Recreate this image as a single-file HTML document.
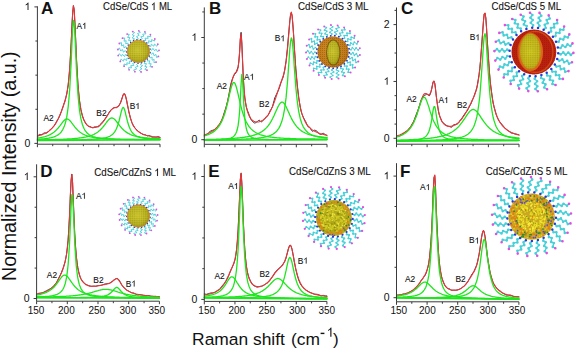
<!DOCTYPE html>
<html><head><meta charset="utf-8"><style>
html,body{margin:0;padding:0;background:#fff;}
svg{display:block;}
text{font-family:"Liberation Sans", sans-serif;fill:#111;}
use{fill:#111;}
.t{stroke:#111;stroke-width:0.1;}
.pl{stroke:#111;stroke-width:0.1;}
</style></head><body>
<svg width="575" height="350" viewBox="0 0 575 350">
<rect width="575" height="350" fill="#fff"/>
<defs>
<path id="one" d="M0.3725,0L0.285,0L0.285,-0.56Q0.24,-0.515 0.17,-0.475Q0.14,-0.458 0.109,-0.445L0.109,-0.53Q0.19,-0.565 0.245,-0.62Q0.30,-0.67 0.325,-0.716L0.3725,-0.716Z" vector-effect="non-scaling-stroke"/>
<radialGradient id="gcore" cx="0.45" cy="0.45" r="0.6"><stop offset="0" stop-color="#d0c830"/><stop offset="0.7" stop-color="#b8b020"/><stop offset="1" stop-color="#909010"/></radialGradient>
<radialGradient id="gcoreY" cx="0.5" cy="0.5" r="0.6"><stop offset="0" stop-color="#d0c820"/><stop offset="0.7" stop-color="#c0b018"/><stop offset="1" stop-color="#b08810"/></radialGradient>
<radialGradient id="gshellB" cx="0.45" cy="0.45" r="0.6"><stop offset="0" stop-color="#d89028"/><stop offset="0.8" stop-color="#c07818"/><stop offset="1" stop-color="#a06010"/></radialGradient>
<radialGradient id="gshellC" cx="0.5" cy="0.5" r="0.55"><stop offset="0" stop-color="#e05018"/><stop offset="0.85" stop-color="#d02a10"/><stop offset="1" stop-color="#a81a08"/></radialGradient>
<radialGradient id="gcoreE" cx="0.5" cy="0.5" r="0.55"><stop offset="0" stop-color="#e0d830"/><stop offset="1" stop-color="#c8b820"/></radialGradient>
<pattern id="tex1" width="2.2" height="2.2" patternUnits="userSpaceOnUse"><circle cx="0.6" cy="0.6" r="0.5" fill="#5a6a10" fill-opacity="0.5"/><circle cx="1.7" cy="1.6" r="0.35" fill="#e8e040" fill-opacity="0.5"/></pattern>
<pattern id="tex2" width="2" height="2" patternUnits="userSpaceOnUse"><circle cx="0.6" cy="0.6" r="0.5" fill="#6a4008" fill-opacity="0.5"/></pattern>
<pattern id="tex3" width="2" height="2" patternUnits="userSpaceOnUse"><circle cx="0.6" cy="0.6" r="0.5" fill="#901000" fill-opacity="0.5"/></pattern>
<pattern id="dotsO" width="3" height="3" patternUnits="userSpaceOnUse"><rect width="3" height="3" fill="#d8c020"/><circle cx="0.8" cy="0.8" r="0.8" fill="#e87018"/><circle cx="2.3" cy="2.3" r="0.6" fill="#3a8a20"/><circle cx="2.3" cy="0.8" r="0.5" fill="#5040c8"/></pattern>
<pattern id="dotsF" width="2.6" height="2.6" patternUnits="userSpaceOnUse"><circle cx="0.7" cy="0.7" r="0.6" fill="#e07818" fill-opacity="0.55"/><circle cx="2" cy="2" r="0.5" fill="#7a8010" fill-opacity="0.5"/></pattern>
<pattern id="dotsM" width="3.4" height="3.4" patternUnits="userSpaceOnUse"><rect width="3.4" height="3.4" fill="#c8b020"/><circle cx="0.9" cy="0.9" r="0.95" fill="#e87818"/><circle cx="2.6" cy="2.6" r="0.8" fill="#2a8a30"/><circle cx="2.6" cy="0.9" r="0.6" fill="#5848d0"/><circle cx="0.9" cy="2.6" r="0.7" fill="#e8d820"/></pattern>
<radialGradient id="gyel" cx="0.5" cy="0.5" r="0.5"><stop offset="0" stop-color="#e8e020" stop-opacity="0.85"/><stop offset="0.55" stop-color="#e0d820" stop-opacity="0.6"/><stop offset="0.8" stop-color="#e0d820" stop-opacity="0.0"/></radialGradient>
</defs>
<path d="M150.1,52.6L151.4,54.3L153.1,52.7L154.0,55.7L155.9,54.4L156.6,57.6L158.4,56.4M149.3,56.0L150.0,58.0L152.1,57.0L152.1,60.2L154.2,59.4L153.9,62.6L156.1,62.1M147.4,59.0L147.5,61.1L149.8,60.8L148.9,63.8L151.2,63.7L149.9,66.7L152.1,66.8M144.8,61.3L144.2,63.4L146.6,63.7L144.8,66.3L147.0,66.9L144.9,69.4L147.0,70.2M141.6,62.8L140.4,64.6L142.6,65.6L140.1,67.6L142.0,68.7L139.3,70.5L141.1,71.9M138.1,63.2L136.5,64.6L138.2,66.2L135.2,67.3L136.7,69.0L133.6,70.0L134.9,71.7M134.6,62.6L132.7,63.4L133.8,65.5L130.7,65.7L131.6,67.8L128.4,67.7L129.1,69.8M131.5,61.0L129.4,61.2L129.9,63.5L126.8,62.8L127.1,65.0L124.0,64.0L124.1,66.2M129.0,58.5L126.9,58.1L126.7,60.5L124.0,58.9L123.6,61.1L120.9,59.2L120.3,61.4M127.3,55.4L125.4,54.4L124.6,56.6L122.4,54.3L121.4,56.3L119.4,53.7L118.2,55.6M126.6,52.0L125.1,50.5L123.6,52.3L122.3,49.4L120.7,51.1L119.5,48.0L117.9,49.5M127.0,48.5L126.0,46.6L124.0,47.9L123.6,44.8L121.6,45.9L121.4,42.6L119.3,43.5M128.3,45.2L128.0,43.1L125.7,43.8L126.2,40.7L124.0,41.2L124.7,38.0L122.5,38.2M130.6,42.6L130.8,40.4L128.5,40.4L129.9,37.6L127.6,37.4L129.3,34.5L127.1,34.1M133.5,40.6L134.4,38.7L132.2,38.0L134.3,35.7L132.2,34.8L134.7,32.6L132.7,31.6M136.9,39.7L138.3,38.1L136.4,36.8L139.2,35.2L137.4,33.7L140.4,32.3L138.8,30.8M140.5,39.8L142.3,38.7L140.8,36.8L143.9,36.1L142.7,34.2L145.9,33.8L144.9,31.8M143.8,40.9L145.9,40.4L145.0,38.2L148.2,38.4L147.5,36.2L150.8,36.7L150.4,34.6M146.6,43.0L148.8,43.0L148.6,40.7L151.6,41.9L151.6,39.6L154.5,41.0L154.8,38.9M148.8,45.8L150.8,46.5L151.3,44.2L153.8,46.2L154.5,44.0L156.9,46.3L157.8,44.2M150.0,49.1L151.7,50.3L152.9,48.3L154.6,50.9L156.0,49.1L157.6,51.9L159.0,50.3" fill="none" stroke="#46d0d8" stroke-width="0.9" stroke-linejoin="round"/>
<path d="M158.4,56.4h0.01M156.1,62.1h0.01M152.1,66.8h0.01M147.0,70.2h0.01M141.1,71.9h0.01M134.9,71.7h0.01M129.1,69.8h0.01M124.1,66.2h0.01M120.3,61.4h0.01M118.2,55.6h0.01M117.9,49.5h0.01M119.3,43.5h0.01M122.5,38.2h0.01M127.1,34.1h0.01M132.7,31.6h0.01M138.8,30.8h0.01M144.9,31.8h0.01M150.4,34.6h0.01M154.8,38.9h0.01M157.8,44.2h0.01M159.0,50.3h0.01" fill="none" stroke="#e050e0" stroke-width="1.8" stroke-linecap="round"/>
<path d="M150.1,52.6h0.01M149.3,56.0h0.01M147.4,59.0h0.01M144.8,61.3h0.01M141.6,62.8h0.01M138.1,63.2h0.01M134.6,62.6h0.01M131.5,61.0h0.01M129.0,58.5h0.01M127.3,55.4h0.01M126.6,52.0h0.01M127.0,48.5h0.01M128.3,45.2h0.01M130.6,42.6h0.01M133.5,40.6h0.01M136.9,39.7h0.01M140.5,39.8h0.01M143.8,40.9h0.01M146.6,43.0h0.01M148.8,45.8h0.01M150.0,49.1h0.01" fill="none" stroke="#2838d8" stroke-width="1.5" stroke-linecap="round"/>
<circle cx="138.4" cy="51.4" r="11.2" fill="url(#gcore)" stroke="#d8782a" stroke-width="0.8"/>
<circle cx="138.4" cy="51.4" r="10.8" fill="url(#tex1)"/>
<path d="M349.3,52.8L351.0,54.3L352.9,52.6L354.4,55.3L356.4,53.6L357.8,56.4L359.9,54.9M348.6,56.8L349.8,58.7L352.1,57.5L352.9,60.5L355.3,59.4L356.0,62.5L358.3,61.5M346.9,60.6L347.6,62.7L350.2,62.1L350.2,65.2L352.7,64.7L352.6,67.9L355.1,67.5M344.3,63.7L344.5,66.0L347.1,66.0L346.4,69.0L348.9,69.2L348.1,72.2L350.6,72.5M341.0,66.2L340.7,68.4L343.2,69.1L341.7,71.8L344.2,72.6L342.6,75.4L344.9,76.3M337.3,67.7L336.4,69.8L338.6,71.1L336.5,73.4L338.7,74.8L336.5,77.0L338.5,78.5M333.2,68.3L331.8,70.1L333.7,71.9L331.1,73.6L332.8,75.5L330.1,77.1L331.7,79.0M329.1,67.8L327.4,69.2L328.7,71.4L325.8,72.4L327.0,74.7L324.0,75.6L325.1,77.8M325.3,66.4L323.3,67.3L324.0,69.8L320.9,70.0L321.6,72.5L318.4,72.6L318.9,75.0M322.0,64.0L319.8,64.4L319.9,67.0L316.8,66.4L316.8,69.0L313.7,68.3L313.6,70.8M319.4,60.9L317.1,60.7L316.6,63.2L313.7,62.0L313.1,64.4L310.3,63.0L309.5,65.4M317.6,57.2L315.4,56.5L314.3,58.8L311.9,56.9L310.6,59.1L308.3,57.0L306.9,59.1M316.7,53.2L314.9,52.0L313.2,53.9L311.3,51.5L309.6,53.3L307.8,50.7L306.0,52.4M317.0,49.2L315.5,47.5L313.3,49.0L312.1,46.1L310.0,47.4L308.9,44.5L306.7,45.7M318.2,45.2L317.1,43.2L314.7,44.2L314.3,41.1L311.8,41.9L311.5,38.7L309.1,39.4M320.3,41.8L319.8,39.6L317.2,39.9L317.6,36.8L315.0,36.9L315.5,33.8L313.0,33.8M323.3,38.9L323.3,36.7L320.8,36.3L321.8,33.4L319.3,32.9L320.6,30.0L318.1,29.4M326.8,36.9L327.4,34.8L325.0,33.8L326.8,31.2L324.5,30.1L326.4,27.6L324.2,26.4M330.7,35.9L331.9,33.9L329.8,32.4L332.2,30.3L330.2,28.7L332.7,26.8L330.9,25.1M334.8,35.8L336.4,34.2L334.8,32.2L337.6,30.8L336.1,28.7L339.0,27.5L337.6,25.4M338.8,36.8L340.7,35.6L339.7,33.3L342.7,32.6L341.8,30.2L344.9,29.7L344.1,27.4M342.4,38.7L344.6,38.1L344.1,35.5L347.2,35.6L346.9,33.1L350.1,33.4L349.9,30.9M345.4,41.4L347.7,41.4L347.9,38.8L350.9,39.7L351.2,37.2L354.2,38.2L354.6,35.8M347.7,44.9L349.9,45.4L350.7,42.9L353.3,44.5L354.3,42.2L356.9,43.9L358.0,41.6M349.0,48.7L351.0,49.8L352.4,47.6L354.6,49.8L356.1,47.8L358.2,50.1L359.8,48.2" fill="none" stroke="#46d0d8" stroke-width="1.0" stroke-linejoin="round"/>
<path d="M351.0,54.3h0.01M352.9,52.6h0.01M354.4,55.3h0.01M356.4,53.6h0.01M357.8,56.4h0.01M349.8,58.7h0.01M352.1,57.5h0.01M352.9,60.5h0.01M355.3,59.4h0.01M356.0,62.5h0.01M347.6,62.7h0.01M350.2,62.1h0.01M350.2,65.2h0.01M352.7,64.7h0.01M352.6,67.9h0.01M344.5,66.0h0.01M347.1,66.0h0.01M346.4,69.0h0.01M348.9,69.2h0.01M348.1,72.2h0.01M340.7,68.4h0.01M343.2,69.1h0.01M341.7,71.8h0.01M344.2,72.6h0.01M342.6,75.4h0.01M336.4,69.8h0.01M338.6,71.1h0.01M336.5,73.4h0.01M338.7,74.8h0.01M336.5,77.0h0.01M331.8,70.1h0.01M333.7,71.9h0.01M331.1,73.6h0.01M332.8,75.5h0.01M330.1,77.1h0.01M327.4,69.2h0.01M328.7,71.4h0.01M325.8,72.4h0.01M327.0,74.7h0.01M324.0,75.6h0.01M323.3,67.3h0.01M324.0,69.8h0.01M320.9,70.0h0.01M321.6,72.5h0.01M318.4,72.6h0.01M319.8,64.4h0.01M319.9,67.0h0.01M316.8,66.4h0.01M316.8,69.0h0.01M313.7,68.3h0.01M317.1,60.7h0.01M316.6,63.2h0.01M313.7,62.0h0.01M313.1,64.4h0.01M310.3,63.0h0.01M315.4,56.5h0.01M314.3,58.8h0.01M311.9,56.9h0.01M310.6,59.1h0.01M308.3,57.0h0.01M314.9,52.0h0.01M313.2,53.9h0.01M311.3,51.5h0.01M309.6,53.3h0.01M307.8,50.7h0.01M315.5,47.5h0.01M313.3,49.0h0.01M312.1,46.1h0.01M310.0,47.4h0.01M308.9,44.5h0.01M317.1,43.2h0.01M314.7,44.2h0.01M314.3,41.1h0.01M311.8,41.9h0.01M311.5,38.7h0.01M319.8,39.6h0.01M317.2,39.9h0.01M317.6,36.8h0.01M315.0,36.9h0.01M315.5,33.8h0.01M323.3,36.7h0.01M320.8,36.3h0.01M321.8,33.4h0.01M319.3,32.9h0.01M320.6,30.0h0.01M327.4,34.8h0.01M325.0,33.8h0.01M326.8,31.2h0.01M324.5,30.1h0.01M326.4,27.6h0.01M331.9,33.9h0.01M329.8,32.4h0.01M332.2,30.3h0.01M330.2,28.7h0.01M332.7,26.8h0.01M336.4,34.2h0.01M334.8,32.2h0.01M337.6,30.8h0.01M336.1,28.7h0.01M339.0,27.5h0.01M340.7,35.6h0.01M339.7,33.3h0.01M342.7,32.6h0.01M341.8,30.2h0.01M344.9,29.7h0.01M344.6,38.1h0.01M344.1,35.5h0.01M347.2,35.6h0.01M346.9,33.1h0.01M350.1,33.4h0.01M347.7,41.4h0.01M347.9,38.8h0.01M350.9,39.7h0.01M351.2,37.2h0.01M354.2,38.2h0.01M349.9,45.4h0.01M350.7,42.9h0.01M353.3,44.5h0.01M354.3,42.2h0.01M356.9,43.9h0.01M351.0,49.8h0.01M352.4,47.6h0.01M354.6,49.8h0.01M356.1,47.8h0.01M358.2,50.1h0.01" fill="none" stroke="#46d0d8" stroke-width="1.7" stroke-linecap="round"/>
<path d="M359.9,54.9h0.01M358.3,61.5h0.01M355.1,67.5h0.01M350.6,72.5h0.01M344.9,76.3h0.01M338.5,78.5h0.01M331.7,79.0h0.01M325.1,77.8h0.01M318.9,75.0h0.01M313.6,70.8h0.01M309.5,65.4h0.01M306.9,59.1h0.01M306.0,52.4h0.01M306.7,45.7h0.01M309.1,39.4h0.01M313.0,33.8h0.01M318.1,29.4h0.01M324.2,26.4h0.01M330.9,25.1h0.01M337.6,25.4h0.01M344.1,27.4h0.01M349.9,30.9h0.01M354.6,35.8h0.01M358.0,41.6h0.01M359.8,48.2h0.01" fill="none" stroke="#e050e0" stroke-width="2.0" stroke-linecap="round"/>
<path d="M349.3,52.8h0.01M348.6,56.8h0.01M346.9,60.6h0.01M344.3,63.7h0.01M341.0,66.2h0.01M337.3,67.7h0.01M333.2,68.3h0.01M329.1,67.8h0.01M325.3,66.4h0.01M322.0,64.0h0.01M319.4,60.9h0.01M317.6,57.2h0.01M316.7,53.2h0.01M317.0,49.2h0.01M318.2,45.2h0.01M320.3,41.8h0.01M323.3,38.9h0.01M326.8,36.9h0.01M330.7,35.9h0.01M334.8,35.8h0.01M338.8,36.8h0.01M342.4,38.7h0.01M345.4,41.4h0.01M347.7,44.9h0.01M349.0,48.7h0.01" fill="none" stroke="#2838d8" stroke-width="1.9" stroke-linecap="round"/>
<circle cx="333.0" cy="52.0" r="15.6" fill="url(#gshellB)"/>
<circle cx="333.0" cy="52.0" r="15.6" fill="url(#tex2)"/>
<ellipse cx="333.3" cy="52.5" rx="7.2" ry="13" fill="#7a5a10"/>
<ellipse cx="333.3" cy="52.5" rx="6.2" ry="12" fill="url(#gcore)"/>
<ellipse cx="333.3" cy="52.5" rx="6.2" ry="12" fill="url(#tex1)"/>
<path d="M558.2,53.2L560.6,54.4L563.3,52.4L565.7,54.7L568.3,52.6L570.8,54.9L573.4,52.9M557.2,59.0L559.3,60.8L562.3,59.4L564.1,62.2L567.2,60.8L569.0,63.7L572.0,62.3M554.8,64.4L556.4,66.6L559.7,66.0L560.8,69.2L564.1,68.6L565.2,71.7L568.5,71.1M551.3,69.0L552.3,71.6L555.7,71.8L555.9,75.1L559.3,75.3L559.5,78.7L562.9,78.9M546.7,72.7L547.1,75.4L550.3,76.4L549.8,79.7L553.0,80.7L552.4,84.0L555.6,85.0M541.4,75.1L541.1,77.9L544.0,79.6L542.7,82.7L545.5,84.4L544.2,87.5L547.1,89.2M535.6,76.2L534.7,78.8L537.1,81.2L535.1,83.9L537.4,86.3L535.4,89.0L537.8,91.3M529.8,75.9L528.3,78.3L530.0,81.1L527.4,83.2L529.1,86.1L526.5,88.2L528.3,91.1M524.2,74.3L522.1,76.1L523.1,79.3L520.1,80.8L521.1,84.0L518.1,85.4L519.1,88.6M519.1,71.3L516.7,72.6L516.9,76.0L513.6,76.6L513.8,80.0L510.5,80.7L510.7,84.0M514.9,67.2L512.3,67.9L511.7,71.2L508.3,71.1L507.7,74.4L504.4,74.2L503.7,77.5M511.8,62.2L509.1,62.3L507.7,65.3L504.5,64.4L503.1,67.5L499.9,66.5L498.5,69.6M510.0,56.6L507.3,56.0L505.3,58.7L502.4,57.0L500.3,59.6L497.4,58.0L495.3,60.6M509.6,50.8L507.2,49.6L504.5,51.6L502.1,49.3L499.5,51.4L497.0,49.1L494.4,51.1M510.6,45.0L508.5,43.2L505.5,44.6L503.7,41.8L500.6,43.2L498.8,40.3L495.8,41.7M513.0,39.6L511.4,37.4L508.1,38.0L507.0,34.8L503.7,35.4L502.6,32.3L499.3,32.9M516.5,35.0L515.5,32.4L512.1,32.2L511.9,28.9L508.5,28.7L508.3,25.3L504.9,25.1M521.1,31.3L520.7,28.6L517.5,27.6L518.0,24.3L514.8,23.3L515.4,20.0L512.2,19.0M526.4,28.9L526.7,26.1L523.8,24.4L525.1,21.3L522.3,19.6L523.6,16.5L520.7,14.8M532.2,27.8L533.1,25.2L530.7,22.8L532.7,20.1L530.4,17.7L532.4,15.0L530.0,12.7M538.0,28.1L539.5,25.7L537.8,22.9L540.4,20.8L538.7,17.9L541.3,15.8L539.5,12.9M543.6,29.7L545.7,27.9L544.7,24.7L547.7,23.2L546.7,20.0L549.7,18.6L548.7,15.4M548.7,32.7L551.1,31.4L550.9,28.0L554.2,27.4L554.0,24.0L557.3,23.3L557.1,20.0M552.9,36.8L555.5,36.1L556.1,32.8L559.5,32.9L560.1,29.6L563.4,29.8L564.1,26.5M556.0,41.8L558.7,41.7L560.1,38.7L563.3,39.6L564.7,36.5L567.9,37.5L569.3,34.4M557.8,47.4L560.5,48.0L562.5,45.3L565.4,47.0L567.5,44.4L570.4,46.0L572.5,43.4" fill="none" stroke="#46d0d8" stroke-width="1.4" stroke-linejoin="round"/>
<path d="M560.6,54.4h0.01M563.3,52.4h0.01M565.7,54.7h0.01M568.3,52.6h0.01M570.8,54.9h0.01M559.3,60.8h0.01M562.3,59.4h0.01M564.1,62.2h0.01M567.2,60.8h0.01M569.0,63.7h0.01M556.4,66.6h0.01M559.7,66.0h0.01M560.8,69.2h0.01M564.1,68.6h0.01M565.2,71.7h0.01M552.3,71.6h0.01M555.7,71.8h0.01M555.9,75.1h0.01M559.3,75.3h0.01M559.5,78.7h0.01M547.1,75.4h0.01M550.3,76.4h0.01M549.8,79.7h0.01M553.0,80.7h0.01M552.4,84.0h0.01M541.1,77.9h0.01M544.0,79.6h0.01M542.7,82.7h0.01M545.5,84.4h0.01M544.2,87.5h0.01M534.7,78.8h0.01M537.1,81.2h0.01M535.1,83.9h0.01M537.4,86.3h0.01M535.4,89.0h0.01M528.3,78.3h0.01M530.0,81.1h0.01M527.4,83.2h0.01M529.1,86.1h0.01M526.5,88.2h0.01M522.1,76.1h0.01M523.1,79.3h0.01M520.1,80.8h0.01M521.1,84.0h0.01M518.1,85.4h0.01M516.7,72.6h0.01M516.9,76.0h0.01M513.6,76.6h0.01M513.8,80.0h0.01M510.5,80.7h0.01M512.3,67.9h0.01M511.7,71.2h0.01M508.3,71.1h0.01M507.7,74.4h0.01M504.4,74.2h0.01M509.1,62.3h0.01M507.7,65.3h0.01M504.5,64.4h0.01M503.1,67.5h0.01M499.9,66.5h0.01M507.3,56.0h0.01M505.3,58.7h0.01M502.4,57.0h0.01M500.3,59.6h0.01M497.4,58.0h0.01M507.2,49.6h0.01M504.5,51.6h0.01M502.1,49.3h0.01M499.5,51.4h0.01M497.0,49.1h0.01M508.5,43.2h0.01M505.5,44.6h0.01M503.7,41.8h0.01M500.6,43.2h0.01M498.8,40.3h0.01M511.4,37.4h0.01M508.1,38.0h0.01M507.0,34.8h0.01M503.7,35.4h0.01M502.6,32.3h0.01M515.5,32.4h0.01M512.1,32.2h0.01M511.9,28.9h0.01M508.5,28.7h0.01M508.3,25.3h0.01M520.7,28.6h0.01M517.5,27.6h0.01M518.0,24.3h0.01M514.8,23.3h0.01M515.4,20.0h0.01M526.7,26.1h0.01M523.8,24.4h0.01M525.1,21.3h0.01M522.3,19.6h0.01M523.6,16.5h0.01M533.1,25.2h0.01M530.7,22.8h0.01M532.7,20.1h0.01M530.4,17.7h0.01M532.4,15.0h0.01M539.5,25.7h0.01M537.8,22.9h0.01M540.4,20.8h0.01M538.7,17.9h0.01M541.3,15.8h0.01M545.7,27.9h0.01M544.7,24.7h0.01M547.7,23.2h0.01M546.7,20.0h0.01M549.7,18.6h0.01M551.1,31.4h0.01M550.9,28.0h0.01M554.2,27.4h0.01M554.0,24.0h0.01M557.3,23.3h0.01M555.5,36.1h0.01M556.1,32.8h0.01M559.5,32.9h0.01M560.1,29.6h0.01M563.4,29.8h0.01M558.7,41.7h0.01M560.1,38.7h0.01M563.3,39.6h0.01M564.7,36.5h0.01M567.9,37.5h0.01M560.5,48.0h0.01M562.5,45.3h0.01M565.4,47.0h0.01M567.5,44.4h0.01M570.4,46.0h0.01" fill="none" stroke="#46d0d8" stroke-width="2.6" stroke-linecap="round"/>
<path d="M573.4,52.9h0.01M572.0,62.3h0.01M568.5,71.1h0.01M562.9,78.9h0.01M555.6,85.0h0.01M547.1,89.2h0.01M537.8,91.3h0.01M528.3,91.1h0.01M519.1,88.6h0.01M510.7,84.0h0.01M503.7,77.5h0.01M498.5,69.6h0.01M495.3,60.6h0.01M494.4,51.1h0.01M495.8,41.7h0.01M499.3,32.9h0.01M504.9,25.1h0.01M512.2,19.0h0.01M520.7,14.8h0.01M530.0,12.7h0.01M539.5,12.9h0.01M548.7,15.4h0.01M557.1,20.0h0.01M564.1,26.5h0.01M569.3,34.4h0.01M572.5,43.4h0.01" fill="none" stroke="#e050e0" stroke-width="2.6" stroke-linecap="round"/>
<path d="M558.2,53.2h0.01M557.2,59.0h0.01M554.8,64.4h0.01M551.3,69.0h0.01M546.7,72.7h0.01M541.4,75.1h0.01M535.6,76.2h0.01M529.8,75.9h0.01M524.2,74.3h0.01M519.1,71.3h0.01M514.9,67.2h0.01M511.8,62.2h0.01M510.0,56.6h0.01M509.6,50.8h0.01M510.6,45.0h0.01M513.0,39.6h0.01M516.5,35.0h0.01M521.1,31.3h0.01M526.4,28.9h0.01M532.2,27.8h0.01M538.0,28.1h0.01M543.6,29.7h0.01M548.7,32.7h0.01M552.9,36.8h0.01M556.0,41.8h0.01M557.8,47.4h0.01" fill="none" stroke="#2838d8" stroke-width="2.5" stroke-linecap="round"/>
<circle cx="533.9" cy="52.0" r="22.4" fill="#b82010"/>
<circle cx="533.9" cy="52.0" r="22.4" fill="url(#tex3)"/>
<ellipse cx="535.4" cy="52.0" rx="17.5" ry="20.5" fill="none" stroke="#d85a18" stroke-width="1.3" stroke-opacity="0.7"/>
<ellipse cx="530.7" cy="52.0" rx="12.3" ry="19" fill="#d86a18"/>
<ellipse cx="530.3" cy="51.4" rx="10.3" ry="17.7" fill="url(#gcoreY)"/>
<ellipse cx="530.3" cy="51.4" rx="10.3" ry="17.7" fill="url(#tex1)"/>
<path d="M150.1,217.2L151.2,218.9L152.7,217.2L153.4,220.2L154.9,218.8L155.4,221.8L157.1,220.6M149.3,220.6L149.8,222.5L151.7,221.4L151.5,224.4L153.4,223.5L152.9,226.6L154.9,225.9M147.4,223.6L147.3,225.6L149.5,225.1L148.4,227.9L150.5,227.6L149.2,230.4L151.3,230.3M144.8,225.9L144.1,227.8L146.3,227.9L144.4,230.3L146.6,230.7L144.4,233.0L146.5,233.5M141.6,227.4L140.4,228.9L142.5,229.7L140.0,231.5L141.9,232.4L139.2,234.0L141.0,235.1M138.1,227.8L136.5,228.9L138.2,230.3L135.3,231.2L136.9,232.7L133.8,233.4L135.2,235.0M134.6,227.2L132.8,227.8L134.0,229.6L131.0,229.7L132.0,231.5L128.9,231.3L129.8,233.2M131.5,225.6L129.5,225.6L130.2,227.7L127.3,226.9L127.7,229.0L124.8,227.8L125.1,229.9M129.0,223.1L127.1,222.6L127.1,224.8L124.6,223.1L124.4,225.2L121.9,223.3L121.6,225.4M127.3,220.0L125.7,219.0L125.0,221.1L123.1,218.7L122.3,220.7L120.5,218.1L119.6,220.0M126.6,216.6L125.3,215.1L124.1,216.9L123.0,214.1L121.6,215.7L120.7,212.8L119.2,214.3M127.0,213.1L126.2,211.3L124.5,212.7L124.2,209.6L122.4,210.8L122.4,207.7L120.6,208.7M128.3,209.8L128.1,207.9L126.1,208.7L126.7,205.7L124.7,206.3L125.6,203.3L123.6,203.8M130.6,207.2L131.0,205.2L128.8,205.4L130.3,202.7L128.1,202.7L129.9,200.1L127.8,199.9M133.5,205.2L134.5,203.5L132.3,203.0L134.6,200.9L132.5,200.3L134.9,198.3L133.0,197.5M136.9,204.3L138.4,202.9L136.4,201.8L139.2,200.5L137.4,199.3L140.3,198.1L138.7,196.8M140.5,204.4L142.2,203.5L140.7,201.9L143.7,201.4L142.4,199.7L145.5,199.5L144.4,197.7M143.8,205.5L145.7,205.2L144.8,203.2L147.8,203.6L147.0,201.6L150.1,202.3L149.5,200.3M146.6,207.6L148.6,207.8L148.3,205.6L151.0,206.9L150.9,204.8L153.6,206.3L153.6,204.2M148.8,210.4L150.6,211.2L150.9,209.0L153.1,211.0L153.6,209.0L155.8,211.2L156.4,209.3M150.0,213.7L151.4,215.0L152.4,213.0L153.9,215.6L155.0,213.8L156.4,216.6L157.6,214.9" fill="none" stroke="#46d0d8" stroke-width="0.9" stroke-linejoin="round"/>
<path d="M157.1,220.6h0.01M154.9,225.9h0.01M151.3,230.3h0.01M146.5,233.5h0.01M141.0,235.1h0.01M135.2,235.0h0.01M129.8,233.2h0.01M125.1,229.9h0.01M121.6,225.4h0.01M119.6,220.0h0.01M119.2,214.3h0.01M120.6,208.7h0.01M123.6,203.8h0.01M127.8,199.9h0.01M133.0,197.5h0.01M138.7,196.8h0.01M144.4,197.7h0.01M149.5,200.3h0.01M153.6,204.2h0.01M156.4,209.3h0.01M157.6,214.9h0.01" fill="none" stroke="#e050e0" stroke-width="1.8" stroke-linecap="round"/>
<path d="M150.1,217.2h0.01M149.3,220.6h0.01M147.4,223.6h0.01M144.8,225.9h0.01M141.6,227.4h0.01M138.1,227.8h0.01M134.6,227.2h0.01M131.5,225.6h0.01M129.0,223.1h0.01M127.3,220.0h0.01M126.6,216.6h0.01M127.0,213.1h0.01M128.3,209.8h0.01M130.6,207.2h0.01M133.5,205.2h0.01M136.9,204.3h0.01M140.5,204.4h0.01M143.8,205.5h0.01M146.6,207.6h0.01M148.8,210.4h0.01M150.0,213.7h0.01" fill="none" stroke="#2838d8" stroke-width="1.5" stroke-linecap="round"/>
<circle cx="138.4" cy="216.0" r="11.2" fill="url(#gcore)" stroke="#d8782a" stroke-width="0.8"/>
<circle cx="138.4" cy="216.0" r="10.8" fill="url(#tex1)"/>
<path d="M352.7,218.9L354.6,220.6L356.8,219.3L358.5,222.1L360.7,221.0L362.3,224.0L364.5,223.2M351.8,223.8L353.2,225.8L355.6,225.2L356.6,228.3L359.0,227.9L359.7,231.2L362.1,230.9M349.7,228.2L350.5,230.6L353.0,230.5L353.1,233.8L355.6,234.0L355.4,237.4L357.8,237.8M346.5,231.9L346.7,234.4L349.1,235.1L348.4,238.3L350.7,239.1L349.7,242.3L351.9,243.3M342.5,234.7L342.0,237.2L344.2,238.4L342.6,241.3L344.7,242.7L342.9,245.6L344.7,247.1M337.9,236.4L336.8,238.7L338.6,240.4L336.3,242.8L337.9,244.7L335.4,246.9L336.8,248.9M333.0,236.8L331.3,238.7L332.6,240.9L329.8,242.6L330.9,244.8L327.9,246.4L328.7,248.6M328.1,235.9L326.1,237.3L326.7,239.7L323.6,240.7L324.0,243.1L320.7,243.8L321.0,246.2M323.7,233.8L321.3,234.6L321.4,237.1L318.1,237.2L317.9,239.7L314.5,239.5L314.1,241.9M320.0,230.6L317.5,230.8L316.8,233.2L313.6,232.5L312.8,234.8L309.6,233.8L308.6,236.0M317.2,226.6L314.7,226.1L313.5,228.3L310.6,226.7L309.2,228.8L306.3,227.0L304.8,228.8M315.5,222.0L313.2,220.9L311.5,222.7L309.1,220.4L307.2,222.0L305.0,219.5L303.0,220.9M315.1,217.1L313.2,215.4L311.0,216.7L309.3,213.9L307.1,215.0L305.5,212.0L303.3,212.8M316.0,212.2L314.6,210.2L312.2,210.8L311.2,207.7L308.8,208.1L308.1,204.8L305.7,205.1M318.1,207.8L317.3,205.4L314.8,205.5L314.7,202.2L312.2,202.0L312.4,198.6L310.0,198.2M321.3,204.1L321.1,201.6L318.7,200.9L319.4,197.7L317.1,196.9L318.1,193.7L315.9,192.7M325.3,201.3L325.8,198.8L323.6,197.6L325.2,194.7L323.1,193.3L324.9,190.4L323.1,188.9M329.9,199.6L331.0,197.3L329.2,195.6L331.5,193.2L329.9,191.3L332.4,189.1L331.0,187.1M334.8,199.2L336.5,197.3L335.2,195.1L338.0,193.4L336.9,191.2L339.9,189.6L339.1,187.4M339.7,200.1L341.7,198.7L341.1,196.3L344.2,195.3L343.8,192.9L347.1,192.2L346.8,189.8M344.1,202.2L346.5,201.4L346.4,198.9L349.7,198.8L349.9,196.3L353.3,196.5L353.7,194.1M347.8,205.4L350.3,205.2L351.0,202.8L354.2,203.5L355.0,201.2L358.2,202.2L359.2,200.0M350.6,209.4L353.1,209.9L354.3,207.7L357.2,209.3L358.6,207.2L361.5,209.0L363.0,207.2M352.3,214.0L354.6,215.1L356.3,213.3L358.7,215.6L360.6,214.0L362.8,216.5L364.8,215.1" fill="none" stroke="#46d0d8" stroke-width="1.1" stroke-linejoin="round"/>
<path d="M354.6,220.6h0.01M356.8,219.3h0.01M358.5,222.1h0.01M360.7,221.0h0.01M362.3,224.0h0.01M353.2,225.8h0.01M355.6,225.2h0.01M356.6,228.3h0.01M359.0,227.9h0.01M359.7,231.2h0.01M350.5,230.6h0.01M353.0,230.5h0.01M353.1,233.8h0.01M355.6,234.0h0.01M355.4,237.4h0.01M346.7,234.4h0.01M349.1,235.1h0.01M348.4,238.3h0.01M350.7,239.1h0.01M349.7,242.3h0.01M342.0,237.2h0.01M344.2,238.4h0.01M342.6,241.3h0.01M344.7,242.7h0.01M342.9,245.6h0.01M336.8,238.7h0.01M338.6,240.4h0.01M336.3,242.8h0.01M337.9,244.7h0.01M335.4,246.9h0.01M331.3,238.7h0.01M332.6,240.9h0.01M329.8,242.6h0.01M330.9,244.8h0.01M327.9,246.4h0.01M326.1,237.3h0.01M326.7,239.7h0.01M323.6,240.7h0.01M324.0,243.1h0.01M320.7,243.8h0.01M321.3,234.6h0.01M321.4,237.1h0.01M318.1,237.2h0.01M317.9,239.7h0.01M314.5,239.5h0.01M317.5,230.8h0.01M316.8,233.2h0.01M313.6,232.5h0.01M312.8,234.8h0.01M309.6,233.8h0.01M314.7,226.1h0.01M313.5,228.3h0.01M310.6,226.7h0.01M309.2,228.8h0.01M306.3,227.0h0.01M313.2,220.9h0.01M311.5,222.7h0.01M309.1,220.4h0.01M307.2,222.0h0.01M305.0,219.5h0.01M313.2,215.4h0.01M311.0,216.7h0.01M309.3,213.9h0.01M307.1,215.0h0.01M305.5,212.0h0.01M314.6,210.2h0.01M312.2,210.8h0.01M311.2,207.7h0.01M308.8,208.1h0.01M308.1,204.8h0.01M317.3,205.4h0.01M314.8,205.5h0.01M314.7,202.2h0.01M312.2,202.0h0.01M312.4,198.6h0.01M321.1,201.6h0.01M318.7,200.9h0.01M319.4,197.7h0.01M317.1,196.9h0.01M318.1,193.7h0.01M325.8,198.8h0.01M323.6,197.6h0.01M325.2,194.7h0.01M323.1,193.3h0.01M324.9,190.4h0.01M331.0,197.3h0.01M329.2,195.6h0.01M331.5,193.2h0.01M329.9,191.3h0.01M332.4,189.1h0.01M336.5,197.3h0.01M335.2,195.1h0.01M338.0,193.4h0.01M336.9,191.2h0.01M339.9,189.6h0.01M341.7,198.7h0.01M341.1,196.3h0.01M344.2,195.3h0.01M343.8,192.9h0.01M347.1,192.2h0.01M346.5,201.4h0.01M346.4,198.9h0.01M349.7,198.8h0.01M349.9,196.3h0.01M353.3,196.5h0.01M350.3,205.2h0.01M351.0,202.8h0.01M354.2,203.5h0.01M355.0,201.2h0.01M358.2,202.2h0.01M353.1,209.9h0.01M354.3,207.7h0.01M357.2,209.3h0.01M358.6,207.2h0.01M361.5,209.0h0.01M354.6,215.1h0.01M356.3,213.3h0.01M358.7,215.6h0.01M360.6,214.0h0.01M362.8,216.5h0.01" fill="none" stroke="#46d0d8" stroke-width="2.2" stroke-linecap="round"/>
<path d="M364.5,223.2h0.01M362.1,230.9h0.01M357.8,237.8h0.01M351.9,243.3h0.01M344.7,247.1h0.01M336.8,248.9h0.01M328.7,248.6h0.01M321.0,246.2h0.01M314.1,241.9h0.01M308.6,236.0h0.01M304.8,228.8h0.01M303.0,220.9h0.01M303.3,212.8h0.01M305.7,205.1h0.01M310.0,198.2h0.01M315.9,192.7h0.01M323.1,188.9h0.01M331.0,187.1h0.01M339.1,187.4h0.01M346.8,189.8h0.01M353.7,194.1h0.01M359.2,200.0h0.01M363.0,207.2h0.01M364.8,215.1h0.01" fill="none" stroke="#e050e0" stroke-width="2.3" stroke-linecap="round"/>
<path d="M352.7,218.9h0.01M351.8,223.8h0.01M349.7,228.2h0.01M346.5,231.9h0.01M342.5,234.7h0.01M337.9,236.4h0.01M333.0,236.8h0.01M328.1,235.9h0.01M323.7,233.8h0.01M320.0,230.6h0.01M317.2,226.6h0.01M315.5,222.0h0.01M315.1,217.1h0.01M316.0,212.2h0.01M318.1,207.8h0.01M321.3,204.1h0.01M325.3,201.3h0.01M329.9,199.6h0.01M334.8,199.2h0.01M339.7,200.1h0.01M344.1,202.2h0.01M347.8,205.4h0.01M350.6,209.4h0.01M352.3,214.0h0.01" fill="none" stroke="#2838d8" stroke-width="2.2" stroke-linecap="round"/>
<circle cx="333.9" cy="218.0" r="17.9" fill="#b0a818"/>
<path d="M332.2,220.1h0.01M332.6,215.9h0.01M343.4,214.4h0.01M332.0,206.9h0.01M323.6,209.3h0.01M341.2,209.3h0.01M324.2,220.1h0.01M338.0,210.1h0.01M335.6,226.5h0.01M342.4,225.3h0.01M330.9,228.4h0.01M323.1,215.5h0.01M320.9,217.9h0.01M338.6,223.6h0.01M336.4,231.6h0.01M323.3,225.9h0.01M322.2,212.1h0.01M334.5,226.0h0.01M329.6,230.4h0.01M334.5,214.4h0.01M336.2,217.7h0.01M331.5,229.3h0.01M327.3,211.4h0.01M323.2,224.5h0.01M344.7,225.3h0.01M340.9,227.6h0.01M339.8,212.2h0.01M341.1,227.4h0.01M329.1,210.3h0.01M336.1,210.3h0.01M331.4,217.2h0.01M324.7,218.8h0.01M341.9,216.9h0.01M343.9,219.1h0.01M337.2,222.8h0.01M323.5,212.4h0.01M331.2,209.3h0.01M329.2,223.5h0.01M327.6,219.7h0.01M336.2,217.5h0.01M326.9,226.1h0.01M341.4,220.5h0.01M327.4,214.4h0.01M344.5,219.5h0.01M336.1,206.4h0.01M333.7,219.3h0.01M345.6,224.0h0.01M331.1,205.3h0.01M323.8,208.5h0.01M327.2,219.7h0.01M333.2,209.4h0.01M334.5,209.9h0.01M332.9,213.4h0.01M335.1,205.5h0.01M333.2,216.9h0.01M344.3,215.0h0.01M328.1,214.1h0.01M325.2,207.3h0.01M341.9,212.0h0.01M322.4,214.5h0.01M330.3,225.2h0.01M329.5,218.3h0.01M334.5,225.7h0.01M324.8,220.7h0.01M332.6,204.5h0.01M345.5,210.4h0.01M324.6,220.6h0.01M339.6,211.1h0.01M338.3,224.8h0.01M342.9,217.5h0.01M332.9,206.3h0.01M338.6,207.0h0.01M342.0,211.3h0.01M344.3,213.4h0.01M328.9,223.7h0.01M334.5,218.2h0.01M340.5,218.7h0.01M321.7,224.8h0.01M333.5,227.4h0.01M321.2,216.4h0.01M346.9,221.2h0.01M332.6,214.2h0.01M328.9,205.6h0.01M328.9,227.5h0.01M323.3,210.1h0.01" stroke="#e8e040" stroke-width="1.7" stroke-linecap="round" fill="none"/>
<path d="M332.7,218.3h0.01M322.6,218.4h0.01M334.6,223.0h0.01M330.1,230.7h0.01M337.5,213.4h0.01M322.3,213.3h0.01M341.0,217.9h0.01M328.4,225.1h0.01M335.7,227.6h0.01M342.1,223.0h0.01M335.2,218.1h0.01M327.5,212.8h0.01M323.3,222.7h0.01M335.0,230.6h0.01M334.1,227.2h0.01M335.7,218.5h0.01M338.5,214.6h0.01M328.7,223.0h0.01M332.9,206.2h0.01M331.1,219.0h0.01M331.9,224.0h0.01M325.7,224.6h0.01M325.7,215.3h0.01M338.6,213.5h0.01M329.9,207.1h0.01M334.5,219.6h0.01M323.9,227.5h0.01M344.7,213.9h0.01M347.1,218.6h0.01M323.5,219.6h0.01M331.3,218.4h0.01M344.3,223.7h0.01M335.5,220.2h0.01M342.4,213.8h0.01M334.6,209.5h0.01M330.6,215.6h0.01M342.9,211.0h0.01M322.4,220.0h0.01M337.4,225.7h0.01M327.3,222.3h0.01M335.8,208.8h0.01M328.4,206.7h0.01M327.2,215.3h0.01" stroke="#8a8a10" stroke-width="1.7" stroke-linecap="round" fill="none"/>
<path d="M326.9,203.3h0.01M329.8,234.4h0.01M351.0,219.3h0.01M327.5,232.7h0.01M334.1,235.3h0.01M326.1,206.3h0.01M332.5,234.7h0.01M317.2,216.6h0.01M343.7,228.3h0.01M347.6,211.7h0.01" stroke="#5848d0" stroke-width="1.7" stroke-linecap="round" fill="none"/>
<path d="M339.4,222.1h0.01M339.7,216.5h0.01M324.2,210.4h0.01M343.9,209.8h0.01M331.1,207.7h0.01M327.8,210.7h0.01M337.4,210.6h0.01M325.6,216.1h0.01M340.7,221.0h0.01M333.3,226.3h0.01M336.5,222.5h0.01M336.9,221.9h0.01M342.3,220.9h0.01M337.5,217.3h0.01M340.3,207.4h0.01M329.8,221.0h0.01M325.9,207.8h0.01M338.4,217.8h0.01M341.4,220.5h0.01M320.9,216.4h0.01M323.1,217.1h0.01M341.6,206.5h0.01M338.0,227.2h0.01M339.0,225.8h0.01M323.9,219.0h0.01M346.2,220.1h0.01M334.8,220.6h0.01M325.6,217.0h0.01M333.1,211.5h0.01M334.3,209.1h0.01M335.0,215.7h0.01M330.8,219.1h0.01M324.6,226.1h0.01M331.1,228.4h0.01M330.4,224.6h0.01M340.5,206.9h0.01M332.5,227.5h0.01M332.7,218.5h0.01M332.3,226.6h0.01M330.5,226.0h0.01M328.2,216.9h0.01M336.4,219.2h0.01M342.4,209.3h0.01M338.8,229.1h0.01M337.4,227.3h0.01M345.2,221.7h0.01M338.3,216.4h0.01M325.4,220.9h0.01M344.1,222.5h0.01M338.3,227.6h0.01M326.7,227.9h0.01M323.6,223.8h0.01M342.0,213.2h0.01M331.7,228.8h0.01M329.1,213.1h0.01M335.6,228.3h0.01M342.7,223.3h0.01M343.4,214.2h0.01M341.4,228.8h0.01M339.2,227.9h0.01M337.3,208.1h0.01M339.5,208.6h0.01M341.5,221.8h0.01M321.6,211.6h0.01M325.7,225.8h0.01M337.0,230.8h0.01M332.7,225.7h0.01M329.5,225.5h0.01M336.2,216.5h0.01M323.4,222.2h0.01M329.5,219.4h0.01M327.9,214.9h0.01M328.3,223.4h0.01M345.5,222.0h0.01M328.6,218.0h0.01M338.5,207.2h0.01M345.3,221.6h0.01M322.6,219.7h0.01M323.1,216.9h0.01M329.8,220.5h0.01M327.9,223.1h0.01M337.5,216.9h0.01M332.0,218.1h0.01M334.8,208.7h0.01M330.2,208.5h0.01M324.7,210.8h0.01M345.2,214.3h0.01M332.9,207.5h0.01M327.0,225.5h0.01M325.9,223.0h0.01M334.9,219.1h0.01M337.5,210.3h0.01M326.2,227.2h0.01M326.0,219.7h0.01M337.8,208.5h0.01M324.4,217.6h0.01M336.8,218.0h0.01M333.8,215.7h0.01M325.4,228.7h0.01M325.5,221.2h0.01M330.7,213.1h0.01M330.1,210.8h0.01M342.3,208.3h0.01M329.6,228.1h0.01M332.7,211.1h0.01M327.5,213.9h0.01M321.4,221.4h0.01M342.0,223.9h0.01" stroke="#d0c820" stroke-width="1.7" stroke-linecap="round" fill="none"/>
<path d="M346.1,225.4h0.01M343.1,204.3h0.01M320.7,223.1h0.01M326.9,231.8h0.01M319.2,221.0h0.01M345.3,209.0h0.01M347.6,221.7h0.01M347.5,226.2h0.01M348.4,223.7h0.01M325.9,206.2h0.01M332.2,202.8h0.01M345.7,208.6h0.01M317.7,222.6h0.01M341.9,204.8h0.01M338.4,232.7h0.01M328.5,203.1h0.01M333.6,234.1h0.01M318.4,219.4h0.01M338.1,233.2h0.01M319.8,226.3h0.01M321.2,206.7h0.01M341.1,230.3h0.01M343.9,229.3h0.01M329.4,203.6h0.01M321.6,227.1h0.01M348.1,226.9h0.01M317.9,219.0h0.01M319.7,219.5h0.01M349.0,215.4h0.01M326.1,205.2h0.01M348.0,209.0h0.01M347.5,210.2h0.01M319.0,222.8h0.01M341.4,232.9h0.01M322.0,207.4h0.01M318.1,211.1h0.01M350.3,217.4h0.01M346.3,229.5h0.01M321.6,229.9h0.01M327.1,202.8h0.01M340.6,203.9h0.01M337.2,203.3h0.01M343.5,229.5h0.01M327.8,233.4h0.01M331.5,232.5h0.01M339.8,231.1h0.01M336.3,232.4h0.01M337.0,201.7h0.01M348.2,211.1h0.01M323.0,230.1h0.01M347.1,225.6h0.01M340.9,233.7h0.01M347.7,221.2h0.01M329.8,233.4h0.01M322.2,228.0h0.01M344.3,208.6h0.01M345.4,206.2h0.01M349.4,213.1h0.01M321.9,207.4h0.01M346.9,207.4h0.01M318.6,224.9h0.01M322.5,209.5h0.01M349.1,225.7h0.01M334.6,202.1h0.01M320.9,225.4h0.01" stroke="#e87818" stroke-width="1.7" stroke-linecap="round" fill="none"/>
<path d="M348.6,216.9h0.01M320.7,213.1h0.01M348.6,225.2h0.01M346.4,225.6h0.01M323.5,230.6h0.01M350.6,220.4h0.01M337.9,202.2h0.01M324.5,204.2h0.01M322.8,209.0h0.01M318.9,226.5h0.01M344.9,230.0h0.01M330.6,202.7h0.01M325.5,232.7h0.01M340.0,205.3h0.01" stroke="#2a8a30" stroke-width="1.7" stroke-linecap="round" fill="none"/>
<path d="M330.2,202.7h0.01M344.5,206.5h0.01M350.3,217.4h0.01M348.8,212.7h0.01M347.9,211.8h0.01M349.8,216.7h0.01M322.9,208.2h0.01M346.7,208.4h0.01M323.0,206.0h0.01M325.2,232.7h0.01M348.4,219.8h0.01M319.1,224.3h0.01M350.3,223.0h0.01M318.2,216.5h0.01M348.7,212.3h0.01M327.8,233.9h0.01M319.4,224.4h0.01M343.4,232.4h0.01M348.4,218.9h0.01M348.2,226.3h0.01M344.8,208.0h0.01M344.4,204.5h0.01M322.5,208.5h0.01M326.8,233.3h0.01M348.5,220.5h0.01M317.4,214.5h0.01M318.1,212.4h0.01" stroke="#c8b020" stroke-width="1.7" stroke-linecap="round" fill="none"/>
<path d="M555.9,217.8L558.3,219.7L560.9,218.4L563.1,221.7L565.8,220.7L567.8,224.1L570.5,223.4M554.8,223.8L556.7,226.2L559.6,225.7L560.9,229.3L563.7,229.0L564.8,232.9L567.6,232.8M552.3,229.4L553.5,232.2L556.4,232.3L556.8,236.2L559.6,236.6L559.7,240.6L562.5,241.3M548.5,234.1L548.9,237.1L551.7,238.0L551.1,241.9L553.8,243.0L552.8,246.9L555.3,248.2M543.6,237.7L543.3,240.8L545.8,242.3L544.2,245.9L546.5,247.7L544.7,251.2L546.7,253.1M537.9,240.1L536.9,242.9L538.9,245.1L536.5,248.1L538.3,250.4L535.6,253.4L537.2,255.7M531.9,240.9L530.2,243.4L531.6,246.0L528.5,248.4L529.7,251.0L526.4,253.2L527.3,255.9M525.9,240.2L523.5,242.2L524.3,245.1L520.7,246.6L521.2,249.4L517.4,250.8L517.7,253.6M520.2,238.0L517.4,239.4L517.4,242.4L513.6,243.0L513.4,245.8L509.4,246.2L508.9,248.9M515.2,234.5L512.2,235.2L511.5,238.0L507.6,237.7L506.7,240.4L502.7,239.7L501.6,242.3M511.3,229.9L508.2,229.8L506.8,232.4L503.1,231.0L501.5,233.4L497.9,231.8L496.1,234.0M508.6,224.4L505.7,223.5L503.7,225.7L500.4,223.5L498.3,225.4L495.2,222.9L492.9,224.6M507.4,218.4L504.7,216.9L502.3,218.5L499.7,215.5L497.2,216.9L494.7,213.7L492.1,214.8M507.7,212.4L505.5,210.2L502.7,211.1L501.0,207.6L498.2,208.3L496.6,204.6L493.8,205.0M509.5,206.5L507.9,203.9L505.0,204.1L504.2,200.3L501.3,200.2L500.7,196.3L497.9,196.0M512.7,201.4L511.8,198.4L509.0,197.9L509.1,194.0L506.3,193.2L506.7,189.2L504.1,188.2M517.1,197.1L517.0,194.1L514.3,192.8L515.4,189.1L512.9,187.7L514.3,183.9L512.0,182.3M522.4,194.1L523.1,191.1L520.8,189.3L522.8,185.9L520.7,183.9L523.0,180.6L521.1,178.5M528.2,192.5L529.7,189.8L527.9,187.4L530.7,184.7L529.2,182.2L532.2,179.6L531.0,177.1M534.3,192.5L536.4,190.2L535.3,187.4L538.6,185.5L537.8,182.7L541.4,180.9L540.8,178.2M540.3,193.9L542.8,192.2L542.4,189.3L546.2,188.2L546.0,185.3L549.9,184.5L550.1,181.7M545.6,196.8L548.5,195.7L548.9,192.8L552.8,192.7L553.4,189.9L557.4,190.1L558.2,187.4M550.1,200.9L553.2,200.6L554.2,197.9L558.0,198.7L559.3,196.1L563.1,197.3L564.6,194.9M553.5,206.0L556.5,206.5L558.2,204.1L561.7,205.9L563.5,203.7L567.0,205.7L569.0,203.8M555.4,211.7L558.2,213.0L560.5,211.1L563.4,213.7L565.7,212.0L568.5,214.9L571.0,213.5" fill="none" stroke="#46d0d8" stroke-width="1.4" stroke-linejoin="round"/>
<path d="M558.3,219.7h0.01M560.9,218.4h0.01M563.1,221.7h0.01M565.8,220.7h0.01M567.8,224.1h0.01M556.7,226.2h0.01M559.6,225.7h0.01M560.9,229.3h0.01M563.7,229.0h0.01M564.8,232.9h0.01M553.5,232.2h0.01M556.4,232.3h0.01M556.8,236.2h0.01M559.6,236.6h0.01M559.7,240.6h0.01M548.9,237.1h0.01M551.7,238.0h0.01M551.1,241.9h0.01M553.8,243.0h0.01M552.8,246.9h0.01M543.3,240.8h0.01M545.8,242.3h0.01M544.2,245.9h0.01M546.5,247.7h0.01M544.7,251.2h0.01M536.9,242.9h0.01M538.9,245.1h0.01M536.5,248.1h0.01M538.3,250.4h0.01M535.6,253.4h0.01M530.2,243.4h0.01M531.6,246.0h0.01M528.5,248.4h0.01M529.7,251.0h0.01M526.4,253.2h0.01M523.5,242.2h0.01M524.3,245.1h0.01M520.7,246.6h0.01M521.2,249.4h0.01M517.4,250.8h0.01M517.4,239.4h0.01M517.4,242.4h0.01M513.6,243.0h0.01M513.4,245.8h0.01M509.4,246.2h0.01M512.2,235.2h0.01M511.5,238.0h0.01M507.6,237.7h0.01M506.7,240.4h0.01M502.7,239.7h0.01M508.2,229.8h0.01M506.8,232.4h0.01M503.1,231.0h0.01M501.5,233.4h0.01M497.9,231.8h0.01M505.7,223.5h0.01M503.7,225.7h0.01M500.4,223.5h0.01M498.3,225.4h0.01M495.2,222.9h0.01M504.7,216.9h0.01M502.3,218.5h0.01M499.7,215.5h0.01M497.2,216.9h0.01M494.7,213.7h0.01M505.5,210.2h0.01M502.7,211.1h0.01M501.0,207.6h0.01M498.2,208.3h0.01M496.6,204.6h0.01M507.9,203.9h0.01M505.0,204.1h0.01M504.2,200.3h0.01M501.3,200.2h0.01M500.7,196.3h0.01M511.8,198.4h0.01M509.0,197.9h0.01M509.1,194.0h0.01M506.3,193.2h0.01M506.7,189.2h0.01M517.0,194.1h0.01M514.3,192.8h0.01M515.4,189.1h0.01M512.9,187.7h0.01M514.3,183.9h0.01M523.1,191.1h0.01M520.8,189.3h0.01M522.8,185.9h0.01M520.7,183.9h0.01M523.0,180.6h0.01M529.7,189.8h0.01M527.9,187.4h0.01M530.7,184.7h0.01M529.2,182.2h0.01M532.2,179.6h0.01M536.4,190.2h0.01M535.3,187.4h0.01M538.6,185.5h0.01M537.8,182.7h0.01M541.4,180.9h0.01M542.8,192.2h0.01M542.4,189.3h0.01M546.2,188.2h0.01M546.0,185.3h0.01M549.9,184.5h0.01M548.5,195.7h0.01M548.9,192.8h0.01M552.8,192.7h0.01M553.4,189.9h0.01M557.4,190.1h0.01M553.2,200.6h0.01M554.2,197.9h0.01M558.0,198.7h0.01M559.3,196.1h0.01M563.1,197.3h0.01M556.5,206.5h0.01M558.2,204.1h0.01M561.7,205.9h0.01M563.5,203.7h0.01M567.0,205.7h0.01M558.2,213.0h0.01M560.5,211.1h0.01M563.4,213.7h0.01M565.7,212.0h0.01M568.5,214.9h0.01" fill="none" stroke="#46d0d8" stroke-width="2.6" stroke-linecap="round"/>
<path d="M570.5,223.4h0.01M567.6,232.8h0.01M562.5,241.3h0.01M555.3,248.2h0.01M546.7,253.1h0.01M537.2,255.7h0.01M527.3,255.9h0.01M517.7,253.6h0.01M508.9,248.9h0.01M501.6,242.3h0.01M496.1,234.0h0.01M492.9,224.6h0.01M492.1,214.8h0.01M493.8,205.0h0.01M497.9,196.0h0.01M504.1,188.2h0.01M512.0,182.3h0.01M521.1,178.5h0.01M531.0,177.1h0.01M540.8,178.2h0.01M550.1,181.7h0.01M558.2,187.4h0.01M564.6,194.9h0.01M569.0,203.8h0.01M571.0,213.5h0.01" fill="none" stroke="#e050e0" stroke-width="2.6" stroke-linecap="round"/>
<path d="M555.9,217.8h0.01M554.8,223.8h0.01M552.3,229.4h0.01M548.5,234.1h0.01M543.6,237.7h0.01M537.9,240.1h0.01M531.9,240.9h0.01M525.9,240.2h0.01M520.2,238.0h0.01M515.2,234.5h0.01M511.3,229.9h0.01M508.6,224.4h0.01M507.4,218.4h0.01M507.7,212.4h0.01M509.5,206.5h0.01M512.7,201.4h0.01M517.1,197.1h0.01M522.4,194.1h0.01M528.2,192.5h0.01M534.3,192.5h0.01M540.3,193.9h0.01M545.6,196.8h0.01M550.1,200.9h0.01M553.5,206.0h0.01M555.4,211.7h0.01" fill="none" stroke="#2838d8" stroke-width="2.5" stroke-linecap="round"/>
<circle cx="531.6" cy="216.6" r="23.2" fill="#c8a820"/>
<path d="M530.4,223.9h0.01M540.4,221.3h0.01M519.3,210.3h0.01M521.2,209.4h0.01M519.0,217.9h0.01M520.2,225.1h0.01M543.7,212.8h0.01M527.3,208.4h0.01M522.9,225.7h0.01M543.7,211.7h0.01M542.4,208.4h0.01M531.8,222.9h0.01M543.5,213.1h0.01M519.0,215.8h0.01M530.9,202.4h0.01M533.8,221.0h0.01M522.2,208.8h0.01M526.8,217.3h0.01M530.0,210.1h0.01M542.1,216.7h0.01M526.0,216.1h0.01M543.9,219.0h0.01M545.3,217.9h0.01M527.3,230.5h0.01M532.7,229.5h0.01M518.8,212.1h0.01M521.5,219.8h0.01M534.7,218.4h0.01M530.1,229.4h0.01M536.6,225.6h0.01M529.1,225.3h0.01M543.2,209.7h0.01M535.3,223.5h0.01M527.2,222.5h0.01M530.7,217.8h0.01M529.4,222.5h0.01M518.0,216.1h0.01M535.0,213.5h0.01M519.5,216.7h0.01M529.1,221.3h0.01M545.2,212.9h0.01M526.8,207.4h0.01M520.9,215.7h0.01M535.2,228.2h0.01M544.8,210.7h0.01M535.1,208.5h0.01M536.9,217.7h0.01M536.1,223.9h0.01M532.0,208.1h0.01M532.8,231.0h0.01M523.6,229.1h0.01M536.2,215.0h0.01M522.0,224.1h0.01M520.2,219.2h0.01M532.3,224.5h0.01M523.4,216.2h0.01M541.2,222.4h0.01M535.2,212.8h0.01M520.5,217.1h0.01M543.5,223.4h0.01M518.9,211.2h0.01M529.0,228.5h0.01M523.4,228.3h0.01M536.8,223.0h0.01M532.7,227.7h0.01M544.7,219.6h0.01M539.5,209.0h0.01M541.6,213.8h0.01M528.2,224.3h0.01M520.1,213.0h0.01M522.7,209.0h0.01M524.2,210.2h0.01M533.5,228.0h0.01M517.4,219.4h0.01M532.9,228.6h0.01M528.9,223.6h0.01M530.9,205.9h0.01M535.7,204.2h0.01M525.6,228.7h0.01M531.8,204.5h0.01M521.8,214.2h0.01M531.1,205.4h0.01M526.5,204.1h0.01M519.5,223.9h0.01M525.4,202.9h0.01M534.0,211.4h0.01M536.1,226.6h0.01M523.3,208.9h0.01M521.9,207.0h0.01M524.9,203.2h0.01M525.0,226.2h0.01M534.8,206.6h0.01M523.3,221.4h0.01M540.7,205.0h0.01M537.5,217.9h0.01M542.4,210.8h0.01M526.2,207.9h0.01" stroke="#f8f040" stroke-width="1.7" stroke-linecap="round" fill="none"/>
<path d="M525.8,206.1h0.01M530.0,221.5h0.01M520.0,214.7h0.01M532.9,223.6h0.01M536.6,228.4h0.01M520.5,218.2h0.01M533.9,218.6h0.01M544.6,213.7h0.01M521.1,225.7h0.01M538.1,226.1h0.01M535.0,203.6h0.01M528.3,218.6h0.01M542.1,212.3h0.01M532.3,225.1h0.01M535.4,223.7h0.01M526.5,216.5h0.01M531.3,210.2h0.01M521.3,209.7h0.01M527.6,209.8h0.01M518.1,219.8h0.01M517.5,218.0h0.01M524.2,227.2h0.01M534.4,213.6h0.01M525.5,210.8h0.01M535.6,219.1h0.01M538.3,224.6h0.01" stroke="#8a9a10" stroke-width="1.7" stroke-linecap="round" fill="none"/>
<path d="M539.1,200.1h0.01M511.9,225.3h0.01M527.2,232.5h0.01M528.0,199.7h0.01M546.2,212.0h0.01M516.7,225.7h0.01M510.8,214.7h0.01M521.5,215.5h0.01M530.7,237.8h0.01M551.3,210.3h0.01M543.1,235.7h0.01M520.8,229.2h0.01M537.5,205.6h0.01M521.9,233.9h0.01M541.1,203.3h0.01M513.0,209.8h0.01M539.0,236.8h0.01M509.8,216.0h0.01M516.7,224.4h0.01M519.5,208.6h0.01M521.4,202.7h0.01M516.0,226.6h0.01M517.2,201.9h0.01M548.4,221.6h0.01M551.4,215.5h0.01M525.2,207.2h0.01M546.7,228.5h0.01M525.4,209.6h0.01M511.8,224.6h0.01M539.7,201.4h0.01M521.5,232.4h0.01M535.8,215.6h0.01M529.7,236.9h0.01M549.7,230.1h0.01M515.4,232.2h0.01M513.8,207.7h0.01M551.6,217.9h0.01M513.4,222.0h0.01M528.6,194.4h0.01M525.7,235.2h0.01M548.7,223.6h0.01M521.7,197.2h0.01M514.9,221.4h0.01M553.2,218.1h0.01M521.6,228.5h0.01M522.3,233.9h0.01M541.2,202.9h0.01M549.3,224.0h0.01M517.9,203.6h0.01M537.4,208.6h0.01M526.6,202.7h0.01M515.1,218.5h0.01M519.2,227.3h0.01M531.4,235.6h0.01M548.3,205.5h0.01M549.2,224.5h0.01M514.2,202.7h0.01M548.4,201.9h0.01M542.5,199.9h0.01M518.0,213.8h0.01M547.4,218.3h0.01M520.7,234.7h0.01M520.3,229.0h0.01M546.7,207.9h0.01M548.9,208.0h0.01M513.4,213.1h0.01M546.2,227.7h0.01M537.3,197.6h0.01M514.8,201.7h0.01M529.0,198.7h0.01M516.1,213.0h0.01M516.9,222.2h0.01M534.4,234.3h0.01M531.4,225.1h0.01M526.2,201.6h0.01M525.9,199.1h0.01M552.3,208.8h0.01M547.7,221.9h0.01M513.2,214.5h0.01M539.9,198.8h0.01M550.0,226.6h0.01M549.9,205.7h0.01M548.6,205.3h0.01M517.6,222.2h0.01M537.5,198.9h0.01M516.5,223.4h0.01M534.3,234.4h0.01M514.6,216.4h0.01M535.0,229.7h0.01M542.3,211.2h0.01M550.5,210.3h0.01M512.9,217.0h0.01M547.2,206.2h0.01M543.0,201.4h0.01M516.3,221.5h0.01M511.8,211.1h0.01M545.1,205.5h0.01M527.2,232.8h0.01M518.6,204.7h0.01M541.5,230.0h0.01M533.0,233.9h0.01M514.4,221.6h0.01M548.4,214.1h0.01M526.7,199.9h0.01M546.7,227.5h0.01M537.2,202.7h0.01M546.9,207.7h0.01M516.7,217.1h0.01M516.4,211.4h0.01M547.9,227.8h0.01M544.9,231.7h0.01M521.0,196.8h0.01M551.9,217.8h0.01M545.8,204.7h0.01M510.7,214.8h0.01M517.0,226.5h0.01M511.6,218.2h0.01M532.4,219.1h0.01M550.5,205.7h0.01M522.7,198.6h0.01M550.4,226.6h0.01M525.9,234.7h0.01M536.8,195.6h0.01M551.5,220.2h0.01M515.2,219.3h0.01M511.5,208.9h0.01M532.8,200.6h0.01M514.9,220.3h0.01M509.9,222.2h0.01M537.1,201.8h0.01M521.7,232.1h0.01M552.1,222.9h0.01M548.5,210.5h0.01M548.4,204.1h0.01M524.8,202.6h0.01M543.4,232.7h0.01M525.3,232.8h0.01M543.5,201.8h0.01M520.3,198.0h0.01M525.4,232.5h0.01M546.8,211.8h0.01M549.5,204.5h0.01M547.0,212.1h0.01M553.0,213.6h0.01M517.7,203.5h0.01M536.6,234.2h0.01M533.9,237.8h0.01M527.7,231.2h0.01M513.1,204.3h0.01M548.1,205.2h0.01M531.7,237.5h0.01M552.8,215.1h0.01M528.8,227.8h0.01M532.4,216.9h0.01M514.6,226.0h0.01M523.4,229.7h0.01M547.7,221.0h0.01M544.5,208.2h0.01M544.6,198.2h0.01M534.3,199.5h0.01M549.1,228.4h0.01M513.7,226.9h0.01M548.1,218.6h0.01M530.9,200.0h0.01M540.3,202.6h0.01M512.5,207.6h0.01M547.8,214.4h0.01M534.6,196.7h0.01M544.7,224.4h0.01M528.0,198.1h0.01M519.7,231.1h0.01M544.2,199.7h0.01M514.5,205.3h0.01M510.8,223.9h0.01M548.5,204.5h0.01M535.3,208.0h0.01M518.2,224.2h0.01M549.2,202.9h0.01M513.5,212.6h0.01M513.5,218.0h0.01M532.4,194.7h0.01M512.5,214.4h0.01M551.8,221.9h0.01M518.2,203.2h0.01M513.6,211.6h0.01M549.5,208.3h0.01M547.9,226.3h0.01M548.2,207.5h0.01M538.0,229.1h0.01M551.8,218.3h0.01M545.7,228.8h0.01" stroke="#e87818" stroke-width="1.7" stroke-linecap="round" fill="none"/>
<path d="M532.0,197.6h0.01M510.3,222.1h0.01M541.4,235.3h0.01M526.5,233.9h0.01M547.5,221.6h0.01M517.9,205.2h0.01M532.7,195.9h0.01M547.1,203.2h0.01M551.3,216.2h0.01M537.0,238.2h0.01M536.6,237.6h0.01M526.1,233.4h0.01M520.0,231.0h0.01M519.0,233.3h0.01M546.8,233.3h0.01M516.5,213.4h0.01M523.1,195.8h0.01M512.8,215.6h0.01M516.0,206.0h0.01M516.6,207.1h0.01M549.2,213.6h0.01M527.3,237.5h0.01M551.7,224.9h0.01M514.5,222.3h0.01M551.5,226.7h0.01M544.0,226.1h0.01M509.8,214.1h0.01M547.7,211.9h0.01M540.5,204.0h0.01M513.5,220.3h0.01M522.6,231.4h0.01M514.0,228.7h0.01M539.2,198.1h0.01M548.8,230.9h0.01M546.1,211.6h0.01M534.2,201.2h0.01M546.9,227.8h0.01M524.3,232.2h0.01M511.4,214.1h0.01M548.0,215.5h0.01M515.2,202.4h0.01M520.2,204.2h0.01M520.7,198.2h0.01M512.9,204.3h0.01M515.5,206.1h0.01M527.9,194.9h0.01M539.1,195.7h0.01M542.7,227.3h0.01M523.6,196.6h0.01M547.9,201.8h0.01M531.8,232.5h0.01M531.0,197.6h0.01M550.9,226.7h0.01M539.4,236.3h0.01M529.7,233.7h0.01M553.4,215.5h0.01M545.9,207.0h0.01M515.6,225.6h0.01M524.2,198.3h0.01M538.4,201.1h0.01M520.7,201.3h0.01M511.5,220.8h0.01M545.5,229.1h0.01M548.8,216.8h0.01M524.0,196.4h0.01M513.1,209.9h0.01M517.0,206.9h0.01M539.2,229.8h0.01M520.1,235.7h0.01M527.0,200.1h0.01M541.3,198.4h0.01M549.6,208.3h0.01" stroke="#e0d020" stroke-width="1.7" stroke-linecap="round" fill="none"/>
<path d="M537.2,201.0h0.01M552.2,217.3h0.01M520.0,198.7h0.01M533.5,237.6h0.01M543.3,231.6h0.01M516.2,221.0h0.01M550.9,211.6h0.01M530.4,195.8h0.01M528.7,201.7h0.01M544.5,233.2h0.01M540.3,198.0h0.01M546.6,202.6h0.01M536.2,230.9h0.01M547.2,225.1h0.01M509.4,212.6h0.01M553.4,219.2h0.01M510.9,223.4h0.01M544.6,225.9h0.01M524.7,202.9h0.01M535.5,237.4h0.01M527.2,200.9h0.01M515.0,201.8h0.01M516.4,204.1h0.01M536.3,235.3h0.01M522.3,203.1h0.01M548.6,202.5h0.01M551.1,221.1h0.01M544.2,205.1h0.01M548.1,221.9h0.01M521.9,202.3h0.01M520.5,202.1h0.01M520.9,199.9h0.01M517.6,230.7h0.01" stroke="#5848d0" stroke-width="1.7" stroke-linecap="round" fill="none"/>
<path d="M536.1,215.5h0.01M539.2,209.9h0.01M540.4,224.7h0.01M546.0,216.6h0.01M518.7,213.2h0.01M527.9,204.6h0.01M535.3,209.5h0.01M542.5,219.5h0.01M533.2,230.0h0.01M540.9,211.7h0.01M531.6,225.8h0.01M534.1,225.0h0.01M525.1,207.7h0.01M518.9,218.7h0.01M527.5,222.1h0.01M527.3,211.0h0.01M526.9,230.9h0.01M525.0,227.5h0.01M540.2,218.3h0.01M537.8,211.4h0.01M532.4,226.6h0.01M540.1,213.2h0.01M523.1,204.6h0.01M536.2,224.4h0.01M533.3,210.2h0.01M526.3,221.8h0.01M520.1,212.8h0.01M542.6,222.7h0.01M526.0,207.8h0.01M531.7,214.7h0.01M526.9,202.9h0.01M537.0,226.5h0.01M523.0,205.4h0.01M525.1,212.0h0.01M537.3,210.0h0.01M531.1,212.7h0.01M539.9,220.8h0.01M530.3,214.2h0.01M517.8,212.5h0.01M540.1,217.4h0.01M523.4,220.6h0.01M521.2,218.9h0.01M538.8,225.5h0.01M522.9,226.5h0.01M524.9,207.8h0.01M540.2,226.9h0.01M545.1,218.2h0.01M528.2,202.0h0.01M523.7,226.8h0.01M518.8,221.1h0.01M538.9,225.7h0.01M533.3,218.5h0.01M539.5,223.0h0.01M534.3,225.2h0.01M537.5,218.5h0.01M520.7,215.9h0.01M532.3,223.4h0.01M538.4,208.4h0.01M528.2,226.7h0.01M524.4,217.2h0.01M538.5,229.7h0.01M537.2,208.2h0.01M541.7,206.2h0.01M525.9,206.4h0.01M536.8,203.6h0.01M538.0,203.9h0.01M518.9,219.3h0.01M527.2,209.3h0.01M534.8,217.1h0.01M538.6,214.6h0.01M535.8,219.4h0.01M518.8,221.6h0.01M545.5,216.7h0.01M541.3,218.1h0.01M544.5,222.2h0.01M534.5,224.4h0.01M524.2,207.2h0.01M542.9,208.8h0.01M522.7,222.7h0.01M531.4,217.3h0.01M523.1,223.3h0.01M523.0,218.9h0.01M537.8,210.8h0.01M543.7,224.1h0.01M533.8,217.2h0.01M532.2,214.1h0.01M544.5,212.4h0.01M543.9,225.0h0.01M540.6,210.8h0.01M537.6,225.0h0.01M521.3,211.6h0.01M521.0,206.4h0.01M526.8,219.2h0.01M520.3,219.1h0.01M518.6,223.4h0.01M527.9,222.0h0.01M534.4,230.8h0.01M538.2,212.8h0.01M534.5,204.5h0.01M518.3,216.6h0.01M544.7,210.0h0.01M536.2,224.3h0.01M526.0,206.4h0.01M533.9,226.5h0.01M537.8,206.1h0.01M519.0,213.1h0.01M530.4,228.6h0.01M535.2,218.4h0.01M521.0,224.5h0.01M532.2,204.2h0.01M541.8,217.6h0.01M536.7,209.1h0.01M541.6,220.6h0.01M521.8,207.2h0.01M521.9,226.4h0.01M540.5,209.2h0.01M524.4,206.1h0.01M534.5,204.0h0.01M530.3,231.5h0.01M534.8,228.6h0.01M529.1,202.9h0.01M534.9,222.0h0.01M536.4,213.6h0.01M536.8,204.3h0.01M524.1,223.0h0.01M534.7,230.1h0.01M526.9,220.1h0.01" stroke="#e8d820" stroke-width="1.7" stroke-linecap="round" fill="none"/>
<path d="M546.6,213.4h0.01M544.2,198.2h0.01M544.9,232.0h0.01M553.8,219.4h0.01M551.7,225.4h0.01M537.3,199.2h0.01M547.0,204.0h0.01M521.7,236.8h0.01M523.3,199.2h0.01M517.5,223.0h0.01M543.3,204.5h0.01M547.3,232.3h0.01M551.1,217.6h0.01M523.2,236.6h0.01M551.7,217.3h0.01M550.8,223.6h0.01M541.9,198.9h0.01M548.0,220.2h0.01M520.3,226.6h0.01M514.1,211.2h0.01M547.0,216.4h0.01M516.5,220.8h0.01M546.2,210.8h0.01M543.0,229.1h0.01M539.9,232.9h0.01M522.7,234.9h0.01M529.7,236.5h0.01M534.3,196.1h0.01M540.5,202.0h0.01M524.7,232.2h0.01M546.2,209.6h0.01M526.0,233.8h0.01M549.3,220.1h0.01M546.0,205.8h0.01M530.0,234.7h0.01M526.1,201.4h0.01M549.4,207.8h0.01M544.2,203.5h0.01M516.5,204.9h0.01M536.6,232.2h0.01M531.7,200.7h0.01M538.4,233.2h0.01M517.5,233.2h0.01M537.7,200.3h0.01M531.2,234.5h0.01M524.0,234.6h0.01" stroke="#2a8a30" stroke-width="1.7" stroke-linecap="round" fill="none"/>
<g fill="none" stroke-linejoin="round" stroke-linecap="round">
<path d="M37.4,136.0L38.1,135.5L38.9,134.9L39.6,134.4L40.4,134.5L41.1,134.6L41.9,134.6L42.6,134.0L43.4,133.4L44.1,132.9L44.9,133.0L45.6,133.1L46.4,133.1L47.1,132.6L47.9,132.1L48.6,131.5L49.4,130.7L50.1,129.8L50.9,129.0L51.6,128.5L52.4,127.8L53.1,127.1L53.9,126.2L54.6,125.2L55.4,124.0L56.1,122.6L56.9,121.1L57.6,119.8L58.4,118.5L59.1,117.1L59.9,115.4L60.6,113.5L61.4,111.4L62.1,109.2L62.9,107.0L63.6,104.6L64.4,102.4L65.2,100.0L65.9,97.3L66.7,94.1L67.4,90.0L68.2,84.9L68.9,77.9L69.7,68.8L70.4,57.0L71.2,42.6L71.9,26.6L72.7,12.5L73.4,5.6L74.2,9.6L74.9,23.0L75.7,40.5L76.4,57.5L77.2,72.0L77.9,83.7L78.7,92.9L79.4,100.0L80.2,105.3L80.9,109.5L81.7,112.9L82.4,115.7L83.2,118.0L83.9,119.9L84.7,121.5L85.4,122.9L86.2,124.1L86.9,125.1L87.7,125.9L88.4,126.4L89.2,126.5L89.9,126.5L90.7,126.8L91.4,127.3L92.2,127.7L92.9,127.6L93.7,127.3L94.4,126.9L95.2,126.9L95.9,126.9L96.7,126.8L97.4,126.8L98.2,126.8L98.9,126.7L99.7,125.7L100.4,124.6L101.2,123.3L101.9,122.6L102.7,121.8L103.4,121.0L104.2,120.0L104.9,119.0L105.7,118.0L106.4,116.8L107.2,115.6L107.9,114.3L108.7,113.2L109.4,112.0L110.2,111.0L110.9,110.1L111.7,109.4L112.4,108.8L113.2,108.2L113.9,107.7L114.7,107.5L115.4,107.6L116.2,107.7L116.9,107.5L117.7,106.9L118.4,106.1L119.2,105.1L119.9,103.9L120.7,102.3L121.4,100.2L122.2,97.6L122.9,95.2L123.7,93.8L124.4,93.7L125.2,95.1L125.9,97.6L126.7,100.9L127.4,104.7L128.2,108.4L128.9,111.9L129.7,115.0L130.4,117.9L131.2,120.4L131.9,122.6L132.7,124.3L133.4,125.7L134.2,126.9L134.9,127.9L135.7,128.7L136.4,129.4L137.2,130.3L137.9,131.0L138.7,131.7L139.4,132.2L140.2,132.7L140.9,133.1L141.7,133.7L142.4,134.2L143.2,134.6L143.9,134.7L144.7,134.8L145.4,134.9L146.2,135.3L146.9,135.7L147.7,135.9L148.4,135.7L149.2,135.6L149.9,135.7L150.7,136.3L151.4,136.8L152.2,137.2L152.9,137.2L153.7,137.2L154.4,137.2L155.2,137.1L155.9,137.0L156.7,136.9L157.4,136.7L158.2,136.6L158.9,136.8L159.7,137.2L160.0,137.3" stroke="#303040" stroke-width="1.0"/>
<path d="M37.4,136.1L38.1,135.9L38.9,135.7L39.6,135.4L40.4,135.2L41.1,135.0L41.9,134.7L42.6,134.4L43.4,134.1L44.1,133.8L44.9,133.4L45.6,133.0L46.4,132.6L47.1,132.2L47.9,131.7L48.6,131.2L49.4,130.6L50.1,130.0L50.9,129.3L51.6,128.6L52.4,127.8L53.1,126.9L53.9,126.0L54.6,124.9L55.4,123.8L56.1,122.6L56.9,121.3L57.6,119.9L58.4,118.4L59.1,116.8L59.9,115.1L60.6,113.3L61.4,111.4L62.1,109.5L62.9,107.4L63.6,105.3L64.4,103.0L65.2,100.5L65.9,97.6L66.7,94.3L67.4,90.1L68.2,84.8L68.9,77.9L69.7,68.9L70.4,57.2L71.2,42.7L71.9,26.7L72.7,12.6L73.4,5.7L74.2,9.8L74.9,23.2L75.7,40.6L76.4,57.7L77.2,72.1L77.9,83.7L78.7,92.8L79.4,99.8L80.2,105.3L80.9,109.7L81.7,113.1L82.4,115.9L83.2,118.2L83.9,120.0L84.7,121.5L85.4,122.8L86.2,123.9L86.9,124.7L87.7,125.4L88.4,126.0L89.2,126.5L89.9,126.9L90.7,127.2L91.4,127.4L92.2,127.5L92.9,127.6L93.7,127.6L94.4,127.5L95.2,127.4L95.9,127.2L96.7,127.0L97.4,126.6L98.2,126.3L98.9,125.8L99.7,125.3L100.4,124.7L101.2,124.0L101.9,123.3L102.7,122.4L103.4,121.5L104.2,120.5L104.9,119.4L105.7,118.3L106.4,117.1L107.2,115.9L107.9,114.7L108.7,113.5L109.4,112.3L110.2,111.2L110.9,110.2L111.7,109.4L112.4,108.8L113.2,108.3L113.9,107.9L114.7,107.7L115.4,107.5L116.2,107.4L116.9,107.1L117.7,106.8L118.4,106.2L119.2,105.3L119.9,104.0L120.7,102.3L121.4,100.3L122.2,98.0L122.9,95.8L123.7,94.3L124.4,93.8L125.2,94.8L125.9,97.2L126.7,100.6L127.4,104.4L128.2,108.3L128.9,111.9L129.7,115.2L130.4,118.0L131.2,120.4L131.9,122.4L132.7,124.2L133.4,125.7L134.2,126.9L134.9,128.0L135.7,129.0L136.4,129.8L137.2,130.6L137.9,131.2L138.7,131.8L139.4,132.3L140.2,132.8L140.9,133.2L141.7,133.6L142.4,133.9L143.2,134.3L143.9,134.5L144.7,134.8L145.4,135.0L146.2,135.3L146.9,135.5L147.7,135.7L148.4,135.8L149.2,136.0L149.9,136.2L150.7,136.3L151.4,136.4L152.2,136.6L152.9,136.7L153.7,136.8L154.4,136.9L155.2,137.0L155.9,137.1L156.7,137.2L157.4,137.3L158.2,137.3L158.9,137.4L159.7,137.5L160.0,137.5" stroke="#ee3434" stroke-width="1.1"/>
<path d="M37.9,140.4L160.0,139.8" stroke="#1ee61e" stroke-width="1.6"/>
<path d="M37.4,139.4L38.1,139.3L38.9,139.3L39.6,139.2L40.4,139.1L41.1,139.1L41.9,139.0L42.6,138.9L43.4,138.9L44.1,138.8L44.9,138.7L45.6,138.6L46.4,138.5L47.1,138.4L47.9,138.3L48.6,138.2L49.4,138.0L50.1,137.9L50.9,137.7L51.6,137.5L52.4,137.3L53.1,137.1L53.9,136.9L54.6,136.6L55.4,136.3L56.1,135.9L56.9,135.5L57.6,135.1L58.4,134.6L59.1,134.0L59.9,133.4L60.6,132.6L61.4,131.7L62.1,130.6L62.9,129.3L63.6,127.8L64.4,125.9L65.2,123.6L65.9,120.8L66.7,117.2L67.4,112.7L68.2,106.8L68.9,99.3L69.7,89.5L70.4,77.0L71.2,61.7L71.9,44.6L72.7,29.0L73.4,20.4L74.2,22.6L74.9,34.7L75.7,51.4L76.4,68.1L77.2,82.3L77.9,93.7L78.7,102.5L79.4,109.3L80.2,114.6L80.9,118.7L81.7,121.9L82.4,124.5L83.2,126.6L83.9,128.3L84.7,129.8L85.4,130.9L86.2,131.9L86.9,132.8L87.7,133.5L88.4,134.1L89.2,134.7L89.9,135.1L90.7,135.5L91.4,135.9L92.2,136.2L92.9,136.5L93.7,136.8L94.4,137.0L95.2,137.2L95.9,137.4L96.7,137.6L97.4,137.7L98.2,137.8L98.9,138.0L99.7,138.1L100.4,138.2L101.2,138.3L101.9,138.4L102.7,138.5L103.4,138.5L104.2,138.6L104.9,138.7L105.7,138.7L106.4,138.8L107.2,138.8L107.9,138.9L108.7,138.9L109.4,139.0L110.2,139.0L110.9,139.1L111.7,139.1L112.4,139.1L113.2,139.1L113.9,139.2L114.7,139.2L115.4,139.2L116.2,139.3L116.9,139.3L117.7,139.3L118.4,139.3L119.2,139.3L119.9,139.4L120.7,139.4L121.4,139.4L122.2,139.4L122.9,139.4L123.7,139.4L124.4,139.4L125.2,139.5L125.9,139.5L126.7,139.5L127.4,139.5L128.2,139.5L128.9,139.5L129.7,139.5L130.4,139.5L131.2,139.5L131.9,139.5L132.7,139.5L133.4,139.5L134.2,139.5L134.9,139.6L135.7,139.6L136.4,139.6L137.2,139.6L137.9,139.6L138.7,139.6L139.4,139.6L140.2,139.6L140.9,139.6L141.7,139.6L142.4,139.6L143.2,139.6L143.9,139.6L144.7,139.6L145.4,139.6L146.2,139.6L146.9,139.6L147.7,139.6L148.4,139.6L149.2,139.6L149.9,139.6L150.7,139.6L151.4,139.6L152.2,139.6L152.9,139.6L153.7,139.6L154.4,139.6L155.2,139.6L155.9,139.6L156.7,139.6L157.4,139.6L158.2,139.6L158.9,139.6L159.7,139.6L160.0,139.6" stroke="#1ee61e" stroke-width="1.3"/>
<path d="M37.4,138.1L38.1,138.0L38.9,137.9L39.6,137.8L40.4,137.6L41.1,137.5L41.9,137.3L42.6,137.2L43.4,137.0L44.1,136.8L44.9,136.6L45.6,136.4L46.4,136.1L47.1,135.9L47.9,135.6L48.6,135.3L49.4,134.9L50.1,134.6L50.9,134.2L51.6,133.7L52.4,133.3L53.1,132.7L53.9,132.2L54.6,131.6L55.4,130.9L56.1,130.2L56.9,129.4L57.6,128.6L58.4,127.7L59.1,126.8L59.9,125.8L60.6,124.8L61.4,123.8L62.1,122.8L62.9,121.8L63.6,120.9L64.4,120.2L65.2,119.6L65.9,119.2L66.7,119.0L67.4,119.0L68.2,119.3L68.9,119.8L69.7,120.4L70.4,121.2L71.2,122.1L71.9,123.1L72.7,124.1L73.4,125.1L74.2,126.1L74.9,127.1L75.7,128.0L76.4,128.8L77.2,129.6L77.9,130.4L78.7,131.1L79.4,131.7L80.2,132.3L80.9,132.8L81.7,133.3L82.4,133.8L83.2,134.2L83.9,134.5L84.7,134.9L85.4,135.2L86.2,135.5L86.9,135.8L87.7,136.0L88.4,136.2L89.2,136.5L89.9,136.7L90.7,136.8L91.4,137.0L92.2,137.1L92.9,137.3L93.7,137.4L94.4,137.5L95.2,137.7L95.9,137.8L96.7,137.9L97.4,138.0L98.2,138.1L98.9,138.1L99.7,138.2L100.4,138.3L101.2,138.4L101.9,138.4L102.7,138.5L103.4,138.5L104.2,138.6L104.9,138.6L105.7,138.7L106.4,138.7L107.2,138.8L107.9,138.8L108.7,138.9L109.4,138.9L110.2,138.9L110.9,139.0L111.7,139.0L112.4,139.0L113.2,139.0L113.9,139.1L114.7,139.1L115.4,139.1L116.2,139.1L116.9,139.2L117.7,139.2L118.4,139.2L119.2,139.2L119.9,139.2L120.7,139.3L121.4,139.3L122.2,139.3L122.9,139.3L123.7,139.3L124.4,139.3L125.2,139.3L125.9,139.3L126.7,139.4L127.4,139.4L128.2,139.4L128.9,139.4L129.7,139.4L130.4,139.4L131.2,139.4L131.9,139.4L132.7,139.4L133.4,139.4L134.2,139.4L134.9,139.5L135.7,139.5L136.4,139.5L137.2,139.5L137.9,139.5L138.7,139.5L139.4,139.5L140.2,139.5L140.9,139.5L141.7,139.5L142.4,139.5L143.2,139.5L143.9,139.5L144.7,139.5L145.4,139.5L146.2,139.5L146.9,139.5L147.7,139.5L148.4,139.5L149.2,139.5L149.9,139.5L150.7,139.5L151.4,139.5L152.2,139.5L152.9,139.5L153.7,139.5L154.4,139.5L155.2,139.5L155.9,139.5L156.7,139.5L157.4,139.5L158.2,139.5L158.9,139.5L159.7,139.5L160.0,139.5" stroke="#1ee61e" stroke-width="1.3"/>
<path d="M37.4,140.0L38.1,139.9L38.9,139.9L39.6,139.9L40.4,139.9L41.1,139.9L41.9,139.9L42.6,139.9L43.4,139.8L44.1,139.8L44.9,139.8L45.6,139.8L46.4,139.8L47.1,139.8L47.9,139.7L48.6,139.7L49.4,139.7L50.1,139.7L50.9,139.7L51.6,139.7L52.4,139.6L53.1,139.6L53.9,139.6L54.6,139.6L55.4,139.5L56.1,139.5L56.9,139.5L57.6,139.5L58.4,139.4L59.1,139.4L59.9,139.4L60.6,139.4L61.4,139.3L62.1,139.3L62.9,139.3L63.6,139.2L64.4,139.2L65.2,139.2L65.9,139.1L66.7,139.1L67.4,139.0L68.2,139.0L68.9,139.0L69.7,138.9L70.4,138.9L71.2,138.8L71.9,138.8L72.7,138.7L73.4,138.6L74.2,138.6L74.9,138.5L75.7,138.4L76.4,138.4L77.2,138.3L77.9,138.2L78.7,138.1L79.4,138.0L80.2,137.9L80.9,137.8L81.7,137.7L82.4,137.6L83.2,137.5L83.9,137.4L84.7,137.2L85.4,137.1L86.2,136.9L86.9,136.7L87.7,136.6L88.4,136.4L89.2,136.1L89.9,135.9L90.7,135.7L91.4,135.4L92.2,135.1L92.9,134.8L93.7,134.5L94.4,134.1L95.2,133.7L95.9,133.3L96.7,132.8L97.4,132.3L98.2,131.7L98.9,131.1L99.7,130.5L100.4,129.8L101.2,129.1L101.9,128.2L102.7,127.4L103.4,126.5L104.2,125.5L104.9,124.5L105.7,123.5L106.4,122.5L107.2,121.5L107.9,120.6L108.7,119.8L109.4,119.1L110.2,118.5L110.9,118.1L111.7,118.0L112.4,118.0L113.2,118.3L113.9,118.8L114.7,119.4L115.4,120.2L116.2,121.1L116.9,122.0L117.7,123.0L118.4,124.0L119.2,125.0L119.9,126.0L120.7,126.9L121.4,127.8L122.2,128.6L122.9,129.3L123.7,130.1L124.4,130.7L125.2,131.3L125.9,131.9L126.7,132.4L127.4,132.9L128.2,133.3L128.9,133.7L129.7,134.1L130.4,134.5L131.2,134.8L131.9,135.1L132.7,135.3L133.4,135.6L134.2,135.8L134.9,136.0L135.7,136.2L136.4,136.4L137.2,136.6L137.9,136.7L138.7,136.9L139.4,137.0L140.2,137.2L140.9,137.3L141.7,137.4L142.4,137.5L143.2,137.6L143.9,137.7L144.7,137.8L145.4,137.8L146.2,137.9L146.9,138.0L147.7,138.1L148.4,138.1L149.2,138.2L149.9,138.2L150.7,138.3L151.4,138.3L152.2,138.4L152.9,138.4L153.7,138.5L154.4,138.5L155.2,138.6L155.9,138.6L156.7,138.6L157.4,138.7L158.2,138.7L158.9,138.7L159.7,138.8L160.0,138.8" stroke="#1ee61e" stroke-width="1.3"/>
<path d="M37.4,140.3L38.1,140.3L38.9,140.3L39.6,140.3L40.4,140.3L41.1,140.3L41.9,140.3L42.6,140.3L43.4,140.2L44.1,140.2L44.9,140.2L45.6,140.2L46.4,140.2L47.1,140.2L47.9,140.2L48.6,140.2L49.4,140.2L50.1,140.2L50.9,140.2L51.6,140.2L52.4,140.2L53.1,140.2L53.9,140.2L54.6,140.1L55.4,140.1L56.1,140.1L56.9,140.1L57.6,140.1L58.4,140.1L59.1,140.1L59.9,140.1L60.6,140.1L61.4,140.1L62.1,140.1L62.9,140.1L63.6,140.1L64.4,140.0L65.2,140.0L65.9,140.0L66.7,140.0L67.4,140.0L68.2,140.0L68.9,140.0L69.7,140.0L70.4,140.0L71.2,139.9L71.9,139.9L72.7,139.9L73.4,139.9L74.2,139.9L74.9,139.9L75.7,139.9L76.4,139.9L77.2,139.8L77.9,139.8L78.7,139.8L79.4,139.8L80.2,139.8L80.9,139.8L81.7,139.7L82.4,139.7L83.2,139.7L83.9,139.7L84.7,139.6L85.4,139.6L86.2,139.6L86.9,139.6L87.7,139.5L88.4,139.5L89.2,139.5L89.9,139.4L90.7,139.4L91.4,139.4L92.2,139.3L92.9,139.3L93.7,139.2L94.4,139.2L95.2,139.1L95.9,139.1L96.7,139.0L97.4,139.0L98.2,138.9L98.9,138.8L99.7,138.7L100.4,138.6L101.2,138.5L101.9,138.4L102.7,138.3L103.4,138.2L104.2,138.0L104.9,137.9L105.7,137.7L106.4,137.5L107.2,137.3L107.9,137.0L108.7,136.7L109.4,136.4L110.2,136.0L110.9,135.5L111.7,135.0L112.4,134.4L113.2,133.7L113.9,132.9L114.7,131.9L115.4,130.7L116.2,129.3L116.9,127.6L117.7,125.6L118.4,123.3L119.2,120.5L119.9,117.5L120.7,114.2L121.4,111.2L122.2,108.8L122.9,107.5L123.7,107.7L124.4,109.3L125.2,111.9L125.9,115.0L126.7,118.2L127.4,121.2L128.2,123.8L128.9,126.1L129.7,128.0L130.4,129.6L131.2,131.0L131.9,132.1L132.7,133.0L133.4,133.8L134.2,134.5L134.9,135.0L135.7,135.5L136.4,136.0L137.2,136.3L137.9,136.6L138.7,136.9L139.4,137.2L140.2,137.4L140.9,137.6L141.7,137.7L142.4,137.9L143.2,138.0L143.9,138.1L144.7,138.3L145.4,138.3L146.2,138.4L146.9,138.5L147.7,138.6L148.4,138.7L149.2,138.7L149.9,138.8L150.7,138.8L151.4,138.9L152.2,138.9L152.9,139.0L153.7,139.0L154.4,139.0L155.2,139.1L155.9,139.1L156.7,139.1L157.4,139.2L158.2,139.2L158.9,139.2L159.7,139.2L160.0,139.2" stroke="#1ee61e" stroke-width="1.3"/>
</g>
<g stroke="#3a3a3a" stroke-width="1" fill="none">
<path d="M37.4,6.3 V144.2 H160"/>
<path d="M34.4,143.4 H37.4"/>
<path d="M35.4,109.28 H37.4"/>
<path d="M35.4,75.15 H37.4"/>
<path d="M35.4,41.03 H37.4"/>
<path d="M34.4,6.9 H37.4"/>
<path d="M37.4,144.2 V147.2"/>
<path d="M52.72,144.2 V146.2"/>
<path d="M68.05,144.2 V147.2"/>
<path d="M83.38,144.2 V146.2"/>
<path d="M98.7,144.2 V147.2"/>
<path d="M114.03,144.2 V146.2"/>
<path d="M129.35,144.2 V147.2"/>
<path d="M144.67,144.2 V146.2"/>
<path d="M160,144.2 V147.2"/>
</g>
<text x="30.4" y="146.6" font-size="10.5" text-anchor="end">0</text>
<use href="#one" transform="translate(24.56,10.10) scale(10.500)"/>
<text x="103.1" y="10" font-size="10.6" textLength="47.84" lengthAdjust="spacingAndGlyphs" class="t" xml:space="preserve">CdSe/CdS </text>
<use href="#one" transform="translate(150.94,10.00) scale(9.564,10.600)" class="t"/>
<text x="156.26" y="10" font-size="10.6" textLength="15.94" lengthAdjust="spacingAndGlyphs" class="t" xml:space="preserve"> ML</text>
<text x="41.1" y="14" font-size="17" font-weight="bold">A</text>
<text x="76.5" y="28.7" font-size="8.4" class="pl">A</text>
<use href="#one" transform="translate(82.10,28.70) scale(8.400)" class="pl"/>
<text x="43.5" y="120.8" font-size="8.4" class="pl">A2</text>
<text x="96.3" y="116.3" font-size="8.4" class="pl">B2</text>
<text x="129.7" y="108.9" font-size="8.4" class="pl">B</text>
<use href="#one" transform="translate(135.30,108.90) scale(8.400)" class="pl"/>
<g fill="none" stroke-linejoin="round" stroke-linecap="round">
<path d="M204.3,135.5L205.1,135.3L205.8,135.1L206.6,134.8L207.3,134.1L208.1,133.3L208.8,132.5L209.6,131.9L210.3,131.2L211.1,130.6L211.8,130.5L212.6,130.3L213.3,130.1L214.1,129.8L214.8,129.4L215.6,128.9L216.3,128.1L217.1,127.2L217.8,126.3L218.6,125.5L219.3,124.6L220.1,123.5L220.8,122.2L221.6,120.8L222.3,118.9L223.1,116.6L223.8,114.0L224.6,111.7L225.3,109.5L226.1,107.0L226.8,104.2L227.6,101.1L228.3,97.8L229.1,93.7L229.8,89.4L230.6,85.1L231.3,82.2L232.1,79.8L232.8,77.9L233.6,76.1L234.3,74.7L235.1,74.0L235.8,72.6L236.6,71.1L237.3,69.0L238.1,66.9L238.8,61.9L239.6,52.7L240.3,39.1L241.1,32.3L241.8,41.8L242.6,61.2L243.3,78.2L244.1,90.4L244.8,97.9L245.6,103.1L246.3,106.9L247.1,109.5L247.8,111.4L248.6,113.3L249.3,115.6L250.1,117.6L250.8,119.2L251.6,120.3L252.3,121.3L253.1,122.0L253.8,122.6L254.6,123.0L255.3,122.9L256.1,122.4L256.8,121.8L257.6,121.3L258.3,120.7L259.1,120.1L259.8,120.5L260.6,121.3L261.3,122.0L262.1,121.6L262.8,120.8L263.6,119.9L264.3,119.1L265.1,118.2L265.8,117.2L266.6,116.7L267.3,116.1L268.1,115.4L268.8,113.9L269.6,112.2L270.3,110.4L271.1,109.2L271.8,107.9L272.6,106.4L273.3,103.5L274.1,100.5L274.8,97.7L275.6,96.2L276.3,94.6L277.1,93.0L277.8,91.4L278.6,89.7L279.3,87.9L280.1,85.5L280.8,83.1L281.6,80.9L282.3,79.2L283.1,77.3L283.8,74.5L284.6,70.6L285.3,65.9L286.1,60.5L286.8,54.0L287.6,46.2L288.3,37.8L289.1,29.0L289.8,20.8L290.6,14.6L291.3,12.6L292.1,16.1L292.8,24.1L293.6,35.0L294.3,47.1L295.1,58.4L295.8,68.5L296.6,77.0L297.3,85.0L298.1,91.9L298.8,97.8L299.6,103.0L300.3,107.4L301.1,111.2L301.8,113.6L302.6,115.6L303.3,117.2L304.1,118.8L304.8,120.1L305.6,121.4L306.3,123.2L307.1,125.0L307.8,126.5L308.6,126.9L309.3,127.2L310.1,127.7L310.8,129.1L311.6,130.4L312.3,131.3L313.1,130.9L313.8,130.4L314.6,130.2L315.3,130.4L316.1,130.6L316.8,131.1L317.6,132.1L318.3,133.1L319.1,133.7L319.8,134.1L320.6,134.4L321.3,134.3L322.1,133.8L322.8,133.3L323.6,133.4L324.3,133.9L325.1,134.4L325.8,134.9L326.6,135.3L327.0,135.6" stroke="#303040" stroke-width="1.0"/>
<path d="M204.3,134.7L205.1,134.5L205.8,134.3L206.6,134.0L207.3,133.7L208.1,133.4L208.8,133.1L209.6,132.7L210.3,132.3L211.1,131.9L211.8,131.5L212.6,131.0L213.3,130.5L214.1,129.9L214.8,129.3L215.6,128.6L216.3,127.9L217.1,127.1L217.8,126.2L218.6,125.2L219.3,124.2L220.1,123.0L220.8,121.7L221.6,120.2L222.3,118.6L223.1,116.8L223.8,114.9L224.6,112.7L225.3,110.3L226.1,107.6L226.8,104.7L227.6,101.6L228.3,98.2L229.1,94.7L229.8,91.1L230.6,87.4L231.3,83.9L232.1,80.7L232.8,78.0L233.6,75.8L234.3,74.2L235.1,73.2L235.8,72.5L236.6,71.8L237.3,70.5L238.1,67.6L238.8,61.8L239.6,51.8L240.3,39.3L241.1,33.7L241.8,43.9L242.6,62.0L243.3,77.9L244.1,89.2L244.8,97.1L245.6,102.7L246.3,106.9L247.1,110.0L247.8,112.5L248.6,114.5L249.3,116.1L250.1,117.4L250.8,118.5L251.6,119.4L252.3,120.1L253.1,120.7L253.8,121.2L254.6,121.5L255.3,121.8L256.1,122.0L256.8,122.0L257.6,122.0L258.3,122.0L259.1,121.8L259.8,121.6L260.6,121.3L261.3,121.0L262.1,120.6L262.8,120.1L263.6,119.6L264.3,119.0L265.1,118.3L265.8,117.5L266.6,116.7L267.3,115.8L268.1,114.8L268.8,113.7L269.6,112.4L270.3,111.1L271.1,109.7L271.8,108.1L272.6,106.4L273.3,104.5L274.1,102.6L274.8,100.5L275.6,98.3L276.3,96.1L277.1,93.8L277.8,91.5L278.6,89.2L279.3,87.0L280.1,84.8L280.8,82.7L281.6,80.7L282.3,78.5L283.1,76.3L283.8,73.7L284.6,70.6L285.3,66.7L286.1,61.9L286.8,55.9L287.6,48.4L288.3,39.7L289.1,30.2L289.8,21.2L290.6,14.4L291.3,12.1L292.1,15.2L292.8,23.3L293.6,34.6L294.3,47.0L295.1,59.0L295.8,69.7L296.6,79.0L297.3,86.8L298.1,93.3L298.8,98.8L299.6,103.3L300.3,107.2L301.1,110.4L301.8,113.2L302.6,115.6L303.3,117.6L304.1,119.4L304.8,121.0L305.6,122.4L306.3,123.6L307.1,124.7L307.8,125.7L308.6,126.6L309.3,127.4L310.1,128.1L310.8,128.7L311.6,129.3L312.3,129.9L313.1,130.4L313.8,130.8L314.6,131.2L315.3,131.6L316.1,132.0L316.8,132.3L317.6,132.6L318.3,132.9L319.1,133.2L319.8,133.5L320.6,133.7L321.3,133.9L322.1,134.1L322.8,134.3L323.6,134.5L324.3,134.7L325.1,134.9L325.8,135.0L326.6,135.2L327.0,135.3" stroke="#ee3434" stroke-width="1.1"/>
<path d="M204.8,140.3L327.0,139.6" stroke="#1ee61e" stroke-width="1.6"/>
<path d="M204.3,140.1L205.1,140.1L205.8,140.1L206.6,140.1L207.3,140.1L208.1,140.0L208.8,140.0L209.6,140.0L210.3,140.0L211.1,140.0L211.8,140.0L212.6,139.9L213.3,139.9L214.1,139.9L214.8,139.9L215.6,139.8L216.3,139.8L217.1,139.8L217.8,139.8L218.6,139.7L219.3,139.7L220.1,139.6L220.8,139.6L221.6,139.6L222.3,139.5L223.1,139.4L223.8,139.4L224.6,139.3L225.3,139.2L226.1,139.1L226.8,139.0L227.6,138.9L228.3,138.7L229.1,138.5L229.8,138.3L230.6,138.1L231.3,137.8L232.1,137.4L232.8,137.0L233.6,136.4L234.3,135.7L235.1,134.8L235.8,133.5L236.6,131.8L237.3,129.3L238.1,125.7L238.8,120.3L239.6,111.9L240.3,99.4L241.1,84.1L241.8,74.5L242.6,80.5L243.3,95.5L244.1,109.1L244.8,118.4L245.6,124.5L246.3,128.5L247.1,131.2L247.8,133.1L248.6,134.4L249.3,135.4L250.1,136.2L250.8,136.8L251.6,137.2L252.3,137.6L253.1,137.9L253.8,138.2L254.6,138.4L255.3,138.5L256.1,138.7L256.8,138.8L257.6,138.9L258.3,139.0L259.1,139.1L259.8,139.1L260.6,139.2L261.3,139.3L262.1,139.3L262.8,139.3L263.6,139.4L264.3,139.4L265.1,139.4L265.8,139.5L266.6,139.5L267.3,139.5L268.1,139.5L268.8,139.6L269.6,139.6L270.3,139.6L271.1,139.6L271.8,139.6L272.6,139.6L273.3,139.6L274.1,139.6L274.8,139.6L275.6,139.7L276.3,139.7L277.1,139.7L277.8,139.7L278.6,139.7L279.3,139.7L280.1,139.7L280.8,139.7L281.6,139.7L282.3,139.7L283.1,139.7L283.8,139.7L284.6,139.7L285.3,139.7L286.1,139.7L286.8,139.7L287.6,139.7L288.3,139.7L289.1,139.7L289.8,139.7L290.6,139.7L291.3,139.7L292.1,139.7L292.8,139.7L293.6,139.7L294.3,139.7L295.1,139.7L295.8,139.7L296.6,139.7L297.3,139.7L298.1,139.7L298.8,139.7L299.6,139.7L300.3,139.7L301.1,139.7L301.8,139.7L302.6,139.7L303.3,139.7L304.1,139.7L304.8,139.7L305.6,139.7L306.3,139.7L307.1,139.6L307.8,139.6L308.6,139.6L309.3,139.6L310.1,139.6L310.8,139.6L311.6,139.6L312.3,139.6L313.1,139.6L313.8,139.6L314.6,139.6L315.3,139.6L316.1,139.6L316.8,139.6L317.6,139.6L318.3,139.6L319.1,139.6L319.8,139.6L320.6,139.6L321.3,139.6L322.1,139.6L322.8,139.6L323.6,139.6L324.3,139.6L325.1,139.6L325.8,139.6L326.6,139.6L327.0,139.6" stroke="#1ee61e" stroke-width="1.3"/>
<path d="M204.3,135.9L205.1,135.7L205.8,135.5L206.6,135.2L207.3,135.0L208.1,134.7L208.8,134.4L209.6,134.0L210.3,133.7L211.1,133.3L211.8,132.9L212.6,132.4L213.3,131.9L214.1,131.4L214.8,130.8L215.6,130.1L216.3,129.4L217.1,128.6L217.8,127.7L218.6,126.7L219.3,125.6L220.1,124.5L220.8,123.1L221.6,121.7L222.3,120.0L223.1,118.2L223.8,116.2L224.6,114.0L225.3,111.6L226.1,108.9L226.8,106.0L227.6,103.0L228.3,99.7L229.1,96.4L229.8,93.1L230.6,90.0L231.3,87.2L232.1,84.9L232.8,83.3L233.6,82.5L234.3,82.7L235.1,83.7L235.8,85.5L236.6,88.0L237.3,90.9L238.1,94.1L238.8,97.4L239.6,100.7L240.3,103.9L241.1,106.9L241.8,109.7L242.6,112.3L243.3,114.6L244.1,116.8L244.8,118.7L245.6,120.4L246.3,122.0L247.1,123.4L247.8,124.7L248.6,125.8L249.3,126.9L250.1,127.8L250.8,128.6L251.6,129.4L252.3,130.1L253.1,130.7L253.8,131.3L254.6,131.8L255.3,132.3L256.1,132.8L256.8,133.2L257.6,133.5L258.3,133.9L259.1,134.2L259.8,134.5L260.6,134.8L261.3,135.0L262.1,135.2L262.8,135.5L263.6,135.7L264.3,135.9L265.1,136.0L265.8,136.2L266.6,136.4L267.3,136.5L268.1,136.6L268.8,136.8L269.6,136.9L270.3,137.0L271.1,137.1L271.8,137.2L272.6,137.3L273.3,137.4L274.1,137.5L274.8,137.6L275.6,137.6L276.3,137.7L277.1,137.8L277.8,137.8L278.6,137.9L279.3,138.0L280.1,138.0L280.8,138.1L281.6,138.1L282.3,138.2L283.1,138.2L283.8,138.3L284.6,138.3L285.3,138.3L286.1,138.4L286.8,138.4L287.6,138.4L288.3,138.5L289.1,138.5L289.8,138.5L290.6,138.6L291.3,138.6L292.1,138.6L292.8,138.6L293.6,138.7L294.3,138.7L295.1,138.7L295.8,138.7L296.6,138.8L297.3,138.8L298.1,138.8L298.8,138.8L299.6,138.8L300.3,138.8L301.1,138.9L301.8,138.9L302.6,138.9L303.3,138.9L304.1,138.9L304.8,138.9L305.6,138.9L306.3,138.9L307.1,139.0L307.8,139.0L308.6,139.0L309.3,139.0L310.1,139.0L310.8,139.0L311.6,139.0L312.3,139.0L313.1,139.0L313.8,139.0L314.6,139.0L315.3,139.1L316.1,139.1L316.8,139.1L317.6,139.1L318.3,139.1L319.1,139.1L319.8,139.1L320.6,139.1L321.3,139.1L322.1,139.1L322.8,139.1L323.6,139.1L324.3,139.1L325.1,139.1L325.8,139.1L326.6,139.1L327.0,139.1" stroke="#1ee61e" stroke-width="1.3"/>
<path d="M204.3,139.6L205.1,139.6L205.8,139.6L206.6,139.5L207.3,139.5L208.1,139.5L208.8,139.5L209.6,139.5L210.3,139.4L211.1,139.4L211.8,139.4L212.6,139.4L213.3,139.3L214.1,139.3L214.8,139.3L215.6,139.3L216.3,139.2L217.1,139.2L217.8,139.2L218.6,139.2L219.3,139.1L220.1,139.1L220.8,139.1L221.6,139.0L222.3,139.0L223.1,139.0L223.8,138.9L224.6,138.9L225.3,138.9L226.1,138.8L226.8,138.8L227.6,138.7L228.3,138.7L229.1,138.7L229.8,138.6L230.6,138.6L231.3,138.5L232.1,138.5L232.8,138.4L233.6,138.4L234.3,138.3L235.1,138.2L235.8,138.2L236.6,138.1L237.3,138.0L238.1,138.0L238.8,137.9L239.6,137.8L240.3,137.7L241.1,137.6L241.8,137.6L242.6,137.5L243.3,137.4L244.1,137.3L244.8,137.1L245.6,137.0L246.3,136.9L247.1,136.8L247.8,136.6L248.6,136.5L249.3,136.3L250.1,136.2L250.8,136.0L251.6,135.8L252.3,135.6L253.1,135.4L253.8,135.2L254.6,135.0L255.3,134.7L256.1,134.5L256.8,134.2L257.6,133.9L258.3,133.5L259.1,133.2L259.8,132.8L260.6,132.4L261.3,131.9L262.1,131.5L262.8,130.9L263.6,130.4L264.3,129.8L265.1,129.1L265.8,128.4L266.6,127.6L267.3,126.8L268.1,125.9L268.8,124.9L269.6,123.8L270.3,122.6L271.1,121.4L271.8,120.0L272.6,118.6L273.3,117.1L274.1,115.5L274.8,113.8L275.6,112.1L276.3,110.4L277.1,108.7L277.8,107.1L278.6,105.7L279.3,104.4L280.1,103.3L280.8,102.6L281.6,102.2L282.3,102.1L283.1,102.4L283.8,103.1L284.6,104.0L285.3,105.3L286.1,106.7L286.8,108.3L287.6,109.9L288.3,111.6L289.1,113.3L289.8,115.0L290.6,116.6L291.3,118.1L292.1,119.6L292.8,120.9L293.6,122.2L294.3,123.4L295.1,124.4L295.8,125.4L296.6,126.4L297.3,127.2L298.1,128.0L298.8,128.7L299.6,129.4L300.3,130.0L301.1,130.6L301.8,131.1L302.6,131.6L303.3,132.0L304.1,132.4L304.8,132.8L305.6,133.2L306.3,133.5L307.1,133.8L307.8,134.1L308.6,134.4L309.3,134.6L310.1,134.8L310.8,135.0L311.6,135.3L312.3,135.4L313.1,135.6L313.8,135.8L314.6,135.9L315.3,136.1L316.1,136.2L316.8,136.4L317.6,136.5L318.3,136.6L319.1,136.7L319.8,136.8L320.6,136.9L321.3,137.0L322.1,137.1L322.8,137.2L323.6,137.2L324.3,137.3L325.1,137.4L325.8,137.4L326.6,137.5L327.0,137.6" stroke="#1ee61e" stroke-width="1.3"/>
<path d="M204.3,140.0L205.1,140.0L205.8,140.0L206.6,140.0L207.3,140.0L208.1,140.0L208.8,140.0L209.6,140.0L210.3,139.9L211.1,139.9L211.8,139.9L212.6,139.9L213.3,139.9L214.1,139.9L214.8,139.9L215.6,139.9L216.3,139.9L217.1,139.8L217.8,139.8L218.6,139.8L219.3,139.8L220.1,139.8L220.8,139.8L221.6,139.8L222.3,139.8L223.1,139.7L223.8,139.7L224.6,139.7L225.3,139.7L226.1,139.7L226.8,139.7L227.6,139.7L228.3,139.6L229.1,139.6L229.8,139.6L230.6,139.6L231.3,139.6L232.1,139.6L232.8,139.5L233.6,139.5L234.3,139.5L235.1,139.5L235.8,139.4L236.6,139.4L237.3,139.4L238.1,139.4L238.8,139.4L239.6,139.3L240.3,139.3L241.1,139.3L241.8,139.2L242.6,139.2L243.3,139.2L244.1,139.1L244.8,139.1L245.6,139.1L246.3,139.0L247.1,139.0L247.8,139.0L248.6,138.9L249.3,138.9L250.1,138.8L250.8,138.8L251.6,138.7L252.3,138.7L253.1,138.6L253.8,138.6L254.6,138.5L255.3,138.4L256.1,138.4L256.8,138.3L257.6,138.2L258.3,138.1L259.1,138.0L259.8,137.9L260.6,137.8L261.3,137.7L262.1,137.6L262.8,137.5L263.6,137.3L264.3,137.2L265.1,137.0L265.8,136.9L266.6,136.7L267.3,136.5L268.1,136.2L268.8,136.0L269.6,135.7L270.3,135.4L271.1,135.1L271.8,134.7L272.6,134.3L273.3,133.9L274.1,133.4L274.8,132.8L275.6,132.2L276.3,131.5L277.1,130.7L277.8,129.7L278.6,128.6L279.3,127.4L280.1,125.9L280.8,124.1L281.6,122.1L282.3,119.6L283.1,116.7L283.8,113.2L284.6,108.9L285.3,103.7L286.1,97.4L286.8,89.8L287.6,80.8L288.3,70.6L289.1,59.7L289.8,49.3L290.6,41.4L291.3,37.8L292.1,39.7L292.8,46.4L293.6,56.2L294.3,67.1L295.1,77.6L295.8,87.0L296.6,95.0L297.3,101.7L298.1,107.3L298.8,111.8L299.6,115.6L300.3,118.7L301.1,121.2L301.8,123.4L302.6,125.2L303.3,126.8L304.1,128.1L304.8,129.2L305.6,130.2L306.3,131.1L307.1,131.8L307.8,132.4L308.6,133.0L309.3,133.5L310.1,134.0L310.8,134.4L311.6,134.8L312.3,135.1L313.1,135.4L313.8,135.7L314.6,135.9L315.3,136.1L316.1,136.3L316.8,136.5L317.6,136.7L318.3,136.8L319.1,137.0L319.8,137.1L320.6,137.2L321.3,137.3L322.1,137.4L322.8,137.5L323.6,137.6L324.3,137.7L325.1,137.8L325.8,137.9L326.6,137.9L327.0,138.0" stroke="#1ee61e" stroke-width="1.3"/>
</g>
<g stroke="#3a3a3a" stroke-width="1" fill="none">
<path d="M204.3,7.4 V144.3 H327"/>
<path d="M201.3,139.7 H204.3"/>
<path d="M202.3,114.15 H204.3"/>
<path d="M202.3,88.6 H204.3"/>
<path d="M202.3,63.05 H204.3"/>
<path d="M201.3,37.5 H204.3"/>
<path d="M202.3,11.95 H204.3"/>
<path d="M204.3,144.3 V147.3"/>
<path d="M219.64,144.3 V146.3"/>
<path d="M234.98,144.3 V147.3"/>
<path d="M250.31,144.3 V146.3"/>
<path d="M265.65,144.3 V147.3"/>
<path d="M280.99,144.3 V146.3"/>
<path d="M296.32,144.3 V147.3"/>
<path d="M311.66,144.3 V146.3"/>
<path d="M327,144.3 V147.3"/>
</g>
<text x="197.3" y="142.9" font-size="10.5" text-anchor="end">0</text>
<use href="#one" transform="translate(191.46,40.70) scale(10.500)"/>
<text x="298" y="10.1" font-size="10.6" textLength="70.5" lengthAdjust="spacingAndGlyphs" class="t">CdSe/CdS 3 ML</text>
<text x="208.9" y="14.3" font-size="17" font-weight="bold">B</text>
<text x="244.1" y="79.7" font-size="8.4" class="pl">A</text>
<use href="#one" transform="translate(249.70,79.70) scale(8.400)" class="pl"/>
<text x="216.7" y="89" font-size="8.4" class="pl">A2</text>
<text x="259.1" y="107" font-size="8.4" class="pl">B2</text>
<text x="274.8" y="41.2" font-size="8.4" class="pl">B</text>
<use href="#one" transform="translate(280.40,41.20) scale(8.400)" class="pl"/>
<g fill="none" stroke-linejoin="round" stroke-linecap="round">
<path d="M396.5,135.8L397.2,136.0L398.0,136.1L398.8,136.3L399.5,136.0L400.2,135.7L401.0,135.3L401.8,134.8L402.5,134.2L403.2,133.6L404.0,133.0L404.8,132.4L405.5,131.9L406.2,131.6L407.0,131.2L407.8,130.7L408.5,129.8L409.2,128.8L410.0,127.7L410.8,126.5L411.5,125.2L412.2,123.9L413.0,122.5L413.8,120.9L414.5,119.2L415.2,117.2L416.0,115.1L416.8,113.1L417.5,111.3L418.2,109.3L419.0,107.0L419.8,104.5L420.5,102.0L421.2,100.0L422.0,98.4L422.8,97.0L423.5,96.0L424.2,95.4L425.0,95.3L425.8,94.7L426.5,94.2L427.2,93.9L428.0,94.8L428.8,95.5L429.5,95.7L430.2,94.2L431.0,91.7L431.8,88.3L432.5,84.7L433.2,81.7L434.0,80.9L434.8,83.4L435.5,88.8L436.2,95.2L437.0,101.6L437.8,107.1L438.5,111.4L439.2,114.4L440.0,116.8L440.8,118.7L441.5,120.3L442.2,121.7L443.0,122.7L443.8,123.4L444.5,123.9L445.2,124.5L446.0,125.1L446.8,125.6L447.5,126.0L448.2,126.2L449.0,126.4L449.8,126.7L450.5,127.0L451.2,127.3L452.0,126.8L452.8,125.8L453.5,124.8L454.2,124.5L455.0,124.6L455.8,124.6L456.5,124.3L457.2,124.0L458.0,123.6L458.8,122.6L459.5,121.4L460.2,120.2L461.0,119.3L461.8,118.3L462.5,117.3L463.2,116.2L464.0,115.0L464.8,113.8L465.5,112.9L466.2,112.0L467.0,111.1L467.8,109.8L468.5,108.4L469.2,107.0L470.0,105.6L470.8,104.1L471.5,102.5L472.2,100.6L473.0,98.6L473.8,96.7L474.5,94.8L475.2,92.7L476.0,90.4L476.8,87.5L477.5,84.1L478.2,79.9L479.0,74.7L479.8,68.3L480.5,60.6L481.2,51.5L482.0,41.1L482.8,30.2L483.5,20.5L484.2,14.1L485.0,13.0L485.8,17.8L486.5,27.4L487.2,39.5L488.0,51.9L488.8,63.3L489.5,73.1L490.2,81.2L491.0,87.9L491.8,93.8L492.5,98.8L493.2,103.0L494.0,106.4L494.8,109.3L495.5,111.9L496.2,114.4L497.0,116.6L497.8,118.6L498.5,119.9L499.2,121.1L500.0,122.2L500.8,123.1L501.5,123.9L502.2,124.7L503.0,125.7L503.8,126.7L504.5,127.6L505.2,128.3L506.0,129.0L506.8,129.6L507.5,130.2L508.2,130.7L509.0,131.3L509.8,132.0L510.5,132.6L511.2,133.0L512.0,133.1L512.8,133.3L513.5,133.5L514.2,133.7L515.0,134.0L515.8,134.1L516.5,134.2L517.2,134.3L518.0,134.6L518.8,134.8L519.0,134.9" stroke="#303040" stroke-width="1.0"/>
<path d="M396.5,136.0L397.2,135.7L398.0,135.5L398.8,135.2L399.5,135.0L400.2,134.7L401.0,134.3L401.8,134.0L402.5,133.6L403.2,133.2L404.0,132.8L404.8,132.3L405.5,131.8L406.2,131.3L407.0,130.6L407.8,130.0L408.5,129.2L409.2,128.4L410.0,127.5L410.8,126.6L411.5,125.5L412.2,124.3L413.0,123.0L413.8,121.6L414.5,120.0L415.2,118.3L416.0,116.4L416.8,114.3L417.5,112.1L418.2,109.8L419.0,107.4L419.8,104.9L420.5,102.5L421.2,100.1L422.0,98.0L422.8,96.2L423.5,94.8L424.2,93.9L425.0,93.5L425.8,93.5L426.5,93.8L427.2,94.3L428.0,94.7L428.8,94.9L429.5,94.6L430.2,93.6L431.0,91.6L431.8,88.6L432.5,85.0L433.2,81.9L434.0,81.1L434.8,83.7L435.5,89.1L436.2,95.6L437.0,101.7L437.8,106.9L438.5,111.1L439.2,114.4L440.0,117.0L440.8,119.0L441.5,120.7L442.2,122.0L443.0,123.0L443.8,123.9L444.5,124.6L445.2,125.1L446.0,125.6L446.8,125.9L447.5,126.1L448.2,126.3L449.0,126.4L449.8,126.4L450.5,126.4L451.2,126.3L452.0,126.1L452.8,125.9L453.5,125.7L454.2,125.3L455.0,125.0L455.8,124.5L456.5,124.1L457.2,123.5L458.0,122.9L458.8,122.2L459.5,121.5L460.2,120.7L461.0,119.8L461.8,118.9L462.5,117.9L463.2,116.8L464.0,115.7L464.8,114.5L465.5,113.2L466.2,111.9L467.0,110.5L467.8,109.1L468.5,107.7L469.2,106.2L470.0,104.8L470.8,103.3L471.5,101.8L472.2,100.3L473.0,98.7L473.8,97.0L474.5,95.3L475.2,93.3L476.0,91.0L476.8,88.3L477.5,85.0L478.2,80.9L479.0,75.8L479.8,69.6L480.5,61.8L481.2,52.5L482.0,41.9L482.8,30.8L483.5,20.7L484.2,14.1L485.0,13.0L485.8,17.9L486.5,27.5L487.2,39.6L488.0,51.9L488.8,63.4L489.5,73.3L490.2,81.7L491.0,88.6L491.8,94.5L492.5,99.3L493.2,103.4L494.0,106.8L494.8,109.8L495.5,112.3L496.2,114.5L497.0,116.5L497.8,118.2L498.5,119.7L499.2,121.1L500.0,122.4L500.8,123.5L501.5,124.5L502.2,125.5L503.0,126.3L503.8,127.1L504.5,127.8L505.2,128.5L506.0,129.1L506.8,129.7L507.5,130.2L508.2,130.7L509.0,131.2L509.8,131.6L510.5,132.0L511.2,132.4L512.0,132.7L512.8,133.0L513.5,133.3L514.2,133.6L515.0,133.9L515.8,134.1L516.5,134.4L517.2,134.6L518.0,134.8L518.8,135.0L519.0,135.1" stroke="#ee3434" stroke-width="1.1"/>
<path d="M397.0,141.1L519.0,140.5" stroke="#1ee61e" stroke-width="1.6"/>
<path d="M396.5,137.0L397.2,136.8L398.0,136.6L398.8,136.3L399.5,136.1L400.2,135.8L401.0,135.5L401.8,135.1L402.5,134.8L403.2,134.4L404.0,134.0L404.8,133.5L405.5,133.0L406.2,132.4L407.0,131.8L407.8,131.1L408.5,130.4L409.2,129.5L410.0,128.6L410.8,127.6L411.5,126.5L412.2,125.3L413.0,124.0L413.8,122.5L414.5,120.8L415.2,119.0L416.0,117.1L416.8,115.0L417.5,112.7L418.2,110.4L419.0,108.0L419.8,105.6L420.5,103.3L421.2,101.2L422.0,99.4L422.8,98.1L423.5,97.4L424.2,97.2L425.0,97.7L425.8,98.8L426.5,100.4L427.2,102.4L428.0,104.6L428.8,106.9L429.5,109.4L430.2,111.7L431.0,114.0L431.8,116.2L432.5,118.2L433.2,120.0L434.0,121.7L434.8,123.3L435.5,124.7L436.2,125.9L437.0,127.1L437.8,128.1L438.5,129.0L439.2,129.9L440.0,130.7L440.8,131.4L441.5,132.0L442.2,132.6L443.0,133.1L443.8,133.6L444.5,134.0L445.2,134.4L446.0,134.8L446.8,135.1L447.5,135.4L448.2,135.7L449.0,136.0L449.8,136.2L450.5,136.5L451.2,136.7L452.0,136.9L452.8,137.1L453.5,137.2L454.2,137.4L455.0,137.5L455.8,137.7L456.5,137.8L457.2,137.9L458.0,138.0L458.8,138.1L459.5,138.2L460.2,138.3L461.0,138.4L461.8,138.5L462.5,138.6L463.2,138.7L464.0,138.7L464.8,138.8L465.5,138.9L466.2,138.9L467.0,139.0L467.8,139.0L468.5,139.1L469.2,139.1L470.0,139.2L470.8,139.2L471.5,139.3L472.2,139.3L473.0,139.4L473.8,139.4L474.5,139.4L475.2,139.5L476.0,139.5L476.8,139.5L477.5,139.5L478.2,139.6L479.0,139.6L479.8,139.6L480.5,139.6L481.2,139.7L482.0,139.7L482.8,139.7L483.5,139.7L484.2,139.8L485.0,139.8L485.8,139.8L486.5,139.8L487.2,139.8L488.0,139.8L488.8,139.9L489.5,139.9L490.2,139.9L491.0,139.9L491.8,139.9L492.5,139.9L493.2,139.9L494.0,139.9L494.8,139.9L495.5,140.0L496.2,140.0L497.0,140.0L497.8,140.0L498.5,140.0L499.2,140.0L500.0,140.0L500.8,140.0L501.5,140.0L502.2,140.0L503.0,140.0L503.8,140.0L504.5,140.1L505.2,140.1L506.0,140.1L506.8,140.1L507.5,140.1L508.2,140.1L509.0,140.1L509.8,140.1L510.5,140.1L511.2,140.1L512.0,140.1L512.8,140.1L513.5,140.1L514.2,140.1L515.0,140.1L515.8,140.1L516.5,140.1L517.2,140.1L518.0,140.1L518.8,140.1L519.0,140.1" stroke="#1ee61e" stroke-width="1.3"/>
<path d="M396.5,140.8L397.2,140.8L398.0,140.8L398.8,140.8L399.5,140.8L400.2,140.8L401.0,140.7L401.8,140.7L402.5,140.7L403.2,140.7L404.0,140.6L404.8,140.6L405.5,140.6L406.2,140.6L407.0,140.5L407.8,140.5L408.5,140.5L409.2,140.4L410.0,140.4L410.8,140.3L411.5,140.3L412.2,140.2L413.0,140.2L413.8,140.1L414.5,140.1L415.2,140.0L416.0,139.9L416.8,139.8L417.5,139.7L418.2,139.6L419.0,139.4L419.8,139.3L420.5,139.1L421.2,138.8L422.0,138.6L422.8,138.3L423.5,137.9L424.2,137.5L425.0,137.0L425.8,136.4L426.5,135.6L427.2,134.6L428.0,133.4L428.8,131.8L429.5,129.7L430.2,127.0L431.0,123.6L431.8,119.3L432.5,114.3L433.2,109.6L434.0,106.6L434.8,106.7L435.5,109.9L436.2,114.7L437.0,119.6L437.8,123.8L438.5,127.2L439.2,129.9L440.0,131.9L440.8,133.4L441.5,134.6L442.2,135.6L443.0,136.4L443.8,137.0L444.5,137.5L445.2,137.9L446.0,138.2L446.8,138.5L447.5,138.7L448.2,138.9L449.0,139.1L449.8,139.3L450.5,139.4L451.2,139.5L452.0,139.6L452.8,139.7L453.5,139.8L454.2,139.9L455.0,139.9L455.8,140.0L456.5,140.0L457.2,140.1L458.0,140.1L458.8,140.2L459.5,140.2L460.2,140.2L461.0,140.2L461.8,140.3L462.5,140.3L463.2,140.3L464.0,140.3L464.8,140.3L465.5,140.4L466.2,140.4L467.0,140.4L467.8,140.4L468.5,140.4L469.2,140.4L470.0,140.4L470.8,140.4L471.5,140.5L472.2,140.5L473.0,140.5L473.8,140.5L474.5,140.5L475.2,140.5L476.0,140.5L476.8,140.5L477.5,140.5L478.2,140.5L479.0,140.5L479.8,140.5L480.5,140.5L481.2,140.5L482.0,140.5L482.8,140.5L483.5,140.5L484.2,140.5L485.0,140.5L485.8,140.5L486.5,140.5L487.2,140.5L488.0,140.5L488.8,140.5L489.5,140.5L490.2,140.5L491.0,140.5L491.8,140.5L492.5,140.5L493.2,140.5L494.0,140.5L494.8,140.5L495.5,140.5L496.2,140.5L497.0,140.5L497.8,140.5L498.5,140.5L499.2,140.5L500.0,140.5L500.8,140.5L501.5,140.5L502.2,140.5L503.0,140.5L503.8,140.5L504.5,140.5L505.2,140.5L506.0,140.5L506.8,140.5L507.5,140.5L508.2,140.5L509.0,140.5L509.8,140.5L510.5,140.5L511.2,140.5L512.0,140.5L512.8,140.5L513.5,140.5L514.2,140.5L515.0,140.5L515.8,140.5L516.5,140.5L517.2,140.5L518.0,140.4L518.8,140.4L519.0,140.4" stroke="#1ee61e" stroke-width="1.3"/>
<path d="M396.5,140.2L397.2,140.2L398.0,140.1L398.8,140.1L399.5,140.1L400.2,140.1L401.0,140.0L401.8,140.0L402.5,140.0L403.2,140.0L404.0,139.9L404.8,139.9L405.5,139.9L406.2,139.9L407.0,139.8L407.8,139.8L408.5,139.8L409.2,139.7L410.0,139.7L410.8,139.7L411.5,139.6L412.2,139.6L413.0,139.6L413.8,139.5L414.5,139.5L415.2,139.4L416.0,139.4L416.8,139.3L417.5,139.3L418.2,139.3L419.0,139.2L419.8,139.2L420.5,139.1L421.2,139.0L422.0,139.0L422.8,138.9L423.5,138.9L424.2,138.8L425.0,138.7L425.8,138.7L426.5,138.6L427.2,138.5L428.0,138.4L428.8,138.4L429.5,138.3L430.2,138.2L431.0,138.1L431.8,138.0L432.5,137.9L433.2,137.8L434.0,137.7L434.8,137.6L435.5,137.4L436.2,137.3L437.0,137.2L437.8,137.0L438.5,136.9L439.2,136.7L440.0,136.5L440.8,136.4L441.5,136.2L442.2,136.0L443.0,135.8L443.8,135.5L444.5,135.3L445.2,135.1L446.0,134.8L446.8,134.5L447.5,134.2L448.2,133.9L449.0,133.6L449.8,133.2L450.5,132.8L451.2,132.4L452.0,132.0L452.8,131.5L453.5,131.0L454.2,130.4L455.0,129.9L455.8,129.3L456.5,128.6L457.2,127.9L458.0,127.2L458.8,126.4L459.5,125.6L460.2,124.7L461.0,123.7L461.8,122.7L462.5,121.7L463.2,120.6L464.0,119.5L464.8,118.4L465.5,117.3L466.2,116.1L467.0,115.0L467.8,113.9L468.5,112.9L469.2,112.0L470.0,111.1L470.8,110.5L471.5,110.0L472.2,109.6L473.0,109.5L473.8,109.5L474.5,109.8L475.2,110.2L476.0,110.8L476.8,111.6L477.5,112.5L478.2,113.4L479.0,114.5L479.8,115.6L480.5,116.7L481.2,117.9L482.0,119.0L482.8,120.1L483.5,121.2L484.2,122.2L485.0,123.2L485.8,124.2L486.5,125.1L487.2,125.9L488.0,126.7L488.8,127.5L489.5,128.2L490.2,128.8L491.0,129.4L491.8,130.0L492.5,130.6L493.2,131.1L494.0,131.6L494.8,132.0L495.5,132.4L496.2,132.8L497.0,133.2L497.8,133.5L498.5,133.8L499.2,134.1L500.0,134.4L500.8,134.7L501.5,134.9L502.2,135.2L503.0,135.4L503.8,135.6L504.5,135.8L505.2,136.0L506.0,136.1L506.8,136.3L507.5,136.5L508.2,136.6L509.0,136.8L509.8,136.9L510.5,137.0L511.2,137.1L512.0,137.2L512.8,137.4L513.5,137.5L514.2,137.5L515.0,137.6L515.8,137.7L516.5,137.8L517.2,137.9L518.0,138.0L518.8,138.0L519.0,138.1" stroke="#1ee61e" stroke-width="1.3"/>
<path d="M396.5,140.8L397.2,140.8L398.0,140.8L398.8,140.8L399.5,140.8L400.2,140.8L401.0,140.8L401.8,140.8L402.5,140.8L403.2,140.8L404.0,140.8L404.8,140.7L405.5,140.7L406.2,140.7L407.0,140.7L407.8,140.7L408.5,140.7L409.2,140.7L410.0,140.7L410.8,140.7L411.5,140.6L412.2,140.6L413.0,140.6L413.8,140.6L414.5,140.6L415.2,140.6L416.0,140.6L416.8,140.6L417.5,140.5L418.2,140.5L419.0,140.5L419.8,140.5L420.5,140.5L421.2,140.5L422.0,140.5L422.8,140.4L423.5,140.4L424.2,140.4L425.0,140.4L425.8,140.4L426.5,140.4L427.2,140.3L428.0,140.3L428.8,140.3L429.5,140.3L430.2,140.3L431.0,140.2L431.8,140.2L432.5,140.2L433.2,140.2L434.0,140.1L434.8,140.1L435.5,140.1L436.2,140.0L437.0,140.0L437.8,140.0L438.5,140.0L439.2,139.9L440.0,139.9L440.8,139.8L441.5,139.8L442.2,139.8L443.0,139.7L443.8,139.7L444.5,139.6L445.2,139.6L446.0,139.5L446.8,139.5L447.5,139.4L448.2,139.3L449.0,139.3L449.8,139.2L450.5,139.1L451.2,139.1L452.0,139.0L452.8,138.9L453.5,138.8L454.2,138.7L455.0,138.6L455.8,138.5L456.5,138.3L457.2,138.2L458.0,138.0L458.8,137.9L459.5,137.7L460.2,137.5L461.0,137.3L461.8,137.1L462.5,136.9L463.2,136.6L464.0,136.3L464.8,136.0L465.5,135.6L466.2,135.2L467.0,134.7L467.8,134.2L468.5,133.7L469.2,133.0L470.0,132.3L470.8,131.4L471.5,130.5L472.2,129.4L473.0,128.0L473.8,126.5L474.5,124.7L475.2,122.6L476.0,120.0L476.8,116.9L477.5,113.2L478.2,108.6L479.0,103.0L479.8,96.1L480.5,87.8L481.2,78.0L482.0,66.7L482.8,54.9L483.5,43.9L484.2,36.1L485.0,33.6L485.8,37.2L486.5,45.8L487.2,57.2L488.0,69.0L488.8,80.0L489.5,89.5L490.2,97.5L491.0,104.1L491.8,109.5L492.5,113.9L493.2,117.5L494.0,120.5L494.8,122.9L495.5,125.0L496.2,126.7L497.0,128.2L497.8,129.5L498.5,130.5L499.2,131.5L500.0,132.3L500.8,133.0L501.5,133.6L502.2,134.2L503.0,134.7L503.8,135.1L504.5,135.5L505.2,135.8L506.0,136.1L506.8,136.4L507.5,136.7L508.2,136.9L509.0,137.1L509.8,137.3L510.5,137.5L511.2,137.7L512.0,137.8L512.8,138.0L513.5,138.1L514.2,138.2L515.0,138.3L515.8,138.4L516.5,138.5L517.2,138.6L518.0,138.7L518.8,138.7L519.0,138.8" stroke="#1ee61e" stroke-width="1.3"/>
</g>
<g stroke="#3a3a3a" stroke-width="1" fill="none">
<path d="M396.5,7.5 V144.2 H519"/>
<path d="M393.5,138.3 H396.5"/>
<path d="M394.5,124.09 H396.5"/>
<path d="M394.5,109.88 H396.5"/>
<path d="M394.5,95.66 H396.5"/>
<path d="M393.5,81.45 H396.5"/>
<path d="M394.5,67.24 H396.5"/>
<path d="M394.5,53.03 H396.5"/>
<path d="M394.5,38.81 H396.5"/>
<path d="M393.5,24.6 H396.5"/>
<path d="M394.5,10.39 H396.5"/>
<path d="M396.5,144.2 V147.2"/>
<path d="M411.81,144.2 V146.2"/>
<path d="M427.12,144.2 V147.2"/>
<path d="M442.44,144.2 V146.2"/>
<path d="M457.75,144.2 V147.2"/>
<path d="M473.06,144.2 V146.2"/>
<path d="M488.38,144.2 V147.2"/>
<path d="M503.69,144.2 V146.2"/>
<path d="M519,144.2 V147.2"/>
</g>
<text x="389.5" y="141.5" font-size="10.5" text-anchor="end">0</text>
<use href="#one" transform="translate(383.66,84.65) scale(10.500)"/>
<text x="389.5" y="27.8" font-size="10.5" text-anchor="end">2</text>
<text x="491.5" y="9.8" font-size="10.6" textLength="69.6" lengthAdjust="spacingAndGlyphs" class="t">CdSe/CdS 5 ML</text>
<text x="401.1" y="13.9" font-size="17" font-weight="bold">C</text>
<text x="406.4" y="102.1" font-size="8.4" class="pl">A2</text>
<text x="438.4" y="103.1" font-size="8.4" class="pl">A</text>
<use href="#one" transform="translate(444.00,103.10) scale(8.400)" class="pl"/>
<text x="456.9" y="107.6" font-size="8.4" class="pl">B2</text>
<text x="469.7" y="40.3" font-size="8.4" class="pl">B</text>
<use href="#one" transform="translate(475.30,40.30) scale(8.400)" class="pl"/>
<g fill="none" stroke-linejoin="round" stroke-linecap="round">
<path d="M36.6,294.4L37.4,294.0L38.1,293.6L38.9,293.2L39.6,293.2L40.4,293.2L41.1,293.1L41.9,292.9L42.6,292.7L43.4,292.4L44.1,292.0L44.9,291.6L45.6,291.2L46.4,290.8L47.1,290.4L47.9,290.0L48.6,289.6L49.4,289.2L50.1,288.8L50.9,288.4L51.6,287.9L52.4,287.4L53.1,286.6L53.9,285.8L54.6,285.0L55.4,284.2L56.1,283.3L56.9,282.0L57.6,280.4L58.4,278.7L59.1,277.2L59.9,275.8L60.6,274.3L61.4,272.6L62.1,270.8L62.9,268.8L63.6,266.7L64.3,264.4L65.1,261.6L65.8,258.2L66.6,253.8L67.3,247.9L68.1,240.2L68.8,229.5L69.6,215.0L70.3,196.9L71.1,180.5L71.8,174.1L72.6,182.9L73.3,201.1L74.1,220.2L74.8,235.8L75.6,247.5L76.3,256.1L77.1,262.7L77.8,267.6L78.6,271.4L79.3,274.4L80.1,276.8L80.8,278.6L81.6,279.9L82.3,280.9L83.1,281.8L83.8,282.7L84.6,283.4L85.3,284.0L86.1,284.4L86.8,284.8L87.6,285.1L88.3,285.4L89.1,285.7L89.8,285.9L90.6,286.1L91.3,286.3L92.1,286.3L92.8,286.2L93.6,286.1L94.3,286.1L95.1,286.2L95.8,286.2L96.6,286.0L97.3,285.8L98.1,285.6L98.8,285.6L99.6,285.6L100.3,285.5L101.1,285.3L101.8,285.1L102.6,284.8L103.3,284.6L104.1,284.3L104.8,284.1L105.6,283.9L106.3,283.8L107.1,283.6L107.8,283.6L108.6,283.6L109.3,283.4L110.1,282.9L110.8,282.4L111.6,281.8L112.3,281.3L113.1,280.7L113.8,280.0L114.6,279.5L115.3,279.1L116.1,278.7L116.8,278.4L117.6,278.5L118.3,279.1L119.1,280.1L119.8,281.3L120.6,282.7L121.3,284.2L122.1,285.5L122.8,286.6L123.6,287.3L124.3,288.0L125.1,288.7L125.8,289.3L126.6,289.9L127.3,290.4L128.1,290.8L128.8,291.1L129.6,291.6L130.3,292.1L131.1,292.6L131.8,292.7L132.6,292.9L133.3,292.9L134.1,293.3L134.8,293.8L135.6,294.1L136.3,294.4L137.1,294.7L137.8,295.0L138.6,294.8L139.3,294.7L140.1,294.6L140.8,294.8L141.6,294.9L142.3,295.1L143.1,295.2L143.8,295.4L144.6,295.5L145.3,295.6L146.1,295.6L146.8,295.6L147.6,295.6L148.3,295.5L149.1,295.6L149.8,295.9L150.6,296.2L151.3,296.4L152.1,296.4L152.8,296.3L153.6,296.5L154.3,296.7L155.1,297.0L155.8,297.2L156.6,297.4L157.3,297.6L158.1,297.4L158.8,297.1L159.4,296.9" stroke="#303040" stroke-width="1.0"/>
<path d="M36.6,294.1L37.4,294.0L38.1,293.9L38.9,293.7L39.6,293.5L40.4,293.3L41.1,293.1L41.9,292.9L42.6,292.7L43.4,292.5L44.1,292.2L44.9,291.9L45.6,291.6L46.4,291.3L47.1,290.9L47.9,290.5L48.6,290.1L49.4,289.6L50.1,289.1L50.9,288.6L51.6,288.0L52.4,287.3L53.1,286.6L53.9,285.8L54.6,284.9L55.4,284.0L56.1,283.0L56.9,281.8L57.6,280.6L58.4,279.3L59.1,277.9L59.9,276.3L60.6,274.7L61.4,273.0L62.1,271.2L62.9,269.2L63.6,267.0L64.3,264.6L65.1,261.8L65.8,258.4L66.6,254.0L67.3,248.2L68.1,240.2L68.8,229.2L69.6,214.4L70.3,196.6L71.1,180.3L71.8,174.2L72.6,182.9L73.3,201.0L74.1,220.1L74.8,235.9L75.6,247.8L76.3,256.6L77.1,263.0L77.8,267.9L78.6,271.6L79.3,274.4L80.1,276.7L80.8,278.5L81.6,279.9L82.3,281.1L83.1,282.1L83.8,282.9L84.6,283.6L85.3,284.2L86.1,284.7L86.8,285.1L87.6,285.4L88.3,285.7L89.1,285.9L89.8,286.1L90.6,286.2L91.3,286.3L92.1,286.3L92.8,286.4L93.6,286.3L94.3,286.3L95.1,286.3L95.8,286.2L96.6,286.1L97.3,286.0L98.1,285.8L98.8,285.7L99.6,285.5L100.3,285.4L101.1,285.2L101.8,285.1L102.6,284.9L103.3,284.7L104.1,284.6L104.8,284.4L105.6,284.3L106.3,284.1L107.1,283.9L107.8,283.7L108.6,283.5L109.3,283.2L110.1,282.9L110.8,282.5L111.6,282.1L112.3,281.5L113.1,280.9L113.8,280.3L114.6,279.7L115.3,279.1L116.1,278.7L116.8,278.7L117.6,279.0L118.3,279.6L119.1,280.6L119.8,281.7L120.6,282.9L121.3,284.1L122.1,285.2L122.8,286.2L123.6,287.1L124.3,288.0L125.1,288.7L125.8,289.4L126.6,290.0L127.3,290.5L128.1,290.9L128.8,291.4L129.6,291.7L130.3,292.1L131.1,292.4L131.8,292.7L132.6,293.0L133.3,293.2L134.1,293.4L134.8,293.6L135.6,293.8L136.3,294.0L137.1,294.2L137.8,294.3L138.6,294.5L139.3,294.6L140.1,294.8L140.8,294.9L141.6,295.0L142.3,295.1L143.1,295.2L143.8,295.3L144.6,295.4L145.3,295.5L146.1,295.6L146.8,295.7L147.6,295.8L148.3,295.8L149.1,295.9L149.8,296.0L150.6,296.0L151.3,296.1L152.1,296.2L152.8,296.2L153.6,296.3L154.3,296.3L155.1,296.4L155.8,296.4L156.6,296.5L157.3,296.5L158.1,296.6L158.8,296.6L159.4,296.7" stroke="#ee3434" stroke-width="1.1"/>
<path d="M37.1,297.6L159.4,298.2" stroke="#1ee61e" stroke-width="1.6"/>
<path d="M36.6,297.0L37.4,297.0L38.1,296.9L38.9,296.9L39.6,296.9L40.4,296.8L41.1,296.8L41.9,296.8L42.6,296.7L43.4,296.7L44.1,296.6L44.9,296.6L45.6,296.5L46.4,296.5L47.1,296.4L47.9,296.3L48.6,296.3L49.4,296.2L50.1,296.1L50.9,296.0L51.6,295.8L52.4,295.7L53.1,295.5L53.9,295.4L54.6,295.2L55.4,295.0L56.1,294.7L56.9,294.4L57.6,294.1L58.4,293.7L59.1,293.3L59.9,292.7L60.6,292.1L61.4,291.4L62.1,290.5L62.9,289.3L63.6,288.0L64.3,286.2L65.1,284.0L65.8,281.1L66.6,277.2L67.3,272.1L68.1,265.0L68.8,255.2L69.6,242.0L70.3,225.1L71.1,207.0L71.8,194.7L72.6,195.8L73.3,209.5L74.1,227.7L74.8,244.1L75.6,256.8L76.3,266.2L77.1,273.0L77.8,277.9L78.6,281.6L79.3,284.4L80.1,286.6L80.8,288.3L81.6,289.6L82.3,290.7L83.1,291.6L83.8,292.3L84.6,292.9L85.3,293.5L86.1,293.9L86.8,294.3L87.6,294.6L88.3,294.9L89.1,295.2L89.8,295.4L90.6,295.6L91.3,295.8L92.1,295.9L92.8,296.1L93.6,296.2L94.3,296.3L95.1,296.4L95.8,296.5L96.6,296.6L97.3,296.7L98.1,296.7L98.8,296.8L99.6,296.9L100.3,296.9L101.1,297.0L101.8,297.0L102.6,297.1L103.3,297.1L104.1,297.2L104.8,297.2L105.6,297.2L106.3,297.3L107.1,297.3L107.8,297.3L108.6,297.4L109.3,297.4L110.1,297.4L110.8,297.4L111.6,297.5L112.3,297.5L113.1,297.5L113.8,297.5L114.6,297.5L115.3,297.6L116.1,297.6L116.8,297.6L117.6,297.6L118.3,297.6L119.1,297.6L119.8,297.7L120.6,297.7L121.3,297.7L122.1,297.7L122.8,297.7L123.6,297.7L124.3,297.7L125.1,297.8L125.8,297.8L126.6,297.8L127.3,297.8L128.1,297.8L128.8,297.8L129.6,297.8L130.3,297.8L131.1,297.8L131.8,297.8L132.6,297.9L133.3,297.9L134.1,297.9L134.8,297.9L135.6,297.9L136.3,297.9L137.1,297.9L137.8,297.9L138.6,297.9L139.3,297.9L140.1,297.9L140.8,297.9L141.6,297.9L142.3,298.0L143.1,298.0L143.8,298.0L144.6,298.0L145.3,298.0L146.1,298.0L146.8,298.0L147.6,298.0L148.3,298.0L149.1,298.0L149.8,298.0L150.6,298.0L151.3,298.0L152.1,298.0L152.8,298.0L153.6,298.1L154.3,298.1L155.1,298.1L155.8,298.1L156.6,298.1L157.3,298.1L158.1,298.1L158.8,298.1L159.4,298.1" stroke="#1ee61e" stroke-width="1.3"/>
<path d="M36.6,295.0L37.4,294.9L38.1,294.8L38.9,294.6L39.6,294.5L40.4,294.3L41.1,294.1L41.9,293.9L42.6,293.7L43.4,293.5L44.1,293.2L44.9,293.0L45.6,292.7L46.4,292.4L47.1,292.0L47.9,291.7L48.6,291.3L49.4,290.8L50.1,290.3L50.9,289.8L51.6,289.2L52.4,288.6L53.1,287.9L53.9,287.2L54.6,286.4L55.4,285.5L56.1,284.6L56.9,283.6L57.6,282.5L58.4,281.5L59.1,280.4L59.9,279.3L60.6,278.3L61.4,277.3L62.1,276.5L62.9,275.8L63.6,275.3L64.3,275.1L65.1,275.1L65.8,275.4L66.6,275.8L67.3,276.5L68.1,277.4L68.8,278.4L69.6,279.4L70.3,280.5L71.1,281.6L71.8,282.7L72.6,283.7L73.3,284.7L74.1,285.6L74.8,286.5L75.6,287.3L76.3,288.1L77.1,288.8L77.8,289.4L78.6,290.0L79.3,290.5L80.1,291.0L80.8,291.4L81.6,291.9L82.3,292.2L83.1,292.6L83.8,292.9L84.6,293.2L85.3,293.5L86.1,293.7L86.8,293.9L87.6,294.2L88.3,294.4L89.1,294.5L89.8,294.7L90.6,294.9L91.3,295.0L92.1,295.2L92.8,295.3L93.6,295.4L94.3,295.5L95.1,295.6L95.8,295.7L96.6,295.8L97.3,295.9L98.1,296.0L98.8,296.1L99.6,296.2L100.3,296.2L101.1,296.3L101.8,296.4L102.6,296.4L103.3,296.5L104.1,296.5L104.8,296.6L105.6,296.6L106.3,296.7L107.1,296.7L107.8,296.8L108.6,296.8L109.3,296.9L110.1,296.9L110.8,296.9L111.6,297.0L112.3,297.0L113.1,297.0L113.8,297.1L114.6,297.1L115.3,297.1L116.1,297.1L116.8,297.2L117.6,297.2L118.3,297.2L119.1,297.2L119.8,297.3L120.6,297.3L121.3,297.3L122.1,297.3L122.8,297.4L123.6,297.4L124.3,297.4L125.1,297.4L125.8,297.4L126.6,297.5L127.3,297.5L128.1,297.5L128.8,297.5L129.6,297.5L130.3,297.5L131.1,297.5L131.8,297.6L132.6,297.6L133.3,297.6L134.1,297.6L134.8,297.6L135.6,297.6L136.3,297.6L137.1,297.7L137.8,297.7L138.6,297.7L139.3,297.7L140.1,297.7L140.8,297.7L141.6,297.7L142.3,297.7L143.1,297.8L143.8,297.8L144.6,297.8L145.3,297.8L146.1,297.8L146.8,297.8L147.6,297.8L148.3,297.8L149.1,297.8L149.8,297.8L150.6,297.8L151.3,297.9L152.1,297.9L152.8,297.9L153.6,297.9L154.3,297.9L155.1,297.9L155.8,297.9L156.6,297.9L157.3,297.9L158.1,297.9L158.8,297.9L159.4,297.9" stroke="#1ee61e" stroke-width="1.3"/>
<path d="M36.6,297.0L37.4,297.0L38.1,297.0L38.9,297.0L39.6,297.0L40.4,297.0L41.1,297.0L41.9,297.0L42.6,297.0L43.4,297.0L44.1,296.9L44.9,296.9L45.6,296.9L46.4,296.9L47.1,296.9L47.9,296.9L48.6,296.9L49.4,296.8L50.1,296.8L50.9,296.8L51.6,296.8L52.4,296.8L53.1,296.8L53.9,296.7L54.6,296.7L55.4,296.7L56.1,296.7L56.9,296.6L57.6,296.6L58.4,296.6L59.1,296.6L59.9,296.5L60.6,296.5L61.4,296.5L62.1,296.4L62.9,296.4L63.6,296.4L64.3,296.3L65.1,296.3L65.8,296.3L66.6,296.2L67.3,296.2L68.1,296.1L68.8,296.1L69.6,296.0L70.3,296.0L71.1,295.9L71.8,295.8L72.6,295.8L73.3,295.7L74.1,295.6L74.8,295.6L75.6,295.5L76.3,295.4L77.1,295.3L77.8,295.2L78.6,295.1L79.3,295.0L80.1,294.9L80.8,294.8L81.6,294.7L82.3,294.6L83.1,294.4L83.8,294.3L84.6,294.2L85.3,294.0L86.1,293.9L86.8,293.7L87.6,293.5L88.3,293.3L89.1,293.2L89.8,293.0L90.6,292.8L91.3,292.6L92.1,292.4L92.8,292.1L93.6,291.9L94.3,291.7L95.1,291.5L95.8,291.2L96.6,291.0L97.3,290.8L98.1,290.6L98.8,290.4L99.6,290.2L100.3,290.0L101.1,289.8L101.8,289.7L102.6,289.5L103.3,289.4L104.1,289.4L104.8,289.3L105.6,289.3L106.3,289.3L107.1,289.3L107.8,289.4L108.6,289.5L109.3,289.6L110.1,289.8L110.8,289.9L111.6,290.1L112.3,290.3L113.1,290.5L113.8,290.7L114.6,290.9L115.3,291.2L116.1,291.4L116.8,291.6L117.6,291.9L118.3,292.1L119.1,292.3L119.8,292.6L120.6,292.8L121.3,293.0L122.1,293.2L122.8,293.4L123.6,293.6L124.3,293.8L125.1,293.9L125.8,294.1L126.6,294.3L127.3,294.4L128.1,294.6L128.8,294.7L129.6,294.8L130.3,295.0L131.1,295.1L131.8,295.2L132.6,295.3L133.3,295.4L134.1,295.5L134.8,295.6L135.6,295.7L136.3,295.8L137.1,295.9L137.8,296.0L138.6,296.0L139.3,296.1L140.1,296.2L140.8,296.3L141.6,296.3L142.3,296.4L143.1,296.4L143.8,296.5L144.6,296.6L145.3,296.6L146.1,296.7L146.8,296.7L147.6,296.8L148.3,296.8L149.1,296.8L149.8,296.9L150.6,296.9L151.3,297.0L152.1,297.0L152.8,297.0L153.6,297.1L154.3,297.1L155.1,297.1L155.8,297.2L156.6,297.2L157.3,297.2L158.1,297.3L158.8,297.3L159.4,297.3" stroke="#1ee61e" stroke-width="1.3"/>
<path d="M36.6,297.5L37.4,297.5L38.1,297.6L38.9,297.6L39.6,297.6L40.4,297.6L41.1,297.6L41.9,297.6L42.6,297.6L43.4,297.6L44.1,297.6L44.9,297.6L45.6,297.6L46.4,297.6L47.1,297.6L47.9,297.6L48.6,297.6L49.4,297.6L50.1,297.6L50.9,297.6L51.6,297.6L52.4,297.6L53.1,297.6L53.9,297.6L54.6,297.6L55.4,297.6L56.1,297.6L56.9,297.6L57.6,297.6L58.4,297.6L59.1,297.6L59.9,297.6L60.6,297.6L61.4,297.6L62.1,297.6L62.9,297.6L63.6,297.6L64.3,297.6L65.1,297.6L65.8,297.6L66.6,297.6L67.3,297.6L68.1,297.6L68.8,297.6L69.6,297.6L70.3,297.6L71.1,297.6L71.8,297.6L72.6,297.6L73.3,297.6L74.1,297.6L74.8,297.6L75.6,297.6L76.3,297.6L77.1,297.6L77.8,297.6L78.6,297.6L79.3,297.6L80.1,297.6L80.8,297.5L81.6,297.5L82.3,297.5L83.1,297.5L83.8,297.5L84.6,297.5L85.3,297.5L86.1,297.5L86.8,297.5L87.6,297.4L88.3,297.4L89.1,297.4L89.8,297.4L90.6,297.4L91.3,297.3L92.1,297.3L92.8,297.3L93.6,297.3L94.3,297.2L95.1,297.2L95.8,297.1L96.6,297.1L97.3,297.0L98.1,297.0L98.8,296.9L99.6,296.8L100.3,296.7L101.1,296.6L101.8,296.5L102.6,296.4L103.3,296.3L104.1,296.1L104.8,295.9L105.6,295.7L106.3,295.4L107.1,295.1L107.8,294.8L108.6,294.4L109.3,293.9L110.1,293.4L110.8,292.8L111.6,292.1L112.3,291.3L113.1,290.4L113.8,289.5L114.6,288.7L115.3,288.0L116.1,287.5L116.8,287.4L117.6,287.6L118.3,288.2L119.1,288.9L119.8,289.8L120.6,290.7L121.3,291.5L122.1,292.3L122.8,293.0L123.6,293.6L124.3,294.2L125.1,294.6L125.8,295.0L126.6,295.3L127.3,295.6L128.1,295.9L128.8,296.1L129.6,296.3L130.3,296.4L131.1,296.6L131.8,296.7L132.6,296.8L133.3,296.9L134.1,297.0L134.8,297.1L135.6,297.2L136.3,297.2L137.1,297.3L137.8,297.4L138.6,297.4L139.3,297.5L140.1,297.5L140.8,297.5L141.6,297.6L142.3,297.6L143.1,297.6L143.8,297.7L144.6,297.7L145.3,297.7L146.1,297.7L146.8,297.8L147.6,297.8L148.3,297.8L149.1,297.8L149.8,297.8L150.6,297.9L151.3,297.9L152.1,297.9L152.8,297.9L153.6,297.9L154.3,297.9L155.1,297.9L155.8,298.0L156.6,298.0L157.3,298.0L158.1,298.0L158.8,298.0L159.4,298.0" stroke="#1ee61e" stroke-width="1.3"/>
</g>
<g stroke="#3a3a3a" stroke-width="1" fill="none">
<path d="M36.6,164.3 V301.2 H159.4"/>
<path d="M33.6,298.5 H36.6"/>
<path d="M34.6,268.07 H36.6"/>
<path d="M34.6,237.65 H36.6"/>
<path d="M34.6,207.22 H36.6"/>
<path d="M33.6,176.8 H36.6"/>
<path d="M36.6,301.2 V304.2"/>
<path d="M51.95,301.2 V303.2"/>
<path d="M67.3,301.2 V304.2"/>
<path d="M82.65,301.2 V303.2"/>
<path d="M98,301.2 V304.2"/>
<path d="M113.35,301.2 V303.2"/>
<path d="M128.7,301.2 V304.2"/>
<path d="M144.05,301.2 V303.2"/>
<path d="M159.4,301.2 V304.2"/>
</g>
<text x="29.6" y="301.7" font-size="10.5" text-anchor="end">0</text>
<use href="#one" transform="translate(23.76,180.00) scale(10.500)"/>
<text x="36" y="314.4" font-size="10" text-anchor="middle">150</text>
<text x="66.4" y="314.4" font-size="10" text-anchor="middle">200</text>
<text x="96.8" y="314.4" font-size="10" text-anchor="middle">250</text>
<text x="127.9" y="314.4" font-size="10" text-anchor="middle">300</text>
<text x="156.8" y="314.4" font-size="10" text-anchor="middle">350</text>
<text x="94.3" y="176" font-size="10.6" textLength="60.06" lengthAdjust="spacingAndGlyphs" class="t" xml:space="preserve">CdSe/CdZnS </text>
<use href="#one" transform="translate(154.36,176.00) scale(9.735,10.600)" class="t"/>
<text x="159.77" y="176" font-size="10.6" textLength="16.23" lengthAdjust="spacingAndGlyphs" class="t" xml:space="preserve"> ML</text>
<text x="40.2" y="176.8" font-size="17" font-weight="bold">D</text>
<text x="76" y="198.7" font-size="8.4" class="pl">A</text>
<use href="#one" transform="translate(81.60,198.70) scale(8.400)" class="pl"/>
<text x="46.8" y="277.5" font-size="8.4" class="pl">A2</text>
<text x="93.3" y="283.1" font-size="8.4" class="pl">B2</text>
<text x="125.8" y="286.5" font-size="8.4" class="pl">B</text>
<use href="#one" transform="translate(131.40,286.50) scale(8.400)" class="pl"/>
<g fill="none" stroke-linejoin="round" stroke-linecap="round">
<path d="M204.3,294.0L205.1,294.1L205.8,294.2L206.6,294.3L207.3,294.0L208.1,293.8L208.8,293.5L209.6,293.3L210.3,293.1L211.1,292.9L211.8,292.9L212.6,292.9L213.3,292.8L214.1,292.5L214.8,292.3L215.6,291.9L216.3,291.3L217.1,290.7L217.8,290.2L218.6,289.9L219.3,289.5L220.1,288.7L220.8,287.6L221.6,286.5L222.3,285.5L223.1,284.8L223.8,284.0L224.6,283.1L225.3,282.1L226.1,280.9L226.8,279.6L227.6,278.1L228.3,276.5L229.1,274.7L229.8,272.8L230.6,270.9L231.3,269.2L232.1,267.6L232.8,265.9L233.6,264.1L234.3,262.0L235.1,259.3L235.8,255.3L236.6,249.7L237.3,241.8L238.1,230.7L238.8,215.6L239.6,197.1L240.3,179.8L241.1,173.3L241.8,182.6L242.6,201.6L243.3,221.3L244.1,237.6L244.8,250.0L245.6,259.1L246.3,265.7L247.1,270.4L247.8,273.8L248.6,276.5L249.3,278.5L250.1,280.1L250.8,281.6L251.6,283.1L252.3,284.4L253.1,285.3L253.8,285.7L254.6,286.0L255.3,286.3L256.1,286.7L256.8,287.1L257.6,287.1L258.3,286.9L259.1,286.6L259.8,286.5L260.6,286.4L261.3,286.2L262.1,286.0L262.8,285.6L263.6,285.2L264.3,284.8L265.1,284.3L265.8,283.8L266.6,283.4L267.3,283.0L268.1,282.5L268.8,281.7L269.6,280.7L270.3,279.7L271.1,278.7L271.8,277.7L272.6,276.6L273.3,275.3L274.1,274.0L274.8,272.7L275.6,271.8L276.3,271.0L277.1,270.1L277.8,269.4L278.6,268.7L279.3,268.0L280.1,267.4L280.8,266.8L281.6,266.1L282.3,265.1L283.1,264.0L283.8,262.9L284.6,261.7L285.3,260.2L286.1,257.9L286.8,255.0L287.6,252.0L288.3,249.0L289.1,246.7L289.8,245.2L290.6,245.2L291.3,246.7L292.1,249.5L292.8,253.3L293.6,257.5L294.3,261.9L295.1,265.8L295.8,269.3L296.6,272.5L297.3,275.4L298.1,278.0L298.8,280.3L299.6,282.1L300.3,283.7L301.1,285.0L301.8,286.1L302.6,287.0L303.3,287.8L304.1,288.6L304.8,289.3L305.6,289.9L306.3,290.4L307.1,290.8L307.8,291.2L308.6,291.7L309.3,292.1L310.1,292.4L310.8,292.8L311.6,293.0L312.3,293.3L313.1,293.6L313.8,293.9L314.6,294.1L315.3,294.2L316.1,294.2L316.8,294.3L317.6,294.4L318.3,294.6L319.1,294.9L319.8,295.3L320.6,295.8L321.3,295.9L322.1,295.6L322.8,295.4L323.6,295.4L324.3,295.6L325.1,295.8L325.8,295.9L326.6,295.9L326.9,296.0" stroke="#303040" stroke-width="1.0"/>
<path d="M204.3,295.0L205.1,294.9L205.8,294.8L206.6,294.6L207.3,294.5L208.1,294.3L208.8,294.2L209.6,294.0L210.3,293.8L211.1,293.6L211.8,293.3L212.6,293.1L213.3,292.8L214.1,292.5L214.8,292.2L215.6,291.8L216.3,291.5L217.1,291.0L217.8,290.6L218.6,290.0L219.3,289.5L220.1,288.8L220.8,288.1L221.6,287.3L222.3,286.5L223.1,285.5L223.8,284.5L224.6,283.3L225.3,282.0L226.1,280.6L226.8,279.1L227.6,277.5L228.3,275.9L229.1,274.2L229.8,272.4L230.6,270.7L231.3,269.0L232.1,267.3L232.8,265.6L233.6,263.8L234.3,261.6L235.1,258.8L235.8,254.9L236.6,249.4L237.3,241.6L238.1,230.4L238.8,215.0L239.6,196.4L240.3,179.4L241.1,173.1L241.8,182.6L242.6,201.7L243.3,221.5L244.1,237.8L244.8,250.0L245.6,259.0L246.3,265.5L247.1,270.3L247.8,274.0L248.6,276.8L249.3,279.0L250.1,280.7L250.8,282.1L251.6,283.1L252.3,284.0L253.1,284.7L253.8,285.3L254.6,285.8L255.3,286.1L256.1,286.4L256.8,286.5L257.6,286.6L258.3,286.7L259.1,286.7L259.8,286.6L260.6,286.4L261.3,286.3L262.1,286.0L262.8,285.7L263.6,285.3L264.3,284.9L265.1,284.4L265.8,283.9L266.6,283.3L267.3,282.6L268.1,281.9L268.8,281.1L269.6,280.3L270.3,279.4L271.1,278.4L271.8,277.4L272.6,276.4L273.3,275.4L274.1,274.4L274.8,273.3L275.6,272.4L276.3,271.4L277.1,270.6L277.8,269.7L278.6,269.0L279.3,268.3L280.1,267.6L280.8,266.9L281.6,266.2L282.3,265.3L283.1,264.3L283.8,263.0L284.6,261.5L285.3,259.5L286.1,257.3L286.8,254.7L287.6,251.9L288.3,249.2L289.1,246.9L289.8,245.6L290.6,245.5L291.3,246.9L292.1,249.6L292.8,253.2L293.6,257.3L294.3,261.4L295.1,265.3L295.8,268.9L296.6,272.1L297.3,274.9L298.1,277.4L298.8,279.5L299.6,281.3L300.3,282.9L301.1,284.3L301.8,285.5L302.6,286.5L303.3,287.5L304.1,288.3L304.8,289.0L305.6,289.7L306.3,290.3L307.1,290.8L307.8,291.3L308.6,291.7L309.3,292.1L310.1,292.5L310.8,292.8L311.6,293.2L312.3,293.4L313.1,293.7L313.8,293.9L314.6,294.2L315.3,294.4L316.1,294.6L316.8,294.8L317.6,294.9L318.3,295.1L319.1,295.3L319.8,295.4L320.6,295.5L321.3,295.7L322.1,295.8L322.8,295.9L323.6,296.0L324.3,296.1L325.1,296.2L325.8,296.3L326.6,296.4L326.9,296.4" stroke="#ee3434" stroke-width="1.1"/>
<path d="M204.8,298.0L326.9,298.9" stroke="#1ee61e" stroke-width="1.6"/>
<path d="M204.3,297.4L205.1,297.4L205.8,297.3L206.6,297.3L207.3,297.3L208.1,297.3L208.8,297.2L209.6,297.2L210.3,297.2L211.1,297.1L211.8,297.1L212.6,297.0L213.3,297.0L214.1,296.9L214.8,296.9L215.6,296.8L216.3,296.8L217.1,296.7L217.8,296.6L218.6,296.5L219.3,296.4L220.1,296.3L220.8,296.1L221.6,296.0L222.3,295.8L223.1,295.6L223.8,295.4L224.6,295.2L225.3,294.9L226.1,294.6L226.8,294.2L227.6,293.8L228.3,293.3L229.1,292.7L229.8,292.0L230.6,291.2L231.3,290.2L232.1,288.9L232.8,287.4L233.6,285.4L234.3,282.8L235.1,279.5L235.8,275.0L236.6,269.0L237.3,260.7L238.1,249.2L238.8,233.7L239.6,214.7L240.3,196.1L241.1,186.5L241.8,192.5L242.6,209.9L243.3,229.4L244.1,245.8L244.8,258.2L245.6,267.3L246.3,273.8L247.1,278.6L247.8,282.2L248.6,284.9L249.3,287.0L250.1,288.7L250.8,290.1L251.6,291.1L252.3,292.0L253.1,292.8L253.8,293.4L254.6,293.9L255.3,294.4L256.1,294.7L256.8,295.1L257.6,295.4L258.3,295.6L259.1,295.9L259.8,296.1L260.6,296.2L261.3,296.4L262.1,296.5L262.8,296.7L263.6,296.8L264.3,296.9L265.1,297.0L265.8,297.1L266.6,297.2L267.3,297.3L268.1,297.3L268.8,297.4L269.6,297.5L270.3,297.5L271.1,297.6L271.8,297.6L272.6,297.7L273.3,297.7L274.1,297.7L274.8,297.8L275.6,297.8L276.3,297.9L277.1,297.9L277.8,297.9L278.6,298.0L279.3,298.0L280.1,298.0L280.8,298.0L281.6,298.1L282.3,298.1L283.1,298.1L283.8,298.1L284.6,298.1L285.3,298.2L286.1,298.2L286.8,298.2L287.6,298.2L288.3,298.2L289.1,298.3L289.8,298.3L290.6,298.3L291.3,298.3L292.1,298.3L292.8,298.3L293.6,298.4L294.3,298.4L295.1,298.4L295.8,298.4L296.6,298.4L297.3,298.4L298.1,298.4L298.8,298.4L299.6,298.5L300.3,298.5L301.1,298.5L301.8,298.5L302.6,298.5L303.3,298.5L304.1,298.5L304.8,298.5L305.6,298.5L306.3,298.6L307.1,298.6L307.8,298.6L308.6,298.6L309.3,298.6L310.1,298.6L310.8,298.6L311.6,298.6L312.3,298.6L313.1,298.6L313.8,298.6L314.6,298.7L315.3,298.7L316.1,298.7L316.8,298.7L317.6,298.7L318.3,298.7L319.1,298.7L319.8,298.7L320.6,298.7L321.3,298.7L322.1,298.7L322.8,298.7L323.6,298.8L324.3,298.8L325.1,298.8L325.8,298.8L326.6,298.8L326.9,298.8" stroke="#1ee61e" stroke-width="1.3"/>
<path d="M204.3,296.2L205.1,296.1L205.8,296.0L206.6,295.9L207.3,295.8L208.1,295.6L208.8,295.5L209.6,295.4L210.3,295.2L211.1,295.0L211.8,294.8L212.6,294.6L213.3,294.4L214.1,294.1L214.8,293.9L215.6,293.6L216.3,293.2L217.1,292.8L217.8,292.4L218.6,292.0L219.3,291.5L220.1,290.9L220.8,290.3L221.6,289.5L222.3,288.8L223.1,287.9L223.8,287.0L224.6,285.9L225.3,284.8L226.1,283.7L226.8,282.4L227.6,281.2L228.3,280.0L229.1,278.9L229.8,278.0L230.6,277.3L231.3,276.9L232.1,276.8L232.8,277.0L233.6,277.6L234.3,278.4L235.1,279.4L235.8,280.5L236.6,281.8L237.3,283.0L238.1,284.2L238.8,285.4L239.6,286.5L240.3,287.5L241.1,288.4L241.8,289.2L242.6,290.0L243.3,290.7L244.1,291.3L244.8,291.9L245.6,292.4L246.3,292.8L247.1,293.2L247.8,293.6L248.6,293.9L249.3,294.2L250.1,294.5L250.8,294.8L251.6,295.0L252.3,295.2L253.1,295.4L253.8,295.6L254.6,295.7L255.3,295.9L256.1,296.0L256.8,296.2L257.6,296.3L258.3,296.4L259.1,296.5L259.8,296.6L260.6,296.7L261.3,296.8L262.1,296.9L262.8,296.9L263.6,297.0L264.3,297.1L265.1,297.1L265.8,297.2L266.6,297.3L267.3,297.3L268.1,297.4L268.8,297.4L269.6,297.4L270.3,297.5L271.1,297.5L271.8,297.6L272.6,297.6L273.3,297.6L274.1,297.7L274.8,297.7L275.6,297.7L276.3,297.8L277.1,297.8L277.8,297.8L278.6,297.9L279.3,297.9L280.1,297.9L280.8,297.9L281.6,298.0L282.3,298.0L283.1,298.0L283.8,298.0L284.6,298.0L285.3,298.1L286.1,298.1L286.8,298.1L287.6,298.1L288.3,298.1L289.1,298.2L289.8,298.2L290.6,298.2L291.3,298.2L292.1,298.2L292.8,298.2L293.6,298.3L294.3,298.3L295.1,298.3L295.8,298.3L296.6,298.3L297.3,298.3L298.1,298.3L298.8,298.4L299.6,298.4L300.3,298.4L301.1,298.4L301.8,298.4L302.6,298.4L303.3,298.4L304.1,298.4L304.8,298.5L305.6,298.5L306.3,298.5L307.1,298.5L307.8,298.5L308.6,298.5L309.3,298.5L310.1,298.5L310.8,298.5L311.6,298.5L312.3,298.6L313.1,298.6L313.8,298.6L314.6,298.6L315.3,298.6L316.1,298.6L316.8,298.6L317.6,298.6L318.3,298.6L319.1,298.6L319.8,298.7L320.6,298.7L321.3,298.7L322.1,298.7L322.8,298.7L323.6,298.7L324.3,298.7L325.1,298.7L325.8,298.7L326.6,298.7L326.9,298.7" stroke="#1ee61e" stroke-width="1.3"/>
<path d="M204.3,297.5L205.1,297.5L205.8,297.5L206.6,297.5L207.3,297.5L208.1,297.5L208.8,297.4L209.6,297.4L210.3,297.4L211.1,297.4L211.8,297.4L212.6,297.4L213.3,297.4L214.1,297.4L214.8,297.4L215.6,297.4L216.3,297.4L217.1,297.3L217.8,297.3L218.6,297.3L219.3,297.3L220.1,297.3L220.8,297.3L221.6,297.3L222.3,297.2L223.1,297.2L223.8,297.2L224.6,297.2L225.3,297.2L226.1,297.1L226.8,297.1L227.6,297.1L228.3,297.1L229.1,297.0L229.8,297.0L230.6,297.0L231.3,296.9L232.1,296.9L232.8,296.9L233.6,296.8L234.3,296.8L235.1,296.8L235.8,296.7L236.6,296.7L237.3,296.6L238.1,296.6L238.8,296.5L239.6,296.5L240.3,296.4L241.1,296.3L241.8,296.3L242.6,296.2L243.3,296.1L244.1,296.0L244.8,296.0L245.6,295.9L246.3,295.8L247.1,295.7L247.8,295.6L248.6,295.4L249.3,295.3L250.1,295.2L250.8,295.0L251.6,294.9L252.3,294.7L253.1,294.6L253.8,294.4L254.6,294.2L255.3,293.9L256.1,293.7L256.8,293.5L257.6,293.2L258.3,292.9L259.1,292.6L259.8,292.3L260.6,291.9L261.3,291.5L262.1,291.1L262.8,290.6L263.6,290.2L264.3,289.6L265.1,289.1L265.8,288.5L266.6,287.8L267.3,287.2L268.1,286.5L268.8,285.7L269.6,284.9L270.3,284.2L271.1,283.3L271.8,282.5L272.6,281.8L273.3,281.0L274.1,280.3L274.8,279.7L275.6,279.2L276.3,278.8L277.1,278.6L277.8,278.5L278.6,278.6L279.3,278.8L280.1,279.2L280.8,279.7L281.6,280.3L282.3,280.9L283.1,281.7L283.8,282.5L284.6,283.3L285.3,284.1L286.1,284.9L286.8,285.7L287.6,286.5L288.3,287.2L289.1,287.9L289.8,288.5L290.6,289.2L291.3,289.7L292.1,290.3L292.8,290.8L293.6,291.2L294.3,291.7L295.1,292.1L295.8,292.5L296.6,292.8L297.3,293.1L298.1,293.4L298.8,293.7L299.6,294.0L300.3,294.2L301.1,294.5L301.8,294.7L302.6,294.9L303.3,295.1L304.1,295.2L304.8,295.4L305.6,295.6L306.3,295.7L307.1,295.8L307.8,296.0L308.6,296.1L309.3,296.2L310.1,296.3L310.8,296.4L311.6,296.5L312.3,296.6L313.1,296.7L313.8,296.8L314.6,296.9L315.3,296.9L316.1,297.0L316.8,297.1L317.6,297.1L318.3,297.2L319.1,297.3L319.8,297.3L320.6,297.4L321.3,297.4L322.1,297.5L322.8,297.5L323.6,297.6L324.3,297.6L325.1,297.7L325.8,297.7L326.6,297.7L326.9,297.8" stroke="#1ee61e" stroke-width="1.3"/>
<path d="M204.3,297.8L205.1,297.8L205.8,297.8L206.6,297.8L207.3,297.8L208.1,297.8L208.8,297.8L209.6,297.8L210.3,297.8L211.1,297.8L211.8,297.8L212.6,297.8L213.3,297.8L214.1,297.8L214.8,297.8L215.6,297.9L216.3,297.9L217.1,297.9L217.8,297.9L218.6,297.9L219.3,297.9L220.1,297.9L220.8,297.9L221.6,297.9L222.3,297.9L223.1,297.9L223.8,297.8L224.6,297.8L225.3,297.8L226.1,297.8L226.8,297.8L227.6,297.8L228.3,297.8L229.1,297.8L229.8,297.8L230.6,297.8L231.3,297.8L232.1,297.8L232.8,297.8L233.6,297.8L234.3,297.8L235.1,297.8L235.8,297.8L236.6,297.8L237.3,297.8L238.1,297.8L238.8,297.8L239.6,297.8L240.3,297.7L241.1,297.7L241.8,297.7L242.6,297.7L243.3,297.7L244.1,297.7L244.8,297.7L245.6,297.7L246.3,297.6L247.1,297.6L247.8,297.6L248.6,297.6L249.3,297.6L250.1,297.5L250.8,297.5L251.6,297.5L252.3,297.5L253.1,297.4L253.8,297.4L254.6,297.4L255.3,297.3L256.1,297.3L256.8,297.2L257.6,297.2L258.3,297.1L259.1,297.1L259.8,297.0L260.6,297.0L261.3,296.9L262.1,296.8L262.8,296.7L263.6,296.7L264.3,296.6L265.1,296.5L265.8,296.3L266.6,296.2L267.3,296.1L268.1,295.9L268.8,295.8L269.6,295.6L270.3,295.4L271.1,295.1L271.8,294.9L272.6,294.6L273.3,294.3L274.1,293.9L274.8,293.5L275.6,293.1L276.3,292.5L277.1,291.9L277.8,291.2L278.6,290.4L279.3,289.5L280.1,288.4L280.8,287.2L281.6,285.7L282.3,284.0L283.1,281.9L283.8,279.6L284.6,276.9L285.3,273.8L286.1,270.4L286.8,266.8L287.6,263.3L288.3,260.3L289.1,258.2L289.8,257.4L290.6,258.0L291.3,260.0L292.1,262.9L292.8,266.4L293.6,270.0L294.3,273.4L295.1,276.5L295.8,279.3L296.6,281.7L297.3,283.8L298.1,285.6L298.8,287.1L299.6,288.4L300.3,289.5L301.1,290.5L301.8,291.3L302.6,292.0L303.3,292.6L304.1,293.2L304.8,293.7L305.6,294.1L306.3,294.5L307.1,294.8L307.8,295.1L308.6,295.4L309.3,295.6L310.1,295.8L310.8,296.0L311.6,296.2L312.3,296.4L313.1,296.5L313.8,296.7L314.6,296.8L315.3,296.9L316.1,297.0L316.8,297.1L317.6,297.2L318.3,297.3L319.1,297.4L319.8,297.5L320.6,297.5L321.3,297.6L322.1,297.7L322.8,297.7L323.6,297.8L324.3,297.8L325.1,297.9L325.8,297.9L326.6,298.0L326.9,298.0" stroke="#1ee61e" stroke-width="1.3"/>
</g>
<g stroke="#3a3a3a" stroke-width="1" fill="none">
<path d="M204.3,164.3 V301.4 H326.9"/>
<path d="M201.3,299.4 H204.3"/>
<path d="M202.3,268.67 H204.3"/>
<path d="M202.3,237.95 H204.3"/>
<path d="M202.3,207.22 H204.3"/>
<path d="M201.3,176.5 H204.3"/>
<path d="M204.3,301.4 V304.4"/>
<path d="M219.62,301.4 V303.4"/>
<path d="M234.95,301.4 V304.4"/>
<path d="M250.28,301.4 V303.4"/>
<path d="M265.6,301.4 V304.4"/>
<path d="M280.93,301.4 V303.4"/>
<path d="M296.25,301.4 V304.4"/>
<path d="M311.57,301.4 V303.4"/>
<path d="M326.9,301.4 V304.4"/>
</g>
<text x="197.3" y="302.6" font-size="10.5" text-anchor="end">0</text>
<use href="#one" transform="translate(191.46,179.70) scale(10.500)"/>
<text x="206.7" y="314.4" font-size="10" text-anchor="middle">150</text>
<text x="236.8" y="314.4" font-size="10" text-anchor="middle">200</text>
<text x="266.8" y="314.4" font-size="10" text-anchor="middle">250</text>
<text x="297.3" y="314.4" font-size="10" text-anchor="middle">300</text>
<text x="326.8" y="314.4" font-size="10" text-anchor="middle">350</text>
<text x="289.1" y="175.3" font-size="10.6" textLength="81.7" lengthAdjust="spacingAndGlyphs" class="t">CdSe/CdZnS 3 ML</text>
<text x="208.2" y="176.7" font-size="17" font-weight="bold">E</text>
<text x="228.3" y="189" font-size="8.4" class="pl">A</text>
<use href="#one" transform="translate(233.90,189.00) scale(8.400)" class="pl"/>
<text x="214.4" y="279.1" font-size="8.4" class="pl">A2</text>
<text x="259.4" y="276.6" font-size="8.4" class="pl">B2</text>
<text x="297.8" y="263.5" font-size="8.4" class="pl">B</text>
<use href="#one" transform="translate(303.40,263.50) scale(8.400)" class="pl"/>
<g fill="none" stroke-linejoin="round" stroke-linecap="round">
<path d="M396.5,295.0L397.2,295.1L398.0,295.1L398.8,295.1L399.5,295.1L400.2,295.1L401.0,295.0L401.8,294.6L402.5,294.3L403.2,294.0L404.0,294.1L404.8,294.1L405.5,294.1L406.2,293.8L407.0,293.4L407.8,293.1L408.5,292.7L409.2,292.4L410.0,292.0L410.8,291.5L411.5,291.0L412.2,290.6L413.0,290.2L413.8,289.8L414.5,289.2L415.2,288.4L416.0,287.6L416.8,286.8L417.5,285.9L418.2,285.1L419.0,283.9L419.8,282.7L420.5,281.4L421.2,280.3L422.0,279.4L422.8,278.5L423.5,277.6L424.2,276.6L425.0,275.5L425.8,273.9L426.5,272.0L427.2,269.7L428.0,266.7L428.8,262.9L429.5,257.7L430.2,250.8L431.0,241.2L431.8,228.0L432.5,211.2L433.2,192.4L434.0,177.9L434.8,175.7L435.5,188.0L436.2,207.3L437.0,226.0L437.8,241.2L438.5,252.7L439.2,261.5L440.0,268.1L440.8,273.0L441.5,276.4L442.2,278.9L443.0,281.0L443.8,283.0L444.5,284.6L445.2,285.9L446.0,287.0L446.8,288.0L447.5,288.5L448.2,288.7L449.0,288.8L449.8,289.1L450.5,289.7L451.2,290.1L452.0,290.3L452.8,290.2L453.5,290.1L454.2,290.1L455.0,290.2L455.8,290.2L456.5,290.1L457.2,290.0L458.0,289.8L458.8,289.5L459.5,289.2L460.2,288.8L461.0,288.3L461.8,287.8L462.5,287.2L463.2,286.7L464.0,286.2L464.8,285.6L465.5,284.8L466.2,283.8L467.0,282.8L467.8,281.7L468.5,280.5L469.2,279.2L470.0,277.8L470.8,276.3L471.5,275.0L472.2,273.9L473.0,272.8L473.8,271.6L474.5,270.1L475.2,268.5L476.0,266.6L476.8,264.4L477.5,261.8L478.2,258.5L479.0,254.6L479.8,249.9L480.5,244.8L481.2,239.6L482.0,234.9L482.8,231.6L483.5,230.4L484.2,232.1L485.0,236.3L485.8,242.2L486.5,248.7L487.2,254.8L488.0,260.3L488.8,265.1L489.5,269.4L490.2,273.0L491.0,276.1L491.8,278.8L492.5,281.1L493.2,283.1L494.0,284.4L494.8,285.6L495.5,286.5L496.2,287.5L497.0,288.3L497.8,289.1L498.5,289.7L499.2,290.3L500.0,290.8L500.8,291.5L501.5,292.2L502.2,292.8L503.0,293.2L503.8,293.6L504.5,294.1L505.2,294.5L506.0,294.9L506.8,295.2L507.5,295.1L508.2,295.1L509.0,295.0L509.8,295.1L510.5,295.1L511.2,295.3L512.0,295.7L512.8,296.1L513.5,296.4L514.2,296.5L515.0,296.6L515.8,296.7L516.5,296.7L517.2,296.8L518.0,296.8L518.8,296.8L518.9,296.8" stroke="#303040" stroke-width="1.0"/>
<path d="M396.5,295.3L397.2,295.2L398.0,295.1L398.8,295.0L399.5,294.9L400.2,294.8L401.0,294.6L401.8,294.5L402.5,294.3L403.2,294.2L404.0,294.0L404.8,293.8L405.5,293.5L406.2,293.3L407.0,293.0L407.8,292.8L408.5,292.4L409.2,292.1L410.0,291.7L410.8,291.3L411.5,290.9L412.2,290.4L413.0,289.9L413.8,289.3L414.5,288.7L415.2,288.0L416.0,287.3L416.8,286.5L417.5,285.7L418.2,284.8L419.0,283.8L419.8,282.8L420.5,281.7L421.2,280.7L422.0,279.6L422.8,278.4L423.5,277.2L424.2,276.0L425.0,274.7L425.8,273.3L426.5,271.5L427.2,269.4L428.0,266.6L428.8,263.0L429.5,257.9L430.2,251.0L431.0,241.3L431.8,228.1L432.5,211.0L433.2,192.0L434.0,177.3L434.8,175.0L435.5,187.2L436.2,206.5L437.0,225.6L437.8,241.1L438.5,252.8L439.2,261.4L440.0,267.8L440.8,272.6L441.5,276.3L442.2,279.1L443.0,281.4L443.8,283.2L444.5,284.6L445.2,285.8L446.0,286.7L446.8,287.5L447.5,288.1L448.2,288.7L449.0,289.1L449.8,289.5L450.5,289.8L451.2,290.0L452.0,290.1L452.8,290.3L453.5,290.3L454.2,290.3L455.0,290.3L455.8,290.2L456.5,290.1L457.2,289.9L458.0,289.7L458.8,289.5L459.5,289.2L460.2,288.8L461.0,288.4L461.8,287.9L462.5,287.4L463.2,286.8L464.0,286.1L464.8,285.3L465.5,284.5L466.2,283.6L467.0,282.6L467.8,281.6L468.5,280.5L469.2,279.3L470.0,278.1L470.8,277.0L471.5,275.8L472.2,274.6L473.0,273.3L473.8,272.1L474.5,270.7L475.2,269.1L476.0,267.3L476.8,265.1L477.5,262.4L478.2,259.1L479.0,255.0L479.8,250.3L480.5,245.0L481.2,239.6L482.0,234.7L482.8,231.4L483.5,230.5L484.2,232.3L485.0,236.5L485.8,242.2L486.5,248.5L487.2,254.7L488.0,260.3L488.8,265.2L489.5,269.4L490.2,273.0L491.0,275.9L491.8,278.5L492.5,280.6L493.2,282.5L494.0,284.0L494.8,285.4L495.5,286.6L496.2,287.6L497.0,288.5L497.8,289.3L498.5,290.0L499.2,290.7L500.0,291.2L500.8,291.8L501.5,292.2L502.2,292.7L503.0,293.1L503.8,293.4L504.5,293.7L505.2,294.0L506.0,294.3L506.8,294.6L507.5,294.8L508.2,295.0L509.0,295.2L509.8,295.4L510.5,295.6L511.2,295.8L512.0,295.9L512.8,296.1L513.5,296.2L514.2,296.4L515.0,296.5L515.8,296.6L516.5,296.7L517.2,296.8L518.0,296.9L518.8,297.0L518.9,297.0" stroke="#ee3434" stroke-width="1.1"/>
<path d="M397.0,297.9L518.9,299.3" stroke="#1ee61e" stroke-width="1.6"/>
<path d="M396.5,297.3L397.2,297.2L398.0,297.2L398.8,297.2L399.5,297.2L400.2,297.2L401.0,297.1L401.8,297.1L402.5,297.1L403.2,297.0L404.0,297.0L404.8,297.0L405.5,296.9L406.2,296.9L407.0,296.8L407.8,296.7L408.5,296.7L409.2,296.6L410.0,296.5L410.8,296.4L411.5,296.3L412.2,296.2L413.0,296.1L413.8,296.0L414.5,295.8L415.2,295.7L416.0,295.5L416.8,295.3L417.5,295.0L418.2,294.7L419.0,294.4L419.8,294.0L420.5,293.6L421.2,293.1L422.0,292.5L422.8,291.8L423.5,291.0L424.2,290.0L425.0,288.7L425.8,287.2L426.5,285.3L427.2,282.8L428.0,279.6L428.8,275.4L429.5,269.9L430.2,262.3L431.0,252.0L431.8,238.2L432.5,220.7L433.2,201.8L434.0,187.7L434.8,186.5L435.5,198.9L436.2,217.7L437.0,235.7L437.8,250.1L438.5,260.9L439.2,268.9L440.0,274.8L440.8,279.2L441.5,282.5L442.2,285.1L443.0,287.1L443.8,288.7L444.5,290.0L445.2,291.1L446.0,292.0L446.8,292.7L447.5,293.3L448.2,293.8L449.0,294.3L449.8,294.7L450.5,295.0L451.2,295.3L452.0,295.6L452.8,295.9L453.5,296.1L454.2,296.3L455.0,296.4L455.8,296.6L456.5,296.7L457.2,296.8L458.0,297.0L458.8,297.1L459.5,297.2L460.2,297.3L461.0,297.3L461.8,297.4L462.5,297.5L463.2,297.6L464.0,297.6L464.8,297.7L465.5,297.7L466.2,297.8L467.0,297.8L467.8,297.9L468.5,297.9L469.2,298.0L470.0,298.0L470.8,298.1L471.5,298.1L472.2,298.1L473.0,298.2L473.8,298.2L474.5,298.2L475.2,298.2L476.0,298.3L476.8,298.3L477.5,298.3L478.2,298.4L479.0,298.4L479.8,298.4L480.5,298.4L481.2,298.4L482.0,298.5L482.8,298.5L483.5,298.5L484.2,298.5L485.0,298.6L485.8,298.6L486.5,298.6L487.2,298.6L488.0,298.6L488.8,298.6L489.5,298.7L490.2,298.7L491.0,298.7L491.8,298.7L492.5,298.7L493.2,298.7L494.0,298.8L494.8,298.8L495.5,298.8L496.2,298.8L497.0,298.8L497.8,298.8L498.5,298.8L499.2,298.9L500.0,298.9L500.8,298.9L501.5,298.9L502.2,298.9L503.0,298.9L503.8,298.9L504.5,298.9L505.2,299.0L506.0,299.0L506.8,299.0L507.5,299.0L508.2,299.0L509.0,299.0L509.8,299.0L510.5,299.0L511.2,299.1L512.0,299.1L512.8,299.1L513.5,299.1L514.2,299.1L515.0,299.1L515.8,299.1L516.5,299.1L517.2,299.1L518.0,299.2L518.8,299.2L518.9,299.2" stroke="#1ee61e" stroke-width="1.3"/>
<path d="M396.5,296.0L397.2,296.0L398.0,295.9L398.8,295.8L399.5,295.7L400.2,295.6L401.0,295.4L401.8,295.3L402.5,295.2L403.2,295.0L404.0,294.9L404.8,294.7L405.5,294.5L406.2,294.3L407.0,294.0L407.8,293.8L408.5,293.5L409.2,293.2L410.0,292.9L410.8,292.5L411.5,292.1L412.2,291.7L413.0,291.2L413.8,290.7L414.5,290.1L415.2,289.5L416.0,288.9L416.8,288.2L417.5,287.5L418.2,286.7L419.0,286.0L419.8,285.2L420.5,284.5L421.2,283.8L422.0,283.2L422.8,282.7L423.5,282.3L424.2,282.1L425.0,282.1L425.8,282.2L426.5,282.5L427.2,283.0L428.0,283.6L428.8,284.2L429.5,285.0L430.2,285.7L431.0,286.5L431.8,287.3L432.5,288.0L433.2,288.8L434.0,289.4L434.8,290.1L435.5,290.7L436.2,291.2L437.0,291.7L437.8,292.2L438.5,292.6L439.2,293.0L440.0,293.4L440.8,293.7L441.5,294.0L442.2,294.3L443.0,294.6L443.8,294.8L444.5,295.0L445.2,295.2L446.0,295.4L446.8,295.6L447.5,295.8L448.2,295.9L449.0,296.1L449.8,296.2L450.5,296.3L451.2,296.4L452.0,296.5L452.8,296.6L453.5,296.7L454.2,296.8L455.0,296.9L455.8,297.0L456.5,297.1L457.2,297.1L458.0,297.2L458.8,297.3L459.5,297.3L460.2,297.4L461.0,297.5L461.8,297.5L462.5,297.6L463.2,297.6L464.0,297.6L464.8,297.7L465.5,297.7L466.2,297.8L467.0,297.8L467.8,297.9L468.5,297.9L469.2,297.9L470.0,298.0L470.8,298.0L471.5,298.0L472.2,298.1L473.0,298.1L473.8,298.1L474.5,298.1L475.2,298.2L476.0,298.2L476.8,298.2L477.5,298.2L478.2,298.3L479.0,298.3L479.8,298.3L480.5,298.3L481.2,298.4L482.0,298.4L482.8,298.4L483.5,298.4L484.2,298.4L485.0,298.5L485.8,298.5L486.5,298.5L487.2,298.5L488.0,298.5L488.8,298.6L489.5,298.6L490.2,298.6L491.0,298.6L491.8,298.6L492.5,298.6L493.2,298.7L494.0,298.7L494.8,298.7L495.5,298.7L496.2,298.7L497.0,298.7L497.8,298.7L498.5,298.8L499.2,298.8L500.0,298.8L500.8,298.8L501.5,298.8L502.2,298.8L503.0,298.8L503.8,298.9L504.5,298.9L505.2,298.9L506.0,298.9L506.8,298.9L507.5,298.9L508.2,298.9L509.0,299.0L509.8,299.0L510.5,299.0L511.2,299.0L512.0,299.0L512.8,299.0L513.5,299.0L514.2,299.0L515.0,299.1L515.8,299.1L516.5,299.1L517.2,299.1L518.0,299.1L518.8,299.1L518.9,299.1" stroke="#1ee61e" stroke-width="1.3"/>
<path d="M396.5,297.7L397.2,297.7L398.0,297.7L398.8,297.7L399.5,297.7L400.2,297.7L401.0,297.7L401.8,297.7L402.5,297.7L403.2,297.7L404.0,297.7L404.8,297.8L405.5,297.8L406.2,297.8L407.0,297.8L407.8,297.8L408.5,297.8L409.2,297.8L410.0,297.8L410.8,297.8L411.5,297.8L412.2,297.8L413.0,297.8L413.8,297.8L414.5,297.8L415.2,297.8L416.0,297.8L416.8,297.8L417.5,297.8L418.2,297.8L419.0,297.8L419.8,297.8L420.5,297.8L421.2,297.8L422.0,297.8L422.8,297.8L423.5,297.8L424.2,297.8L425.0,297.7L425.8,297.7L426.5,297.7L427.2,297.7L428.0,297.7L428.8,297.7L429.5,297.7L430.2,297.7L431.0,297.7L431.8,297.7L432.5,297.6L433.2,297.6L434.0,297.6L434.8,297.6L435.5,297.6L436.2,297.6L437.0,297.5L437.8,297.5L438.5,297.5L439.2,297.5L440.0,297.4L440.8,297.4L441.5,297.4L442.2,297.3L443.0,297.3L443.8,297.2L444.5,297.2L445.2,297.1L446.0,297.1L446.8,297.0L447.5,296.9L448.2,296.9L449.0,296.8L449.8,296.7L450.5,296.6L451.2,296.5L452.0,296.4L452.8,296.2L453.5,296.1L454.2,296.0L455.0,295.8L455.8,295.6L456.5,295.4L457.2,295.2L458.0,295.0L458.8,294.7L459.5,294.4L460.2,294.1L461.0,293.7L461.8,293.3L462.5,292.9L463.2,292.4L464.0,291.9L464.8,291.4L465.5,290.8L466.2,290.2L467.0,289.5L467.8,288.9L468.5,288.2L469.2,287.5L470.0,287.0L470.8,286.4L471.5,286.1L472.2,285.8L473.0,285.7L473.8,285.8L474.5,286.0L475.2,286.4L476.0,286.8L476.8,287.4L477.5,288.1L478.2,288.8L479.0,289.4L479.8,290.1L480.5,290.8L481.2,291.4L482.0,292.0L482.8,292.5L483.5,293.0L484.2,293.5L485.0,293.9L485.8,294.3L486.5,294.6L487.2,294.9L488.0,295.2L488.8,295.5L489.5,295.7L490.2,295.9L491.0,296.2L491.8,296.3L492.5,296.5L493.2,296.7L494.0,296.8L494.8,296.9L495.5,297.1L496.2,297.2L497.0,297.3L497.8,297.4L498.5,297.5L499.2,297.6L500.0,297.7L500.8,297.7L501.5,297.8L502.2,297.9L503.0,297.9L503.8,298.0L504.5,298.1L505.2,298.1L506.0,298.2L506.8,298.2L507.5,298.3L508.2,298.3L509.0,298.3L509.8,298.4L510.5,298.4L511.2,298.5L512.0,298.5L512.8,298.5L513.5,298.6L514.2,298.6L515.0,298.6L515.8,298.7L516.5,298.7L517.2,298.7L518.0,298.7L518.8,298.8L518.9,298.8" stroke="#1ee61e" stroke-width="1.3"/>
<path d="M396.5,297.7L397.2,297.7L398.0,297.7L398.8,297.7L399.5,297.7L400.2,297.7L401.0,297.7L401.8,297.8L402.5,297.8L403.2,297.8L404.0,297.8L404.8,297.8L405.5,297.8L406.2,297.8L407.0,297.8L407.8,297.8L408.5,297.8L409.2,297.8L410.0,297.8L410.8,297.8L411.5,297.8L412.2,297.8L413.0,297.8L413.8,297.8L414.5,297.8L415.2,297.8L416.0,297.8L416.8,297.8L417.5,297.8L418.2,297.8L419.0,297.8L419.8,297.8L420.5,297.8L421.2,297.8L422.0,297.8L422.8,297.8L423.5,297.8L424.2,297.8L425.0,297.8L425.8,297.8L426.5,297.8L427.2,297.8L428.0,297.8L428.8,297.8L429.5,297.8L430.2,297.8L431.0,297.8L431.8,297.8L432.5,297.8L433.2,297.8L434.0,297.8L434.8,297.8L435.5,297.8L436.2,297.7L437.0,297.7L437.8,297.7L438.5,297.7L439.2,297.7L440.0,297.7L440.8,297.7L441.5,297.6L442.2,297.6L443.0,297.6L443.8,297.6L444.5,297.6L445.2,297.5L446.0,297.5L446.8,297.5L447.5,297.4L448.2,297.4L449.0,297.4L449.8,297.3L450.5,297.3L451.2,297.2L452.0,297.2L452.8,297.1L453.5,297.1L454.2,297.0L455.0,296.9L455.8,296.9L456.5,296.8L457.2,296.7L458.0,296.6L458.8,296.5L459.5,296.4L460.2,296.2L461.0,296.1L461.8,295.9L462.5,295.8L463.2,295.6L464.0,295.4L464.8,295.1L465.5,294.9L466.2,294.6L467.0,294.2L467.8,293.9L468.5,293.4L469.2,293.0L470.0,292.4L470.8,291.8L471.5,291.1L472.2,290.2L473.0,289.2L473.8,288.1L474.5,286.7L475.2,285.1L476.0,283.1L476.8,280.8L477.5,278.1L478.2,274.8L479.0,270.8L479.8,266.2L480.5,260.9L481.2,255.1L482.0,249.2L482.8,244.0L483.5,240.4L484.2,239.3L485.0,240.9L485.8,244.8L486.5,250.2L487.2,256.1L488.0,261.8L488.8,267.1L489.5,271.6L490.2,275.5L491.0,278.7L491.8,281.4L492.5,283.7L493.2,285.6L494.0,287.2L494.8,288.5L495.5,289.6L496.2,290.6L497.0,291.5L497.8,292.2L498.5,292.8L499.2,293.4L500.0,293.9L500.8,294.3L501.5,294.7L502.2,295.0L503.0,295.3L503.8,295.6L504.5,295.9L505.2,296.1L506.0,296.3L506.8,296.5L507.5,296.7L508.2,296.8L509.0,297.0L509.8,297.1L510.5,297.2L511.2,297.3L512.0,297.4L512.8,297.5L513.5,297.6L514.2,297.7L515.0,297.8L515.8,297.9L516.5,297.9L517.2,298.0L518.0,298.1L518.8,298.1L518.9,298.1" stroke="#1ee61e" stroke-width="1.3"/>
</g>
<g stroke="#3a3a3a" stroke-width="1" fill="none">
<path d="M396.5,163.2 V301.8 H518.9"/>
<path d="M393.5,297.7 H396.5"/>
<path d="M394.5,267.3 H396.5"/>
<path d="M394.5,236.9 H396.5"/>
<path d="M394.5,206.5 H396.5"/>
<path d="M393.5,176.1 H396.5"/>
<path d="M396.5,301.8 V304.8"/>
<path d="M411.8,301.8 V303.8"/>
<path d="M427.1,301.8 V304.8"/>
<path d="M442.4,301.8 V303.8"/>
<path d="M457.7,301.8 V304.8"/>
<path d="M473,301.8 V303.8"/>
<path d="M488.3,301.8 V304.8"/>
<path d="M503.6,301.8 V303.8"/>
<path d="M518.9,301.8 V304.8"/>
</g>
<text x="389.5" y="300.9" font-size="10.5" text-anchor="end">0</text>
<use href="#one" transform="translate(383.66,179.30) scale(10.500)"/>
<text x="398.8" y="314.4" font-size="10" text-anchor="middle">150</text>
<text x="427.4" y="314.4" font-size="10" text-anchor="middle">200</text>
<text x="457.4" y="314.4" font-size="10" text-anchor="middle">250</text>
<text x="487.9" y="314.4" font-size="10" text-anchor="middle">300</text>
<text x="517.1" y="314.4" font-size="10" text-anchor="middle">350</text>
<text x="485.8" y="175.3" font-size="10.6" textLength="81.7" lengthAdjust="spacingAndGlyphs" class="t">CdSe/CdZnS 5 ML</text>
<text x="400.1" y="177.1" font-size="17" font-weight="bold">F</text>
<text x="420" y="190.1" font-size="8.4" class="pl">A</text>
<use href="#one" transform="translate(425.60,190.10) scale(8.400)" class="pl"/>
<text x="405" y="282.1" font-size="8.4" class="pl">A2</text>
<text x="455.4" y="282.3" font-size="8.4" class="pl">B2</text>
<text x="469.1" y="243.4" font-size="8.4" class="pl">B</text>
<use href="#one" transform="translate(474.70,243.40) scale(8.400)" class="pl"/>
<text transform="translate(16.0,166.2) rotate(-90)" font-size="19.7" text-anchor="middle">Normalized Intensity (a.u.)</text>
<text x="192.1" y="344.5" font-size="17.4">Raman shift</text>
<text x="290.9" y="344.5" font-size="17.4">(cm</text>
<rect x="320.6" y="332.7" width="3.8" height="1.4" fill="#111"/>
<use href="#one" transform="translate(326.60,336.80) scale(13.000)"/>
<text x="333.0" y="344.5" font-size="17">)</text>
</svg></body></html>
